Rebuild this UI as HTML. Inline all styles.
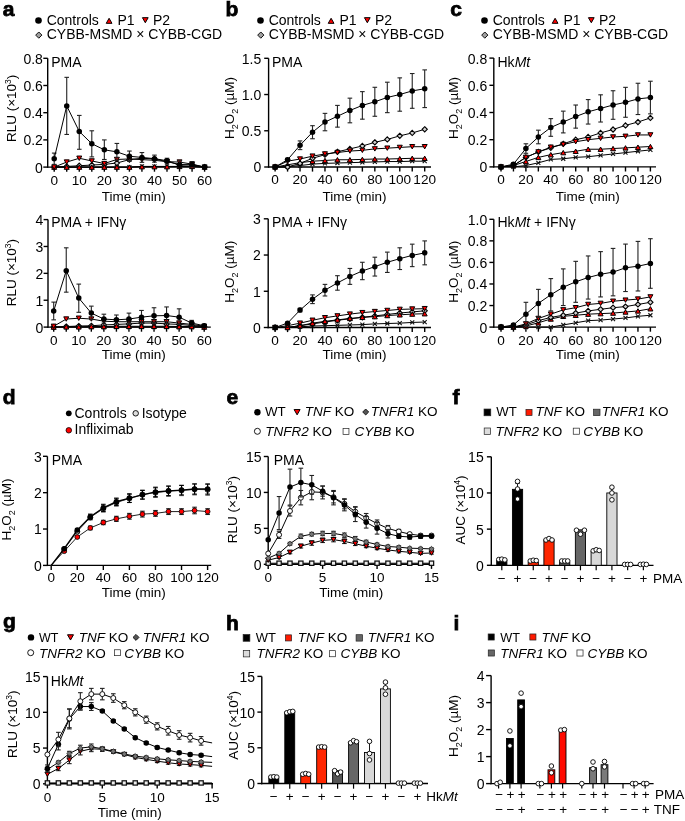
<!DOCTYPE html><html><head><meta charset="utf-8"><style>html,body{margin:0;padding:0;background:#fff;}svg{display:block;will-change:transform;}text{font-family:"Liberation Sans", sans-serif;}</style></head><body>
<svg width="685" height="821" viewBox="0 0 685 821">
<text x="2.8" y="15.6" font-size="21" text-anchor="start" font-weight="bold" font-style="normal" fill="#000" stroke="#000" stroke-width="0.75">a</text>
<circle cx="38.5" cy="20.5" r="3.3" fill="#000"/>
<text x="46.7" y="25.1" font-size="14" text-anchor="start" font-weight="normal" font-style="normal" fill="#000" >Controls</text>
<polygon points="106.22,23.33 111.97,23.33 109.1,18.27" fill="#ff0000" stroke="#000" stroke-width="1.0" stroke-linejoin="round"/>
<text x="117.5" y="25.1" font-size="14" text-anchor="start" font-weight="normal" font-style="normal" fill="#000" >P1</text>
<polygon points="142.43,17.67 148.18,17.67 145.3,22.73" fill="#ff0000" stroke="#000" stroke-width="1.0" stroke-linejoin="round"/>
<text x="153" y="25.1" font-size="14" text-anchor="start" font-weight="normal" font-style="normal" fill="#000" >P2</text>
<polygon points="38.8,31.98 41.92,35.1 38.8,38.22 35.68,35.1" fill="#a0a0a0" stroke="#111" stroke-width="1.0"/>
<text x="46.7" y="39.4" font-size="14" text-anchor="start" font-weight="normal" font-style="normal" fill="#000"  textLength="175.5" lengthAdjust="spacingAndGlyphs">CYBB-MSMD × CYBB-CGD</text>
<line x1="47.7" y1="58.3" x2="47.7" y2="167.75" stroke="#000" stroke-width="1.4" />
<line x1="43.3" y1="167.1" x2="47.7" y2="167.1" stroke="#000" stroke-width="1.4" />
<text x="42.9" y="172.5" font-size="14" text-anchor="end" font-weight="normal" font-style="normal" fill="#000" >0</text>
<line x1="43.3" y1="139.9" x2="47.7" y2="139.9" stroke="#000" stroke-width="1.4" />
<text x="42.9" y="145.3" font-size="14" text-anchor="end" font-weight="normal" font-style="normal" fill="#000" >0.2</text>
<line x1="43.3" y1="112.7" x2="47.7" y2="112.7" stroke="#000" stroke-width="1.4" />
<text x="42.9" y="118.1" font-size="14" text-anchor="end" font-weight="normal" font-style="normal" fill="#000" >0.4</text>
<line x1="43.3" y1="85.5" x2="47.7" y2="85.5" stroke="#000" stroke-width="1.4" />
<text x="42.9" y="90.9" font-size="14" text-anchor="end" font-weight="normal" font-style="normal" fill="#000" >0.6</text>
<line x1="43.3" y1="58.3" x2="47.7" y2="58.3" stroke="#000" stroke-width="1.4" />
<text x="42.9" y="63.7" font-size="14" text-anchor="end" font-weight="normal" font-style="normal" fill="#000" >0.8</text>
<line x1="47.05" y1="167.1" x2="210.8" y2="167.1" stroke="#000" stroke-width="1.4" />
<line x1="54.2" y1="167.1" x2="54.2" y2="171.7" stroke="#000" stroke-width="1.4" />
<text x="54.2" y="184.5" font-size="13.6" text-anchor="middle" font-weight="normal" font-style="normal" fill="#000" >0</text>
<line x1="66.73" y1="167.1" x2="66.73" y2="171.7" stroke="#000" stroke-width="1.4" />
<line x1="79.27" y1="167.1" x2="79.27" y2="171.7" stroke="#000" stroke-width="1.4" />
<text x="79.27" y="184.5" font-size="13.6" text-anchor="middle" font-weight="normal" font-style="normal" fill="#000" >10</text>
<line x1="91.8" y1="167.1" x2="91.8" y2="171.7" stroke="#000" stroke-width="1.4" />
<line x1="104.33" y1="167.1" x2="104.33" y2="171.7" stroke="#000" stroke-width="1.4" />
<text x="104.33" y="184.5" font-size="13.6" text-anchor="middle" font-weight="normal" font-style="normal" fill="#000" >20</text>
<line x1="116.87" y1="167.1" x2="116.87" y2="171.7" stroke="#000" stroke-width="1.4" />
<line x1="129.4" y1="167.1" x2="129.4" y2="171.7" stroke="#000" stroke-width="1.4" />
<text x="129.4" y="184.5" font-size="13.6" text-anchor="middle" font-weight="normal" font-style="normal" fill="#000" >30</text>
<line x1="141.93" y1="167.1" x2="141.93" y2="171.7" stroke="#000" stroke-width="1.4" />
<line x1="154.47" y1="167.1" x2="154.47" y2="171.7" stroke="#000" stroke-width="1.4" />
<text x="154.47" y="184.5" font-size="13.6" text-anchor="middle" font-weight="normal" font-style="normal" fill="#000" >40</text>
<line x1="167" y1="167.1" x2="167" y2="171.7" stroke="#000" stroke-width="1.4" />
<line x1="179.53" y1="167.1" x2="179.53" y2="171.7" stroke="#000" stroke-width="1.4" />
<text x="179.53" y="184.5" font-size="13.6" text-anchor="middle" font-weight="normal" font-style="normal" fill="#000" >50</text>
<line x1="192.07" y1="167.1" x2="192.07" y2="171.7" stroke="#000" stroke-width="1.4" />
<line x1="204.6" y1="167.1" x2="204.6" y2="171.7" stroke="#000" stroke-width="1.4" />
<text x="204.6" y="184.5" font-size="13.6" text-anchor="middle" font-weight="normal" font-style="normal" fill="#000" >60</text>
<text x="51.2" y="66.5" font-size="14" text-anchor="start" font-weight="normal" font-style="normal" fill="#000" >PMA</text>
<text x="0" y="0" font-size="13.5" text-anchor="middle" transform="translate(16.2,108.4) rotate(-90)">RLU (×10<tspan font-size="8.5" dy="-5">3</tspan><tspan dy="5">)</tspan></text>
<text x="133.8" y="200.6" font-size="13.5" text-anchor="middle" font-weight="normal" font-style="normal" fill="#000" >Time (min)</text>
<path d="M54.2,167.1 L66.73,167.1 L79.27,167.1 L91.8,167.1 L104.33,167.1 L116.87,167.1 L129.4,167.1 L141.93,166.42 L154.47,166.42 L167,166.42 L179.53,166.42 L192.07,166.42 L204.6,167.1" fill="none" stroke="#000" stroke-width="1.0"/>
<path d="M52.2,165.1L56.2,169.1M56.2,165.1L52.2,169.1" stroke="#111" stroke-width="1.1" fill="none"/>
<path d="M64.73,165.1L68.73,169.1M68.73,165.1L64.73,169.1" stroke="#111" stroke-width="1.1" fill="none"/>
<path d="M77.27,165.1L81.27,169.1M81.27,165.1L77.27,169.1" stroke="#111" stroke-width="1.1" fill="none"/>
<path d="M89.8,165.1L93.8,169.1M93.8,165.1L89.8,169.1" stroke="#111" stroke-width="1.1" fill="none"/>
<path d="M102.33,165.1L106.33,169.1M106.33,165.1L102.33,169.1" stroke="#111" stroke-width="1.1" fill="none"/>
<path d="M114.87,165.1L118.87,169.1M118.87,165.1L114.87,169.1" stroke="#111" stroke-width="1.1" fill="none"/>
<path d="M127.4,165.1L131.4,169.1M131.4,165.1L127.4,169.1" stroke="#111" stroke-width="1.1" fill="none"/>
<path d="M139.93,164.42L143.93,168.42M143.93,164.42L139.93,168.42" stroke="#111" stroke-width="1.1" fill="none"/>
<path d="M152.47,164.42L156.47,168.42M156.47,164.42L152.47,168.42" stroke="#111" stroke-width="1.1" fill="none"/>
<path d="M165,164.42L169,168.42M169,164.42L165,168.42" stroke="#111" stroke-width="1.1" fill="none"/>
<path d="M177.53,164.42L181.53,168.42M181.53,164.42L177.53,168.42" stroke="#111" stroke-width="1.1" fill="none"/>
<path d="M190.07,164.42L194.07,168.42M194.07,164.42L190.07,168.42" stroke="#111" stroke-width="1.1" fill="none"/>
<path d="M202.6,165.1L206.6,169.1M206.6,165.1L202.6,169.1" stroke="#111" stroke-width="1.1" fill="none"/>
<path d="M54.2,167.1 L66.73,166.42 L79.27,165.74 L91.8,165.06 L104.33,164.38 L116.87,163.02 L129.4,159.62 L141.93,158.26 L154.47,158.94 L167,161.66 L179.53,164.38 L192.07,165.06 L204.6,167.1" fill="none" stroke="#000" stroke-width="1.0"/>
<polygon points="54.2,164.5 56.8,167.1 54.2,169.7 51.6,167.1" fill="#d0d0d0" stroke="#000" stroke-width="1.1"/>
<polygon points="66.73,163.82 69.33,166.42 66.73,169.02 64.13,166.42" fill="#d0d0d0" stroke="#000" stroke-width="1.1"/>
<polygon points="79.27,163.14 81.87,165.74 79.27,168.34 76.67,165.74" fill="#d0d0d0" stroke="#000" stroke-width="1.1"/>
<polygon points="91.8,162.46 94.4,165.06 91.8,167.66 89.2,165.06" fill="#d0d0d0" stroke="#000" stroke-width="1.1"/>
<polygon points="104.33,161.78 106.93,164.38 104.33,166.98 101.73,164.38" fill="#d0d0d0" stroke="#000" stroke-width="1.1"/>
<polygon points="116.87,160.42 119.47,163.02 116.87,165.62 114.27,163.02" fill="#d0d0d0" stroke="#000" stroke-width="1.1"/>
<polygon points="129.4,157.02 132,159.62 129.4,162.22 126.8,159.62" fill="#d0d0d0" stroke="#000" stroke-width="1.1"/>
<polygon points="141.93,155.66 144.53,158.26 141.93,160.86 139.33,158.26" fill="#d0d0d0" stroke="#000" stroke-width="1.1"/>
<polygon points="154.47,156.34 157.07,158.94 154.47,161.54 151.87,158.94" fill="#d0d0d0" stroke="#000" stroke-width="1.1"/>
<polygon points="167,159.06 169.6,161.66 167,164.26 164.4,161.66" fill="#d0d0d0" stroke="#000" stroke-width="1.1"/>
<polygon points="179.53,161.78 182.13,164.38 179.53,166.98 176.93,164.38" fill="#d0d0d0" stroke="#000" stroke-width="1.1"/>
<polygon points="192.07,162.46 194.67,165.06 192.07,167.66 189.47,165.06" fill="#d0d0d0" stroke="#000" stroke-width="1.1"/>
<polygon points="204.6,164.5 207.2,167.1 204.6,169.7 202,167.1" fill="#d0d0d0" stroke="#000" stroke-width="1.1"/>
<path d="M54.2,167.1 L66.73,167.1 L79.27,167.1 L91.8,167.1 L104.33,167.1 L116.87,167.1 L129.4,167.1 L141.93,166.69 L154.47,166.69 L167,166.69 L179.53,166.42 L192.07,166.42 L204.6,167.1" fill="none" stroke="#000" stroke-width="1.0"/>
<polygon points="51.7,169.3 56.7,169.3 54.2,164.9" fill="#ff0000" stroke="#000" stroke-width="1.0" stroke-linejoin="round"/>
<polygon points="64.23,169.3 69.23,169.3 66.73,164.9" fill="#ff0000" stroke="#000" stroke-width="1.0" stroke-linejoin="round"/>
<polygon points="76.77,169.3 81.77,169.3 79.27,164.9" fill="#ff0000" stroke="#000" stroke-width="1.0" stroke-linejoin="round"/>
<polygon points="89.3,169.3 94.3,169.3 91.8,164.9" fill="#ff0000" stroke="#000" stroke-width="1.0" stroke-linejoin="round"/>
<polygon points="101.83,169.3 106.83,169.3 104.33,164.9" fill="#ff0000" stroke="#000" stroke-width="1.0" stroke-linejoin="round"/>
<polygon points="114.37,169.3 119.37,169.3 116.87,164.9" fill="#ff0000" stroke="#000" stroke-width="1.0" stroke-linejoin="round"/>
<polygon points="126.9,169.3 131.9,169.3 129.4,164.9" fill="#ff0000" stroke="#000" stroke-width="1.0" stroke-linejoin="round"/>
<polygon points="139.43,168.89 144.43,168.89 141.93,164.49" fill="#ff0000" stroke="#000" stroke-width="1.0" stroke-linejoin="round"/>
<polygon points="151.97,168.89 156.97,168.89 154.47,164.49" fill="#ff0000" stroke="#000" stroke-width="1.0" stroke-linejoin="round"/>
<polygon points="164.5,168.89 169.5,168.89 167,164.49" fill="#ff0000" stroke="#000" stroke-width="1.0" stroke-linejoin="round"/>
<polygon points="177.03,168.62 182.03,168.62 179.53,164.22" fill="#ff0000" stroke="#000" stroke-width="1.0" stroke-linejoin="round"/>
<polygon points="189.57,168.62 194.57,168.62 192.07,164.22" fill="#ff0000" stroke="#000" stroke-width="1.0" stroke-linejoin="round"/>
<polygon points="202.1,169.3 207.1,169.3 204.6,164.9" fill="#ff0000" stroke="#000" stroke-width="1.0" stroke-linejoin="round"/>
<path d="M54.2,167.1 L66.73,162.07 L79.27,158.26 L91.8,160.98 L104.33,163.56 L116.87,159.48 L129.4,158.94 L141.93,159.62 L154.47,160.3 L167,161.66 L179.53,162.07 L192.07,164.11 L204.6,167.1" fill="none" stroke="#000" stroke-width="1.0"/>
<polygon points="51.7,164.9 56.7,164.9 54.2,169.3" fill="#ff0000" stroke="#000" stroke-width="1.0" stroke-linejoin="round"/>
<polygon points="64.23,159.87 69.23,159.87 66.73,164.27" fill="#ff0000" stroke="#000" stroke-width="1.0" stroke-linejoin="round"/>
<polygon points="76.77,156.06 81.77,156.06 79.27,160.46" fill="#ff0000" stroke="#000" stroke-width="1.0" stroke-linejoin="round"/>
<polygon points="89.3,158.78 94.3,158.78 91.8,163.18" fill="#ff0000" stroke="#000" stroke-width="1.0" stroke-linejoin="round"/>
<polygon points="101.83,161.36 106.83,161.36 104.33,165.76" fill="#ff0000" stroke="#000" stroke-width="1.0" stroke-linejoin="round"/>
<polygon points="114.37,157.28 119.37,157.28 116.87,161.68" fill="#ff0000" stroke="#000" stroke-width="1.0" stroke-linejoin="round"/>
<polygon points="126.9,156.74 131.9,156.74 129.4,161.14" fill="#ff0000" stroke="#000" stroke-width="1.0" stroke-linejoin="round"/>
<polygon points="139.43,157.42 144.43,157.42 141.93,161.82" fill="#ff0000" stroke="#000" stroke-width="1.0" stroke-linejoin="round"/>
<polygon points="151.97,158.1 156.97,158.1 154.47,162.5" fill="#ff0000" stroke="#000" stroke-width="1.0" stroke-linejoin="round"/>
<polygon points="164.5,159.46 169.5,159.46 167,163.86" fill="#ff0000" stroke="#000" stroke-width="1.0" stroke-linejoin="round"/>
<polygon points="177.03,159.87 182.03,159.87 179.53,164.27" fill="#ff0000" stroke="#000" stroke-width="1.0" stroke-linejoin="round"/>
<polygon points="189.57,161.91 194.57,161.91 192.07,166.31" fill="#ff0000" stroke="#000" stroke-width="1.0" stroke-linejoin="round"/>
<polygon points="202.1,164.9 207.1,164.9 204.6,169.3" fill="#ff0000" stroke="#000" stroke-width="1.0" stroke-linejoin="round"/>
<line x1="54.2" y1="153.09" x2="54.2" y2="164.38" stroke="#222" stroke-width="1.1" />
<line x1="51.9" y1="153.09" x2="56.5" y2="153.09" stroke="#222" stroke-width="1.1" />
<line x1="51.9" y1="164.38" x2="56.5" y2="164.38" stroke="#222" stroke-width="1.1" />
<line x1="66.73" y1="77.34" x2="66.73" y2="134.46" stroke="#222" stroke-width="1.1" />
<line x1="64.43" y1="77.34" x2="69.03" y2="77.34" stroke="#222" stroke-width="1.1" />
<line x1="64.43" y1="134.46" x2="69.03" y2="134.46" stroke="#222" stroke-width="1.1" />
<line x1="79.27" y1="115.42" x2="79.27" y2="149.28" stroke="#222" stroke-width="1.1" />
<line x1="76.97" y1="115.42" x2="81.57" y2="115.42" stroke="#222" stroke-width="1.1" />
<line x1="76.97" y1="149.28" x2="81.57" y2="149.28" stroke="#222" stroke-width="1.1" />
<line x1="91.8" y1="130.79" x2="91.8" y2="156.9" stroke="#222" stroke-width="1.1" />
<line x1="89.5" y1="130.79" x2="94.1" y2="130.79" stroke="#222" stroke-width="1.1" />
<line x1="89.5" y1="156.9" x2="94.1" y2="156.9" stroke="#222" stroke-width="1.1" />
<line x1="104.33" y1="139.9" x2="104.33" y2="159.48" stroke="#222" stroke-width="1.1" />
<line x1="102.03" y1="139.9" x2="106.63" y2="139.9" stroke="#222" stroke-width="1.1" />
<line x1="102.03" y1="159.48" x2="106.63" y2="159.48" stroke="#222" stroke-width="1.1" />
<line x1="116.87" y1="143.44" x2="116.87" y2="160.3" stroke="#222" stroke-width="1.1" />
<line x1="114.57" y1="143.44" x2="119.17" y2="143.44" stroke="#222" stroke-width="1.1" />
<line x1="114.57" y1="160.3" x2="119.17" y2="160.3" stroke="#222" stroke-width="1.1" />
<line x1="129.4" y1="151.05" x2="129.4" y2="161.39" stroke="#222" stroke-width="1.1" />
<line x1="127.1" y1="151.05" x2="131.7" y2="151.05" stroke="#222" stroke-width="1.1" />
<line x1="127.1" y1="161.39" x2="131.7" y2="161.39" stroke="#222" stroke-width="1.1" />
<line x1="141.93" y1="152.55" x2="141.93" y2="162.34" stroke="#222" stroke-width="1.1" />
<line x1="139.63" y1="152.55" x2="144.23" y2="152.55" stroke="#222" stroke-width="1.1" />
<line x1="139.63" y1="162.34" x2="144.23" y2="162.34" stroke="#222" stroke-width="1.1" />
<line x1="154.47" y1="155.13" x2="154.47" y2="162.2" stroke="#222" stroke-width="1.1" />
<line x1="152.17" y1="155.13" x2="156.77" y2="155.13" stroke="#222" stroke-width="1.1" />
<line x1="152.17" y1="162.2" x2="156.77" y2="162.2" stroke="#222" stroke-width="1.1" />
<line x1="167" y1="158.26" x2="167" y2="163.02" stroke="#222" stroke-width="1.1" />
<line x1="164.7" y1="158.26" x2="169.3" y2="158.26" stroke="#222" stroke-width="1.1" />
<line x1="164.7" y1="163.02" x2="169.3" y2="163.02" stroke="#222" stroke-width="1.1" />
<line x1="179.53" y1="160.71" x2="179.53" y2="167.1" stroke="#222" stroke-width="1.1" />
<line x1="177.23" y1="160.71" x2="181.83" y2="160.71" stroke="#222" stroke-width="1.1" />
<line x1="177.23" y1="167.1" x2="181.83" y2="167.1" stroke="#222" stroke-width="1.1" />
<line x1="192.07" y1="161.52" x2="192.07" y2="167.1" stroke="#222" stroke-width="1.1" />
<line x1="189.77" y1="161.52" x2="194.37" y2="161.52" stroke="#222" stroke-width="1.1" />
<line x1="189.77" y1="167.1" x2="194.37" y2="167.1" stroke="#222" stroke-width="1.1" />
<path d="M54.2,158.67 L66.73,105.9 L79.27,131.47 L91.8,143.71 L104.33,149.83 L116.87,151.87 L129.4,156.22 L141.93,157.44 L154.47,158.67 L167,160.71 L179.53,165.33 L192.07,164.52 L204.6,167.1" fill="none" stroke="#000" stroke-width="1.0"/>
<circle cx="54.2" cy="158.67" r="2.75" fill="#000"/>
<circle cx="66.73" cy="105.9" r="2.75" fill="#000"/>
<circle cx="79.27" cy="131.47" r="2.75" fill="#000"/>
<circle cx="91.8" cy="143.71" r="2.75" fill="#000"/>
<circle cx="104.33" cy="149.83" r="2.75" fill="#000"/>
<circle cx="116.87" cy="151.87" r="2.75" fill="#000"/>
<circle cx="129.4" cy="156.22" r="2.75" fill="#000"/>
<circle cx="141.93" cy="157.44" r="2.75" fill="#000"/>
<circle cx="154.47" cy="158.67" r="2.75" fill="#000"/>
<circle cx="167" cy="160.71" r="2.75" fill="#000"/>
<circle cx="179.53" cy="165.33" r="2.75" fill="#000"/>
<circle cx="192.07" cy="164.52" r="2.75" fill="#000"/>
<circle cx="204.6" cy="167.1" r="2.75" fill="#000"/>
<line x1="48" y1="219.6" x2="48" y2="327.75" stroke="#000" stroke-width="1.4" />
<line x1="43.6" y1="327.1" x2="48" y2="327.1" stroke="#000" stroke-width="1.4" />
<text x="43.2" y="332.5" font-size="14" text-anchor="end" font-weight="normal" font-style="normal" fill="#000" >0</text>
<line x1="43.6" y1="300.23" x2="48" y2="300.23" stroke="#000" stroke-width="1.4" />
<text x="43.2" y="305.62" font-size="14" text-anchor="end" font-weight="normal" font-style="normal" fill="#000" >1</text>
<line x1="43.6" y1="273.35" x2="48" y2="273.35" stroke="#000" stroke-width="1.4" />
<text x="43.2" y="278.75" font-size="14" text-anchor="end" font-weight="normal" font-style="normal" fill="#000" >2</text>
<line x1="43.6" y1="246.47" x2="48" y2="246.47" stroke="#000" stroke-width="1.4" />
<text x="43.2" y="251.88" font-size="14" text-anchor="end" font-weight="normal" font-style="normal" fill="#000" >3</text>
<line x1="43.6" y1="219.6" x2="48" y2="219.6" stroke="#000" stroke-width="1.4" />
<text x="43.2" y="225" font-size="14" text-anchor="end" font-weight="normal" font-style="normal" fill="#000" >4</text>
<line x1="47.35" y1="327.1" x2="210.8" y2="327.1" stroke="#000" stroke-width="1.4" />
<line x1="53.7" y1="327.1" x2="53.7" y2="331.7" stroke="#000" stroke-width="1.4" />
<text x="53.7" y="344.5" font-size="13.6" text-anchor="middle" font-weight="normal" font-style="normal" fill="#000" >0</text>
<line x1="66.24" y1="327.1" x2="66.24" y2="331.7" stroke="#000" stroke-width="1.4" />
<line x1="78.78" y1="327.1" x2="78.78" y2="331.7" stroke="#000" stroke-width="1.4" />
<text x="78.78" y="344.5" font-size="13.6" text-anchor="middle" font-weight="normal" font-style="normal" fill="#000" >10</text>
<line x1="91.33" y1="327.1" x2="91.33" y2="331.7" stroke="#000" stroke-width="1.4" />
<line x1="103.87" y1="327.1" x2="103.87" y2="331.7" stroke="#000" stroke-width="1.4" />
<text x="103.87" y="344.5" font-size="13.6" text-anchor="middle" font-weight="normal" font-style="normal" fill="#000" >20</text>
<line x1="116.41" y1="327.1" x2="116.41" y2="331.7" stroke="#000" stroke-width="1.4" />
<line x1="128.95" y1="327.1" x2="128.95" y2="331.7" stroke="#000" stroke-width="1.4" />
<text x="128.95" y="344.5" font-size="13.6" text-anchor="middle" font-weight="normal" font-style="normal" fill="#000" >30</text>
<line x1="141.49" y1="327.1" x2="141.49" y2="331.7" stroke="#000" stroke-width="1.4" />
<line x1="154.03" y1="327.1" x2="154.03" y2="331.7" stroke="#000" stroke-width="1.4" />
<text x="154.03" y="344.5" font-size="13.6" text-anchor="middle" font-weight="normal" font-style="normal" fill="#000" >40</text>
<line x1="166.57" y1="327.1" x2="166.57" y2="331.7" stroke="#000" stroke-width="1.4" />
<line x1="179.12" y1="327.1" x2="179.12" y2="331.7" stroke="#000" stroke-width="1.4" />
<text x="179.12" y="344.5" font-size="13.6" text-anchor="middle" font-weight="normal" font-style="normal" fill="#000" >50</text>
<line x1="191.66" y1="327.1" x2="191.66" y2="331.7" stroke="#000" stroke-width="1.4" />
<line x1="204.2" y1="327.1" x2="204.2" y2="331.7" stroke="#000" stroke-width="1.4" />
<text x="204.2" y="344.5" font-size="13.6" text-anchor="middle" font-weight="normal" font-style="normal" fill="#000" >60</text>
<text x="51.2" y="226.5" font-size="14" text-anchor="start" font-weight="normal" font-style="normal" fill="#000" >PMA + IFNγ</text>
<text x="0" y="0" font-size="13.5" text-anchor="middle" transform="translate(16.2,272.6) rotate(-90)">RLU (×10<tspan font-size="8.5" dy="-5">3</tspan><tspan dy="5">)</tspan></text>
<text x="133.8" y="358.5" font-size="13.5" text-anchor="middle" font-weight="normal" font-style="normal" fill="#000" >Time (min)</text>
<path d="M53.7,327.1 L66.24,327.1 L78.78,327.1 L91.33,327.1 L103.87,327.1 L116.41,327.1 L128.95,327.1 L141.49,327.1 L154.03,327.1 L166.57,327.1 L179.12,327.1 L191.66,327.1 L204.2,327.1" fill="none" stroke="#000" stroke-width="1.0"/>
<path d="M51.7,325.1L55.7,329.1M55.7,325.1L51.7,329.1" stroke="#111" stroke-width="1.1" fill="none"/>
<path d="M64.24,325.1L68.24,329.1M68.24,325.1L64.24,329.1" stroke="#111" stroke-width="1.1" fill="none"/>
<path d="M76.78,325.1L80.78,329.1M80.78,325.1L76.78,329.1" stroke="#111" stroke-width="1.1" fill="none"/>
<path d="M89.33,325.1L93.33,329.1M93.33,325.1L89.33,329.1" stroke="#111" stroke-width="1.1" fill="none"/>
<path d="M101.87,325.1L105.87,329.1M105.87,325.1L101.87,329.1" stroke="#111" stroke-width="1.1" fill="none"/>
<path d="M114.41,325.1L118.41,329.1M118.41,325.1L114.41,329.1" stroke="#111" stroke-width="1.1" fill="none"/>
<path d="M126.95,325.1L130.95,329.1M130.95,325.1L126.95,329.1" stroke="#111" stroke-width="1.1" fill="none"/>
<path d="M139.49,325.1L143.49,329.1M143.49,325.1L139.49,329.1" stroke="#111" stroke-width="1.1" fill="none"/>
<path d="M152.03,325.1L156.03,329.1M156.03,325.1L152.03,329.1" stroke="#111" stroke-width="1.1" fill="none"/>
<path d="M164.57,325.1L168.57,329.1M168.57,325.1L164.57,329.1" stroke="#111" stroke-width="1.1" fill="none"/>
<path d="M177.12,325.1L181.12,329.1M181.12,325.1L177.12,329.1" stroke="#111" stroke-width="1.1" fill="none"/>
<path d="M189.66,325.1L193.66,329.1M193.66,325.1L189.66,329.1" stroke="#111" stroke-width="1.1" fill="none"/>
<path d="M202.2,325.1L206.2,329.1M206.2,325.1L202.2,329.1" stroke="#111" stroke-width="1.1" fill="none"/>
<path d="M53.7,327.1 L66.24,326.56 L78.78,326.03 L91.33,325.76 L103.87,324.95 L116.41,324.41 L128.95,323.88 L141.49,323.07 L154.03,323.07 L166.57,323.88 L179.12,324.41 L191.66,325.49 L204.2,326.56" fill="none" stroke="#000" stroke-width="1.0"/>
<polygon points="53.7,324.5 56.3,327.1 53.7,329.7 51.1,327.1" fill="#d0d0d0" stroke="#000" stroke-width="1.1"/>
<polygon points="66.24,323.96 68.84,326.56 66.24,329.16 63.64,326.56" fill="#d0d0d0" stroke="#000" stroke-width="1.1"/>
<polygon points="78.78,323.43 81.38,326.03 78.78,328.63 76.18,326.03" fill="#d0d0d0" stroke="#000" stroke-width="1.1"/>
<polygon points="91.33,323.16 93.92,325.76 91.33,328.36 88.73,325.76" fill="#d0d0d0" stroke="#000" stroke-width="1.1"/>
<polygon points="103.87,322.35 106.47,324.95 103.87,327.55 101.27,324.95" fill="#d0d0d0" stroke="#000" stroke-width="1.1"/>
<polygon points="116.41,321.81 119.01,324.41 116.41,327.01 113.81,324.41" fill="#d0d0d0" stroke="#000" stroke-width="1.1"/>
<polygon points="128.95,321.27 131.55,323.88 128.95,326.48 126.35,323.88" fill="#d0d0d0" stroke="#000" stroke-width="1.1"/>
<polygon points="141.49,320.47 144.09,323.07 141.49,325.67 138.89,323.07" fill="#d0d0d0" stroke="#000" stroke-width="1.1"/>
<polygon points="154.03,320.47 156.63,323.07 154.03,325.67 151.43,323.07" fill="#d0d0d0" stroke="#000" stroke-width="1.1"/>
<polygon points="166.57,321.27 169.17,323.88 166.57,326.48 163.97,323.88" fill="#d0d0d0" stroke="#000" stroke-width="1.1"/>
<polygon points="179.12,321.81 181.72,324.41 179.12,327.01 176.52,324.41" fill="#d0d0d0" stroke="#000" stroke-width="1.1"/>
<polygon points="191.66,322.89 194.26,325.49 191.66,328.09 189.06,325.49" fill="#d0d0d0" stroke="#000" stroke-width="1.1"/>
<polygon points="204.2,323.96 206.8,326.56 204.2,329.16 201.6,326.56" fill="#d0d0d0" stroke="#000" stroke-width="1.1"/>
<path d="M53.7,327.1 L66.24,326.83 L78.78,326.83 L91.33,326.56 L103.87,326.56 L116.41,326.29 L128.95,326.29 L141.49,326.29 L154.03,326.29 L166.57,326.29 L179.12,326.56 L191.66,326.56 L204.2,327.1" fill="none" stroke="#000" stroke-width="1.0"/>
<polygon points="51.2,329.3 56.2,329.3 53.7,324.9" fill="#ff0000" stroke="#000" stroke-width="1.0" stroke-linejoin="round"/>
<polygon points="63.74,329.03 68.74,329.03 66.24,324.63" fill="#ff0000" stroke="#000" stroke-width="1.0" stroke-linejoin="round"/>
<polygon points="76.28,329.03 81.28,329.03 78.78,324.63" fill="#ff0000" stroke="#000" stroke-width="1.0" stroke-linejoin="round"/>
<polygon points="88.83,328.76 93.83,328.76 91.33,324.36" fill="#ff0000" stroke="#000" stroke-width="1.0" stroke-linejoin="round"/>
<polygon points="101.37,328.76 106.37,328.76 103.87,324.36" fill="#ff0000" stroke="#000" stroke-width="1.0" stroke-linejoin="round"/>
<polygon points="113.91,328.49 118.91,328.49 116.41,324.09" fill="#ff0000" stroke="#000" stroke-width="1.0" stroke-linejoin="round"/>
<polygon points="126.45,328.49 131.45,328.49 128.95,324.09" fill="#ff0000" stroke="#000" stroke-width="1.0" stroke-linejoin="round"/>
<polygon points="138.99,328.49 143.99,328.49 141.49,324.09" fill="#ff0000" stroke="#000" stroke-width="1.0" stroke-linejoin="round"/>
<polygon points="151.53,328.49 156.53,328.49 154.03,324.09" fill="#ff0000" stroke="#000" stroke-width="1.0" stroke-linejoin="round"/>
<polygon points="164.07,328.49 169.07,328.49 166.57,324.09" fill="#ff0000" stroke="#000" stroke-width="1.0" stroke-linejoin="round"/>
<polygon points="176.62,328.76 181.62,328.76 179.12,324.36" fill="#ff0000" stroke="#000" stroke-width="1.0" stroke-linejoin="round"/>
<polygon points="189.16,328.76 194.16,328.76 191.66,324.36" fill="#ff0000" stroke="#000" stroke-width="1.0" stroke-linejoin="round"/>
<polygon points="201.7,329.3 206.7,329.3 204.2,324.9" fill="#ff0000" stroke="#000" stroke-width="1.0" stroke-linejoin="round"/>
<path d="M53.7,326.29 L66.24,319.04 L78.78,318.23 L91.33,319.04 L103.87,321.19 L116.41,321.73 L128.95,321.73 L141.49,321.73 L154.03,321.73 L166.57,321.73 L179.12,323.07 L191.66,324.41 L204.2,326.29" fill="none" stroke="#000" stroke-width="1.0"/>
<polygon points="51.2,324.09 56.2,324.09 53.7,328.49" fill="#ff0000" stroke="#000" stroke-width="1.0" stroke-linejoin="round"/>
<polygon points="63.74,316.84 68.74,316.84 66.24,321.24" fill="#ff0000" stroke="#000" stroke-width="1.0" stroke-linejoin="round"/>
<polygon points="76.28,316.03 81.28,316.03 78.78,320.43" fill="#ff0000" stroke="#000" stroke-width="1.0" stroke-linejoin="round"/>
<polygon points="88.83,316.84 93.83,316.84 91.33,321.24" fill="#ff0000" stroke="#000" stroke-width="1.0" stroke-linejoin="round"/>
<polygon points="101.37,318.99 106.37,318.99 103.87,323.39" fill="#ff0000" stroke="#000" stroke-width="1.0" stroke-linejoin="round"/>
<polygon points="113.91,319.53 118.91,319.53 116.41,323.93" fill="#ff0000" stroke="#000" stroke-width="1.0" stroke-linejoin="round"/>
<polygon points="126.45,319.53 131.45,319.53 128.95,323.93" fill="#ff0000" stroke="#000" stroke-width="1.0" stroke-linejoin="round"/>
<polygon points="138.99,319.53 143.99,319.53 141.49,323.93" fill="#ff0000" stroke="#000" stroke-width="1.0" stroke-linejoin="round"/>
<polygon points="151.53,319.53 156.53,319.53 154.03,323.93" fill="#ff0000" stroke="#000" stroke-width="1.0" stroke-linejoin="round"/>
<polygon points="164.07,319.53 169.07,319.53 166.57,323.93" fill="#ff0000" stroke="#000" stroke-width="1.0" stroke-linejoin="round"/>
<polygon points="176.62,320.87 181.62,320.87 179.12,325.27" fill="#ff0000" stroke="#000" stroke-width="1.0" stroke-linejoin="round"/>
<polygon points="189.16,322.21 194.16,322.21 191.66,326.61" fill="#ff0000" stroke="#000" stroke-width="1.0" stroke-linejoin="round"/>
<polygon points="201.7,324.09 206.7,324.09 204.2,328.49" fill="#ff0000" stroke="#000" stroke-width="1.0" stroke-linejoin="round"/>
<line x1="53.7" y1="302.11" x2="53.7" y2="319.84" stroke="#222" stroke-width="1.1" />
<line x1="51.4" y1="302.11" x2="56" y2="302.11" stroke="#222" stroke-width="1.1" />
<line x1="51.4" y1="319.84" x2="56" y2="319.84" stroke="#222" stroke-width="1.1" />
<line x1="66.24" y1="247.82" x2="66.24" y2="292.16" stroke="#222" stroke-width="1.1" />
<line x1="63.94" y1="247.82" x2="68.54" y2="247.82" stroke="#222" stroke-width="1.1" />
<line x1="63.94" y1="292.16" x2="68.54" y2="292.16" stroke="#222" stroke-width="1.1" />
<line x1="78.78" y1="284.1" x2="78.78" y2="312.32" stroke="#222" stroke-width="1.1" />
<line x1="76.48" y1="284.1" x2="81.08" y2="284.1" stroke="#222" stroke-width="1.1" />
<line x1="76.48" y1="312.32" x2="81.08" y2="312.32" stroke="#222" stroke-width="1.1" />
<line x1="91.33" y1="306.14" x2="91.33" y2="319.58" stroke="#222" stroke-width="1.1" />
<line x1="89.03" y1="306.14" x2="93.62" y2="306.14" stroke="#222" stroke-width="1.1" />
<line x1="89.03" y1="319.58" x2="93.62" y2="319.58" stroke="#222" stroke-width="1.1" />
<line x1="103.87" y1="314.2" x2="103.87" y2="323.07" stroke="#222" stroke-width="1.1" />
<line x1="101.57" y1="314.2" x2="106.17" y2="314.2" stroke="#222" stroke-width="1.1" />
<line x1="101.57" y1="323.07" x2="106.17" y2="323.07" stroke="#222" stroke-width="1.1" />
<line x1="116.41" y1="315.01" x2="116.41" y2="323.88" stroke="#222" stroke-width="1.1" />
<line x1="114.11" y1="315.01" x2="118.71" y2="315.01" stroke="#222" stroke-width="1.1" />
<line x1="114.11" y1="323.88" x2="118.71" y2="323.88" stroke="#222" stroke-width="1.1" />
<line x1="128.95" y1="313.12" x2="128.95" y2="323.88" stroke="#222" stroke-width="1.1" />
<line x1="126.65" y1="313.12" x2="131.25" y2="313.12" stroke="#222" stroke-width="1.1" />
<line x1="126.65" y1="323.88" x2="131.25" y2="323.88" stroke="#222" stroke-width="1.1" />
<line x1="141.49" y1="310.44" x2="141.49" y2="323.07" stroke="#222" stroke-width="1.1" />
<line x1="139.19" y1="310.44" x2="143.79" y2="310.44" stroke="#222" stroke-width="1.1" />
<line x1="139.19" y1="323.07" x2="143.79" y2="323.07" stroke="#222" stroke-width="1.1" />
<line x1="154.03" y1="307.75" x2="154.03" y2="323.34" stroke="#222" stroke-width="1.1" />
<line x1="151.73" y1="307.75" x2="156.33" y2="307.75" stroke="#222" stroke-width="1.1" />
<line x1="151.73" y1="323.34" x2="156.33" y2="323.34" stroke="#222" stroke-width="1.1" />
<line x1="166.57" y1="306.94" x2="166.57" y2="323.61" stroke="#222" stroke-width="1.1" />
<line x1="164.27" y1="306.94" x2="168.88" y2="306.94" stroke="#222" stroke-width="1.1" />
<line x1="164.27" y1="323.61" x2="168.88" y2="323.61" stroke="#222" stroke-width="1.1" />
<line x1="179.12" y1="308.83" x2="179.12" y2="324.41" stroke="#222" stroke-width="1.1" />
<line x1="176.82" y1="308.83" x2="181.42" y2="308.83" stroke="#222" stroke-width="1.1" />
<line x1="176.82" y1="324.41" x2="181.42" y2="324.41" stroke="#222" stroke-width="1.1" />
<line x1="191.66" y1="320.38" x2="191.66" y2="325.76" stroke="#222" stroke-width="1.1" />
<line x1="189.36" y1="320.38" x2="193.96" y2="320.38" stroke="#222" stroke-width="1.1" />
<line x1="189.36" y1="325.76" x2="193.96" y2="325.76" stroke="#222" stroke-width="1.1" />
<path d="M53.7,310.98 L66.24,270.66 L78.78,298.07 L91.33,313.12 L103.87,319.04 L116.41,319.84 L128.95,319.04 L141.49,317.16 L154.03,315.81 L166.57,315.54 L179.12,317.16 L191.66,323.07 L204.2,325.76" fill="none" stroke="#000" stroke-width="1.0"/>
<circle cx="53.7" cy="310.98" r="2.75" fill="#000"/>
<circle cx="66.24" cy="270.66" r="2.75" fill="#000"/>
<circle cx="78.78" cy="298.07" r="2.75" fill="#000"/>
<circle cx="91.33" cy="313.12" r="2.75" fill="#000"/>
<circle cx="103.87" cy="319.04" r="2.75" fill="#000"/>
<circle cx="116.41" cy="319.84" r="2.75" fill="#000"/>
<circle cx="128.95" cy="319.04" r="2.75" fill="#000"/>
<circle cx="141.49" cy="317.16" r="2.75" fill="#000"/>
<circle cx="154.03" cy="315.81" r="2.75" fill="#000"/>
<circle cx="166.57" cy="315.54" r="2.75" fill="#000"/>
<circle cx="179.12" cy="317.16" r="2.75" fill="#000"/>
<circle cx="191.66" cy="323.07" r="2.75" fill="#000"/>
<circle cx="204.2" cy="325.76" r="2.75" fill="#000"/>
<text x="225.5" y="15.6" font-size="21" text-anchor="start" font-weight="bold" font-style="normal" fill="#000" stroke="#000" stroke-width="0.75">b</text>
<circle cx="260.5" cy="20.5" r="3.3" fill="#000"/>
<text x="268.7" y="25.1" font-size="14" text-anchor="start" font-weight="normal" font-style="normal" fill="#000" >Controls</text>
<polygon points="328.23,23.33 333.98,23.33 331.1,18.27" fill="#ff0000" stroke="#000" stroke-width="1.0" stroke-linejoin="round"/>
<text x="339.5" y="25.1" font-size="14" text-anchor="start" font-weight="normal" font-style="normal" fill="#000" >P1</text>
<polygon points="364.43,17.67 370.18,17.67 367.3,22.73" fill="#ff0000" stroke="#000" stroke-width="1.0" stroke-linejoin="round"/>
<text x="375" y="25.1" font-size="14" text-anchor="start" font-weight="normal" font-style="normal" fill="#000" >P2</text>
<polygon points="260.8,31.98 263.92,35.1 260.8,38.22 257.68,35.1" fill="#a0a0a0" stroke="#111" stroke-width="1.0"/>
<text x="268.7" y="39.4" font-size="14" text-anchor="start" font-weight="normal" font-style="normal" fill="#000"  textLength="175.5" lengthAdjust="spacingAndGlyphs">CYBB-MSMD × CYBB-CGD</text>
<line x1="268.6" y1="58.3" x2="268.6" y2="167.65" stroke="#000" stroke-width="1.4" />
<line x1="264.2" y1="167" x2="268.6" y2="167" stroke="#000" stroke-width="1.4" />
<text x="261.3" y="172.4" font-size="14" text-anchor="end" font-weight="normal" font-style="normal" fill="#000" >0</text>
<line x1="264.2" y1="130.77" x2="268.6" y2="130.77" stroke="#000" stroke-width="1.4" />
<text x="261.3" y="136.17" font-size="14" text-anchor="end" font-weight="normal" font-style="normal" fill="#000" >0.5</text>
<line x1="264.2" y1="94.53" x2="268.6" y2="94.53" stroke="#000" stroke-width="1.4" />
<text x="261.3" y="99.93" font-size="14" text-anchor="end" font-weight="normal" font-style="normal" fill="#000" >1.0</text>
<line x1="264.2" y1="58.3" x2="268.6" y2="58.3" stroke="#000" stroke-width="1.4" />
<text x="261.3" y="63.7" font-size="14" text-anchor="end" font-weight="normal" font-style="normal" fill="#000" >1.5</text>
<line x1="267.95" y1="167" x2="431" y2="167" stroke="#000" stroke-width="1.4" />
<line x1="275.1" y1="167" x2="275.1" y2="171.6" stroke="#000" stroke-width="1.4" />
<text x="275.1" y="184.4" font-size="13.6" text-anchor="middle" font-weight="normal" font-style="normal" fill="#000" >0</text>
<line x1="287.57" y1="167" x2="287.57" y2="171.6" stroke="#000" stroke-width="1.4" />
<line x1="300.03" y1="167" x2="300.03" y2="171.6" stroke="#000" stroke-width="1.4" />
<text x="300.03" y="184.4" font-size="13.6" text-anchor="middle" font-weight="normal" font-style="normal" fill="#000" >20</text>
<line x1="312.5" y1="167" x2="312.5" y2="171.6" stroke="#000" stroke-width="1.4" />
<line x1="324.97" y1="167" x2="324.97" y2="171.6" stroke="#000" stroke-width="1.4" />
<text x="324.97" y="184.4" font-size="13.6" text-anchor="middle" font-weight="normal" font-style="normal" fill="#000" >40</text>
<line x1="337.43" y1="167" x2="337.43" y2="171.6" stroke="#000" stroke-width="1.4" />
<line x1="349.9" y1="167" x2="349.9" y2="171.6" stroke="#000" stroke-width="1.4" />
<text x="349.9" y="184.4" font-size="13.6" text-anchor="middle" font-weight="normal" font-style="normal" fill="#000" >60</text>
<line x1="362.37" y1="167" x2="362.37" y2="171.6" stroke="#000" stroke-width="1.4" />
<line x1="374.83" y1="167" x2="374.83" y2="171.6" stroke="#000" stroke-width="1.4" />
<text x="374.83" y="184.4" font-size="13.6" text-anchor="middle" font-weight="normal" font-style="normal" fill="#000" >80</text>
<line x1="387.3" y1="167" x2="387.3" y2="171.6" stroke="#000" stroke-width="1.4" />
<line x1="399.77" y1="167" x2="399.77" y2="171.6" stroke="#000" stroke-width="1.4" />
<text x="399.77" y="184.4" font-size="13.6" text-anchor="middle" font-weight="normal" font-style="normal" fill="#000" >100</text>
<line x1="412.23" y1="167" x2="412.23" y2="171.6" stroke="#000" stroke-width="1.4" />
<line x1="424.7" y1="167" x2="424.7" y2="171.6" stroke="#000" stroke-width="1.4" />
<text x="424.7" y="184.4" font-size="13.6" text-anchor="middle" font-weight="normal" font-style="normal" fill="#000" >120</text>
<text x="272" y="66.5" font-size="14" text-anchor="start" font-weight="normal" font-style="normal" fill="#000" >PMA</text>
<text x="0" y="0" font-size="13.5" text-anchor="middle" transform="translate(233.7,108) rotate(-90)">H<tspan font-size="9" dy="4">2</tspan><tspan dy="-4">O</tspan><tspan font-size="9" dy="4">2</tspan><tspan dy="-4"> (µM)</tspan></text>
<text x="354.5" y="200.6" font-size="13.5" text-anchor="middle" font-weight="normal" font-style="normal" fill="#000" >Time (min)</text>
<path d="M275.1,167 L287.57,166.64 L300.03,165.55 L312.5,164.1 L324.97,163.38 L337.43,163.01 L349.9,162.65 L362.37,162.29 L374.83,161.93 L387.3,161.56 L399.77,161.56 L412.23,161.2 L424.7,161.2" fill="none" stroke="#000" stroke-width="1.0"/>
<path d="M273.1,165L277.1,169M277.1,165L273.1,169" stroke="#111" stroke-width="1.1" fill="none"/>
<path d="M285.57,164.64L289.57,168.64M289.57,164.64L285.57,168.64" stroke="#111" stroke-width="1.1" fill="none"/>
<path d="M298.03,163.55L302.03,167.55M302.03,163.55L298.03,167.55" stroke="#111" stroke-width="1.1" fill="none"/>
<path d="M310.5,162.1L314.5,166.1M314.5,162.1L310.5,166.1" stroke="#111" stroke-width="1.1" fill="none"/>
<path d="M322.97,161.38L326.97,165.38M326.97,161.38L322.97,165.38" stroke="#111" stroke-width="1.1" fill="none"/>
<path d="M335.43,161.01L339.43,165.01M339.43,161.01L335.43,165.01" stroke="#111" stroke-width="1.1" fill="none"/>
<path d="M347.9,160.65L351.9,164.65M351.9,160.65L347.9,164.65" stroke="#111" stroke-width="1.1" fill="none"/>
<path d="M360.37,160.29L364.37,164.29M364.37,160.29L360.37,164.29" stroke="#111" stroke-width="1.1" fill="none"/>
<path d="M372.83,159.93L376.83,163.93M376.83,159.93L372.83,163.93" stroke="#111" stroke-width="1.1" fill="none"/>
<path d="M385.3,159.56L389.3,163.56M389.3,159.56L385.3,163.56" stroke="#111" stroke-width="1.1" fill="none"/>
<path d="M397.77,159.56L401.77,163.56M401.77,159.56L397.77,163.56" stroke="#111" stroke-width="1.1" fill="none"/>
<path d="M410.23,159.2L414.23,163.2M414.23,159.2L410.23,163.2" stroke="#111" stroke-width="1.1" fill="none"/>
<path d="M422.7,159.2L426.7,163.2M426.7,159.2L422.7,163.2" stroke="#111" stroke-width="1.1" fill="none"/>
<path d="M275.1,167 L287.57,164.83 L300.03,162.65 L312.5,161.2 L324.97,160.48 L337.43,159.75 L349.9,159.75 L362.37,159.39 L374.83,159.03 L387.3,159.03 L399.77,158.67 L412.23,158.3 L424.7,158.3" fill="none" stroke="#000" stroke-width="1.0"/>
<polygon points="272.6,169.2 277.6,169.2 275.1,164.8" fill="#ff0000" stroke="#000" stroke-width="1.0" stroke-linejoin="round"/>
<polygon points="285.07,167.03 290.07,167.03 287.57,162.63" fill="#ff0000" stroke="#000" stroke-width="1.0" stroke-linejoin="round"/>
<polygon points="297.53,164.85 302.53,164.85 300.03,160.45" fill="#ff0000" stroke="#000" stroke-width="1.0" stroke-linejoin="round"/>
<polygon points="310,163.4 315,163.4 312.5,159" fill="#ff0000" stroke="#000" stroke-width="1.0" stroke-linejoin="round"/>
<polygon points="322.47,162.68 327.47,162.68 324.97,158.28" fill="#ff0000" stroke="#000" stroke-width="1.0" stroke-linejoin="round"/>
<polygon points="334.93,161.95 339.93,161.95 337.43,157.55" fill="#ff0000" stroke="#000" stroke-width="1.0" stroke-linejoin="round"/>
<polygon points="347.4,161.95 352.4,161.95 349.9,157.55" fill="#ff0000" stroke="#000" stroke-width="1.0" stroke-linejoin="round"/>
<polygon points="359.87,161.59 364.87,161.59 362.37,157.19" fill="#ff0000" stroke="#000" stroke-width="1.0" stroke-linejoin="round"/>
<polygon points="372.33,161.23 377.33,161.23 374.83,156.83" fill="#ff0000" stroke="#000" stroke-width="1.0" stroke-linejoin="round"/>
<polygon points="384.8,161.23 389.8,161.23 387.3,156.83" fill="#ff0000" stroke="#000" stroke-width="1.0" stroke-linejoin="round"/>
<polygon points="397.27,160.87 402.27,160.87 399.77,156.47" fill="#ff0000" stroke="#000" stroke-width="1.0" stroke-linejoin="round"/>
<polygon points="409.73,160.5 414.73,160.5 412.23,156.1" fill="#ff0000" stroke="#000" stroke-width="1.0" stroke-linejoin="round"/>
<polygon points="422.2,160.5 427.2,160.5 424.7,156.1" fill="#ff0000" stroke="#000" stroke-width="1.0" stroke-linejoin="round"/>
<path d="M275.1,167 L287.57,167 L300.03,163.38 L312.5,158.3 L324.97,154.68 L337.43,151.78 L349.9,148.88 L362.37,145.98 L374.83,142.36 L387.3,139.46 L399.77,135.84 L412.23,132.94 L424.7,129.32" fill="none" stroke="#000" stroke-width="1.0"/>
<polygon points="275.1,164.4 277.7,167 275.1,169.6 272.5,167" fill="#d0d0d0" stroke="#000" stroke-width="1.1"/>
<polygon points="287.57,164.4 290.17,167 287.57,169.6 284.97,167" fill="#d0d0d0" stroke="#000" stroke-width="1.1"/>
<polygon points="300.03,160.78 302.63,163.38 300.03,165.98 297.43,163.38" fill="#d0d0d0" stroke="#000" stroke-width="1.1"/>
<polygon points="312.5,155.7 315.1,158.3 312.5,160.9 309.9,158.3" fill="#d0d0d0" stroke="#000" stroke-width="1.1"/>
<polygon points="324.97,152.08 327.57,154.68 324.97,157.28 322.37,154.68" fill="#d0d0d0" stroke="#000" stroke-width="1.1"/>
<polygon points="337.43,149.18 340.03,151.78 337.43,154.38 334.83,151.78" fill="#d0d0d0" stroke="#000" stroke-width="1.1"/>
<polygon points="349.9,146.28 352.5,148.88 349.9,151.48 347.3,148.88" fill="#d0d0d0" stroke="#000" stroke-width="1.1"/>
<polygon points="362.37,143.38 364.97,145.98 362.37,148.58 359.77,145.98" fill="#d0d0d0" stroke="#000" stroke-width="1.1"/>
<polygon points="374.83,139.76 377.43,142.36 374.83,144.96 372.23,142.36" fill="#d0d0d0" stroke="#000" stroke-width="1.1"/>
<polygon points="387.3,136.86 389.9,139.46 387.3,142.06 384.7,139.46" fill="#d0d0d0" stroke="#000" stroke-width="1.1"/>
<polygon points="399.77,133.24 402.37,135.84 399.77,138.44 397.17,135.84" fill="#d0d0d0" stroke="#000" stroke-width="1.1"/>
<polygon points="412.23,130.34 414.83,132.94 412.23,135.54 409.63,132.94" fill="#d0d0d0" stroke="#000" stroke-width="1.1"/>
<polygon points="424.7,126.72 427.3,129.32 424.7,131.92 422.1,129.32" fill="#d0d0d0" stroke="#000" stroke-width="1.1"/>
<path d="M275.1,167 L287.57,161.2 L300.03,159.03 L312.5,156.13 L324.97,153.96 L337.43,152.51 L349.9,151.06 L362.37,150.33 L374.83,148.88 L387.3,148.16 L399.77,147.43 L412.23,146.71 L424.7,146.71" fill="none" stroke="#000" stroke-width="1.0"/>
<polygon points="272.6,164.8 277.6,164.8 275.1,169.2" fill="#ff0000" stroke="#000" stroke-width="1.0" stroke-linejoin="round"/>
<polygon points="285.07,159 290.07,159 287.57,163.4" fill="#ff0000" stroke="#000" stroke-width="1.0" stroke-linejoin="round"/>
<polygon points="297.53,156.83 302.53,156.83 300.03,161.23" fill="#ff0000" stroke="#000" stroke-width="1.0" stroke-linejoin="round"/>
<polygon points="310,153.93 315,153.93 312.5,158.33" fill="#ff0000" stroke="#000" stroke-width="1.0" stroke-linejoin="round"/>
<polygon points="322.47,151.76 327.47,151.76 324.97,156.16" fill="#ff0000" stroke="#000" stroke-width="1.0" stroke-linejoin="round"/>
<polygon points="334.93,150.31 339.93,150.31 337.43,154.71" fill="#ff0000" stroke="#000" stroke-width="1.0" stroke-linejoin="round"/>
<polygon points="347.4,148.86 352.4,148.86 349.9,153.26" fill="#ff0000" stroke="#000" stroke-width="1.0" stroke-linejoin="round"/>
<polygon points="359.87,148.13 364.87,148.13 362.37,152.53" fill="#ff0000" stroke="#000" stroke-width="1.0" stroke-linejoin="round"/>
<polygon points="372.33,146.68 377.33,146.68 374.83,151.08" fill="#ff0000" stroke="#000" stroke-width="1.0" stroke-linejoin="round"/>
<polygon points="384.8,145.96 389.8,145.96 387.3,150.36" fill="#ff0000" stroke="#000" stroke-width="1.0" stroke-linejoin="round"/>
<polygon points="397.27,145.23 402.27,145.23 399.77,149.63" fill="#ff0000" stroke="#000" stroke-width="1.0" stroke-linejoin="round"/>
<polygon points="409.73,144.51 414.73,144.51 412.23,148.91" fill="#ff0000" stroke="#000" stroke-width="1.0" stroke-linejoin="round"/>
<polygon points="422.2,144.51 427.2,144.51 424.7,148.91" fill="#ff0000" stroke="#000" stroke-width="1.0" stroke-linejoin="round"/>
<line x1="287.57" y1="158.3" x2="287.57" y2="161.2" stroke="#222" stroke-width="1.1" />
<line x1="285.27" y1="158.3" x2="289.87" y2="158.3" stroke="#222" stroke-width="1.1" />
<line x1="285.27" y1="161.2" x2="289.87" y2="161.2" stroke="#222" stroke-width="1.1" />
<line x1="300.03" y1="140.91" x2="300.03" y2="149.61" stroke="#222" stroke-width="1.1" />
<line x1="297.73" y1="140.91" x2="302.33" y2="140.91" stroke="#222" stroke-width="1.1" />
<line x1="297.73" y1="149.61" x2="302.33" y2="149.61" stroke="#222" stroke-width="1.1" />
<line x1="312.5" y1="125.69" x2="312.5" y2="138.74" stroke="#222" stroke-width="1.1" />
<line x1="310.2" y1="125.69" x2="314.8" y2="125.69" stroke="#222" stroke-width="1.1" />
<line x1="310.2" y1="138.74" x2="314.8" y2="138.74" stroke="#222" stroke-width="1.1" />
<line x1="324.97" y1="113.37" x2="324.97" y2="130.77" stroke="#222" stroke-width="1.1" />
<line x1="322.67" y1="113.37" x2="327.27" y2="113.37" stroke="#222" stroke-width="1.1" />
<line x1="322.67" y1="130.77" x2="327.27" y2="130.77" stroke="#222" stroke-width="1.1" />
<line x1="337.43" y1="105.4" x2="337.43" y2="127.14" stroke="#222" stroke-width="1.1" />
<line x1="335.13" y1="105.4" x2="339.73" y2="105.4" stroke="#222" stroke-width="1.1" />
<line x1="335.13" y1="127.14" x2="339.73" y2="127.14" stroke="#222" stroke-width="1.1" />
<line x1="349.9" y1="98.16" x2="349.9" y2="122.8" stroke="#222" stroke-width="1.1" />
<line x1="347.6" y1="98.16" x2="352.2" y2="98.16" stroke="#222" stroke-width="1.1" />
<line x1="347.6" y1="122.8" x2="352.2" y2="122.8" stroke="#222" stroke-width="1.1" />
<line x1="362.37" y1="91.63" x2="362.37" y2="119.17" stroke="#222" stroke-width="1.1" />
<line x1="360.07" y1="91.63" x2="364.67" y2="91.63" stroke="#222" stroke-width="1.1" />
<line x1="360.07" y1="119.17" x2="364.67" y2="119.17" stroke="#222" stroke-width="1.1" />
<line x1="374.83" y1="87.29" x2="374.83" y2="116.27" stroke="#222" stroke-width="1.1" />
<line x1="372.53" y1="87.29" x2="377.13" y2="87.29" stroke="#222" stroke-width="1.1" />
<line x1="372.53" y1="116.27" x2="377.13" y2="116.27" stroke="#222" stroke-width="1.1" />
<line x1="387.3" y1="82.21" x2="387.3" y2="112.65" stroke="#222" stroke-width="1.1" />
<line x1="385" y1="82.21" x2="389.6" y2="82.21" stroke="#222" stroke-width="1.1" />
<line x1="385" y1="112.65" x2="389.6" y2="112.65" stroke="#222" stroke-width="1.1" />
<line x1="399.77" y1="77.87" x2="399.77" y2="111.2" stroke="#222" stroke-width="1.1" />
<line x1="397.47" y1="77.87" x2="402.07" y2="77.87" stroke="#222" stroke-width="1.1" />
<line x1="397.47" y1="111.2" x2="402.07" y2="111.2" stroke="#222" stroke-width="1.1" />
<line x1="412.23" y1="73.52" x2="412.23" y2="108.3" stroke="#222" stroke-width="1.1" />
<line x1="409.93" y1="73.52" x2="414.53" y2="73.52" stroke="#222" stroke-width="1.1" />
<line x1="409.93" y1="108.3" x2="414.53" y2="108.3" stroke="#222" stroke-width="1.1" />
<line x1="424.7" y1="69.89" x2="424.7" y2="107.58" stroke="#222" stroke-width="1.1" />
<line x1="422.4" y1="69.89" x2="427" y2="69.89" stroke="#222" stroke-width="1.1" />
<line x1="422.4" y1="107.58" x2="427" y2="107.58" stroke="#222" stroke-width="1.1" />
<path d="M275.1,167 L287.57,159.75 L300.03,145.26 L312.5,132.22 L324.97,122.07 L337.43,116.27 L349.9,110.48 L362.37,105.4 L374.83,101.78 L387.3,97.43 L399.77,94.53 L412.23,90.91 L424.7,88.74" fill="none" stroke="#000" stroke-width="1.0"/>
<circle cx="275.1" cy="167" r="2.75" fill="#000"/>
<circle cx="287.57" cy="159.75" r="2.75" fill="#000"/>
<circle cx="300.03" cy="145.26" r="2.75" fill="#000"/>
<circle cx="312.5" cy="132.22" r="2.75" fill="#000"/>
<circle cx="324.97" cy="122.07" r="2.75" fill="#000"/>
<circle cx="337.43" cy="116.27" r="2.75" fill="#000"/>
<circle cx="349.9" cy="110.48" r="2.75" fill="#000"/>
<circle cx="362.37" cy="105.4" r="2.75" fill="#000"/>
<circle cx="374.83" cy="101.78" r="2.75" fill="#000"/>
<circle cx="387.3" cy="97.43" r="2.75" fill="#000"/>
<circle cx="399.77" cy="94.53" r="2.75" fill="#000"/>
<circle cx="412.23" cy="90.91" r="2.75" fill="#000"/>
<circle cx="424.7" cy="88.74" r="2.75" fill="#000"/>
<line x1="268.2" y1="218.8" x2="268.2" y2="328.15" stroke="#000" stroke-width="1.4" />
<line x1="263.8" y1="327.5" x2="268.2" y2="327.5" stroke="#000" stroke-width="1.4" />
<text x="260.9" y="332.9" font-size="14" text-anchor="end" font-weight="normal" font-style="normal" fill="#000" >0</text>
<line x1="263.8" y1="291.27" x2="268.2" y2="291.27" stroke="#000" stroke-width="1.4" />
<text x="260.9" y="296.67" font-size="14" text-anchor="end" font-weight="normal" font-style="normal" fill="#000" >1</text>
<line x1="263.8" y1="255.03" x2="268.2" y2="255.03" stroke="#000" stroke-width="1.4" />
<text x="260.9" y="260.43" font-size="14" text-anchor="end" font-weight="normal" font-style="normal" fill="#000" >2</text>
<line x1="263.8" y1="218.8" x2="268.2" y2="218.8" stroke="#000" stroke-width="1.4" />
<text x="260.9" y="224.2" font-size="14" text-anchor="end" font-weight="normal" font-style="normal" fill="#000" >3</text>
<line x1="267.55" y1="327.5" x2="431" y2="327.5" stroke="#000" stroke-width="1.4" />
<line x1="275.1" y1="327.5" x2="275.1" y2="332.1" stroke="#000" stroke-width="1.4" />
<text x="275.1" y="344.9" font-size="13.6" text-anchor="middle" font-weight="normal" font-style="normal" fill="#000" >0</text>
<line x1="287.57" y1="327.5" x2="287.57" y2="332.1" stroke="#000" stroke-width="1.4" />
<line x1="300.03" y1="327.5" x2="300.03" y2="332.1" stroke="#000" stroke-width="1.4" />
<text x="300.03" y="344.9" font-size="13.6" text-anchor="middle" font-weight="normal" font-style="normal" fill="#000" >20</text>
<line x1="312.5" y1="327.5" x2="312.5" y2="332.1" stroke="#000" stroke-width="1.4" />
<line x1="324.97" y1="327.5" x2="324.97" y2="332.1" stroke="#000" stroke-width="1.4" />
<text x="324.97" y="344.9" font-size="13.6" text-anchor="middle" font-weight="normal" font-style="normal" fill="#000" >40</text>
<line x1="337.43" y1="327.5" x2="337.43" y2="332.1" stroke="#000" stroke-width="1.4" />
<line x1="349.9" y1="327.5" x2="349.9" y2="332.1" stroke="#000" stroke-width="1.4" />
<text x="349.9" y="344.9" font-size="13.6" text-anchor="middle" font-weight="normal" font-style="normal" fill="#000" >60</text>
<line x1="362.37" y1="327.5" x2="362.37" y2="332.1" stroke="#000" stroke-width="1.4" />
<line x1="374.83" y1="327.5" x2="374.83" y2="332.1" stroke="#000" stroke-width="1.4" />
<text x="374.83" y="344.9" font-size="13.6" text-anchor="middle" font-weight="normal" font-style="normal" fill="#000" >80</text>
<line x1="387.3" y1="327.5" x2="387.3" y2="332.1" stroke="#000" stroke-width="1.4" />
<line x1="399.77" y1="327.5" x2="399.77" y2="332.1" stroke="#000" stroke-width="1.4" />
<text x="399.77" y="344.9" font-size="13.6" text-anchor="middle" font-weight="normal" font-style="normal" fill="#000" >100</text>
<line x1="412.23" y1="327.5" x2="412.23" y2="332.1" stroke="#000" stroke-width="1.4" />
<line x1="424.7" y1="327.5" x2="424.7" y2="332.1" stroke="#000" stroke-width="1.4" />
<text x="424.7" y="344.9" font-size="13.6" text-anchor="middle" font-weight="normal" font-style="normal" fill="#000" >120</text>
<text x="272" y="226.5" font-size="14" text-anchor="start" font-weight="normal" font-style="normal" fill="#000" >PMA + IFNγ</text>
<text x="0" y="0" font-size="13.5" text-anchor="middle" transform="translate(233.7,271.7) rotate(-90)">H<tspan font-size="9" dy="4">2</tspan><tspan dy="-4">O</tspan><tspan font-size="9" dy="4">2</tspan><tspan dy="-4"> (µM)</tspan></text>
<text x="354.5" y="358.5" font-size="13.5" text-anchor="middle" font-weight="normal" font-style="normal" fill="#000" >Time (min)</text>
<path d="M275.1,327.5 L287.57,327.14 L300.03,326.78 L312.5,326.05 L324.97,325.69 L337.43,325.33 L349.9,324.96 L362.37,324.6 L374.83,323.88 L387.3,323.51 L399.77,323.15 L412.23,322.43 L424.7,322.06" fill="none" stroke="#000" stroke-width="1.0"/>
<path d="M273.1,325.5L277.1,329.5M277.1,325.5L273.1,329.5" stroke="#111" stroke-width="1.1" fill="none"/>
<path d="M285.57,325.14L289.57,329.14M289.57,325.14L285.57,329.14" stroke="#111" stroke-width="1.1" fill="none"/>
<path d="M298.03,324.78L302.03,328.78M302.03,324.78L298.03,328.78" stroke="#111" stroke-width="1.1" fill="none"/>
<path d="M310.5,324.05L314.5,328.05M314.5,324.05L310.5,328.05" stroke="#111" stroke-width="1.1" fill="none"/>
<path d="M322.97,323.69L326.97,327.69M326.97,323.69L322.97,327.69" stroke="#111" stroke-width="1.1" fill="none"/>
<path d="M335.43,323.33L339.43,327.33M339.43,323.33L335.43,327.33" stroke="#111" stroke-width="1.1" fill="none"/>
<path d="M347.9,322.96L351.9,326.96M351.9,322.96L347.9,326.96" stroke="#111" stroke-width="1.1" fill="none"/>
<path d="M360.37,322.6L364.37,326.6M364.37,322.6L360.37,326.6" stroke="#111" stroke-width="1.1" fill="none"/>
<path d="M372.83,321.88L376.83,325.88M376.83,321.88L372.83,325.88" stroke="#111" stroke-width="1.1" fill="none"/>
<path d="M385.3,321.51L389.3,325.51M389.3,321.51L385.3,325.51" stroke="#111" stroke-width="1.1" fill="none"/>
<path d="M397.77,321.15L401.77,325.15M401.77,321.15L397.77,325.15" stroke="#111" stroke-width="1.1" fill="none"/>
<path d="M410.23,320.43L414.23,324.43M414.23,320.43L410.23,324.43" stroke="#111" stroke-width="1.1" fill="none"/>
<path d="M422.7,320.06L426.7,324.06M426.7,320.06L422.7,324.06" stroke="#111" stroke-width="1.1" fill="none"/>
<path d="M275.1,327.5 L287.57,327.5 L300.03,325.69 L312.5,323.88 L324.97,322.06 L337.43,320.25 L349.9,318.8 L362.37,317.35 L374.83,315.91 L387.3,314.46 L399.77,313.01 L412.23,311.92 L424.7,310.83" fill="none" stroke="#000" stroke-width="1.0"/>
<polygon points="275.1,324.9 277.7,327.5 275.1,330.1 272.5,327.5" fill="#d0d0d0" stroke="#000" stroke-width="1.1"/>
<polygon points="287.57,324.9 290.17,327.5 287.57,330.1 284.97,327.5" fill="#d0d0d0" stroke="#000" stroke-width="1.1"/>
<polygon points="300.03,323.09 302.63,325.69 300.03,328.29 297.43,325.69" fill="#d0d0d0" stroke="#000" stroke-width="1.1"/>
<polygon points="312.5,321.28 315.1,323.88 312.5,326.48 309.9,323.88" fill="#d0d0d0" stroke="#000" stroke-width="1.1"/>
<polygon points="324.97,319.46 327.57,322.06 324.97,324.67 322.37,322.06" fill="#d0d0d0" stroke="#000" stroke-width="1.1"/>
<polygon points="337.43,317.65 340.03,320.25 337.43,322.85 334.83,320.25" fill="#d0d0d0" stroke="#000" stroke-width="1.1"/>
<polygon points="349.9,316.2 352.5,318.8 349.9,321.4 347.3,318.8" fill="#d0d0d0" stroke="#000" stroke-width="1.1"/>
<polygon points="362.37,314.75 364.97,317.35 362.37,319.95 359.77,317.35" fill="#d0d0d0" stroke="#000" stroke-width="1.1"/>
<polygon points="374.83,313.31 377.43,315.91 374.83,318.51 372.23,315.91" fill="#d0d0d0" stroke="#000" stroke-width="1.1"/>
<polygon points="387.3,311.86 389.9,314.46 387.3,317.06 384.7,314.46" fill="#d0d0d0" stroke="#000" stroke-width="1.1"/>
<polygon points="399.77,310.41 402.37,313.01 399.77,315.61 397.17,313.01" fill="#d0d0d0" stroke="#000" stroke-width="1.1"/>
<polygon points="412.23,309.32 414.83,311.92 412.23,314.52 409.63,311.92" fill="#d0d0d0" stroke="#000" stroke-width="1.1"/>
<polygon points="424.7,308.23 427.3,310.83 424.7,313.43 422.1,310.83" fill="#d0d0d0" stroke="#000" stroke-width="1.1"/>
<path d="M275.1,327.5 L287.57,327.5 L300.03,325.69 L312.5,323.15 L324.97,321.34 L337.43,319.89 L349.9,318.44 L362.37,317.35 L374.83,316.63 L387.3,315.54 L399.77,314.82 L412.23,314.09 L424.7,313.73" fill="none" stroke="#000" stroke-width="1.0"/>
<polygon points="272.6,329.7 277.6,329.7 275.1,325.3" fill="#ff0000" stroke="#000" stroke-width="1.0" stroke-linejoin="round"/>
<polygon points="285.07,329.7 290.07,329.7 287.57,325.3" fill="#ff0000" stroke="#000" stroke-width="1.0" stroke-linejoin="round"/>
<polygon points="297.53,327.89 302.53,327.89 300.03,323.49" fill="#ff0000" stroke="#000" stroke-width="1.0" stroke-linejoin="round"/>
<polygon points="310,325.35 315,325.35 312.5,320.95" fill="#ff0000" stroke="#000" stroke-width="1.0" stroke-linejoin="round"/>
<polygon points="322.47,323.54 327.47,323.54 324.97,319.14" fill="#ff0000" stroke="#000" stroke-width="1.0" stroke-linejoin="round"/>
<polygon points="334.93,322.09 339.93,322.09 337.43,317.69" fill="#ff0000" stroke="#000" stroke-width="1.0" stroke-linejoin="round"/>
<polygon points="347.4,320.64 352.4,320.64 349.9,316.24" fill="#ff0000" stroke="#000" stroke-width="1.0" stroke-linejoin="round"/>
<polygon points="359.87,319.55 364.87,319.55 362.37,315.15" fill="#ff0000" stroke="#000" stroke-width="1.0" stroke-linejoin="round"/>
<polygon points="372.33,318.83 377.33,318.83 374.83,314.43" fill="#ff0000" stroke="#000" stroke-width="1.0" stroke-linejoin="round"/>
<polygon points="384.8,317.74 389.8,317.74 387.3,313.34" fill="#ff0000" stroke="#000" stroke-width="1.0" stroke-linejoin="round"/>
<polygon points="397.27,317.02 402.27,317.02 399.77,312.62" fill="#ff0000" stroke="#000" stroke-width="1.0" stroke-linejoin="round"/>
<polygon points="409.73,316.29 414.73,316.29 412.23,311.89" fill="#ff0000" stroke="#000" stroke-width="1.0" stroke-linejoin="round"/>
<polygon points="422.2,315.93 427.2,315.93 424.7,311.53" fill="#ff0000" stroke="#000" stroke-width="1.0" stroke-linejoin="round"/>
<path d="M275.1,327.5 L287.57,325.69 L300.03,323.15 L312.5,320.25 L324.97,317.72 L337.43,315.91 L349.9,314.09 L362.37,312.64 L374.83,311.56 L387.3,310.47 L399.77,309.38 L412.23,309.02 L424.7,308.66" fill="none" stroke="#000" stroke-width="1.0"/>
<polygon points="272.6,325.3 277.6,325.3 275.1,329.7" fill="#ff0000" stroke="#000" stroke-width="1.0" stroke-linejoin="round"/>
<polygon points="285.07,323.49 290.07,323.49 287.57,327.89" fill="#ff0000" stroke="#000" stroke-width="1.0" stroke-linejoin="round"/>
<polygon points="297.53,320.95 302.53,320.95 300.03,325.35" fill="#ff0000" stroke="#000" stroke-width="1.0" stroke-linejoin="round"/>
<polygon points="310,318.05 315,318.05 312.5,322.45" fill="#ff0000" stroke="#000" stroke-width="1.0" stroke-linejoin="round"/>
<polygon points="322.47,315.52 327.47,315.52 324.97,319.92" fill="#ff0000" stroke="#000" stroke-width="1.0" stroke-linejoin="round"/>
<polygon points="334.93,313.71 339.93,313.71 337.43,318.11" fill="#ff0000" stroke="#000" stroke-width="1.0" stroke-linejoin="round"/>
<polygon points="347.4,311.89 352.4,311.89 349.9,316.29" fill="#ff0000" stroke="#000" stroke-width="1.0" stroke-linejoin="round"/>
<polygon points="359.87,310.44 364.87,310.44 362.37,314.84" fill="#ff0000" stroke="#000" stroke-width="1.0" stroke-linejoin="round"/>
<polygon points="372.33,309.36 377.33,309.36 374.83,313.76" fill="#ff0000" stroke="#000" stroke-width="1.0" stroke-linejoin="round"/>
<polygon points="384.8,308.27 389.8,308.27 387.3,312.67" fill="#ff0000" stroke="#000" stroke-width="1.0" stroke-linejoin="round"/>
<polygon points="397.27,307.18 402.27,307.18 399.77,311.58" fill="#ff0000" stroke="#000" stroke-width="1.0" stroke-linejoin="round"/>
<polygon points="409.73,306.82 414.73,306.82 412.23,311.22" fill="#ff0000" stroke="#000" stroke-width="1.0" stroke-linejoin="round"/>
<polygon points="422.2,306.46 427.2,306.46 424.7,310.86" fill="#ff0000" stroke="#000" stroke-width="1.0" stroke-linejoin="round"/>
<line x1="287.57" y1="322.06" x2="287.57" y2="324.24" stroke="#222" stroke-width="1.1" />
<line x1="285.27" y1="322.06" x2="289.87" y2="322.06" stroke="#222" stroke-width="1.1" />
<line x1="285.27" y1="324.24" x2="289.87" y2="324.24" stroke="#222" stroke-width="1.1" />
<line x1="300.03" y1="308.3" x2="300.03" y2="311.92" stroke="#222" stroke-width="1.1" />
<line x1="297.73" y1="308.3" x2="302.33" y2="308.3" stroke="#222" stroke-width="1.1" />
<line x1="297.73" y1="311.92" x2="302.33" y2="311.92" stroke="#222" stroke-width="1.1" />
<line x1="312.5" y1="294.89" x2="312.5" y2="303.59" stroke="#222" stroke-width="1.1" />
<line x1="310.2" y1="294.89" x2="314.8" y2="294.89" stroke="#222" stroke-width="1.1" />
<line x1="310.2" y1="303.59" x2="314.8" y2="303.59" stroke="#222" stroke-width="1.1" />
<line x1="324.97" y1="284.38" x2="324.97" y2="295.98" stroke="#222" stroke-width="1.1" />
<line x1="322.67" y1="284.38" x2="327.27" y2="284.38" stroke="#222" stroke-width="1.1" />
<line x1="322.67" y1="295.98" x2="327.27" y2="295.98" stroke="#222" stroke-width="1.1" />
<line x1="337.43" y1="275.69" x2="337.43" y2="290.18" stroke="#222" stroke-width="1.1" />
<line x1="335.13" y1="275.69" x2="339.73" y2="275.69" stroke="#222" stroke-width="1.1" />
<line x1="335.13" y1="290.18" x2="339.73" y2="290.18" stroke="#222" stroke-width="1.1" />
<line x1="349.9" y1="268.44" x2="349.9" y2="284.38" stroke="#222" stroke-width="1.1" />
<line x1="347.6" y1="268.44" x2="352.2" y2="268.44" stroke="#222" stroke-width="1.1" />
<line x1="347.6" y1="284.38" x2="352.2" y2="284.38" stroke="#222" stroke-width="1.1" />
<line x1="362.37" y1="262.28" x2="362.37" y2="279.67" stroke="#222" stroke-width="1.1" />
<line x1="360.07" y1="262.28" x2="364.67" y2="262.28" stroke="#222" stroke-width="1.1" />
<line x1="360.07" y1="279.67" x2="364.67" y2="279.67" stroke="#222" stroke-width="1.1" />
<line x1="374.83" y1="257.21" x2="374.83" y2="276.05" stroke="#222" stroke-width="1.1" />
<line x1="372.53" y1="257.21" x2="377.13" y2="257.21" stroke="#222" stroke-width="1.1" />
<line x1="372.53" y1="276.05" x2="377.13" y2="276.05" stroke="#222" stroke-width="1.1" />
<line x1="387.3" y1="252.13" x2="387.3" y2="272.43" stroke="#222" stroke-width="1.1" />
<line x1="385" y1="252.13" x2="389.6" y2="252.13" stroke="#222" stroke-width="1.1" />
<line x1="385" y1="272.43" x2="389.6" y2="272.43" stroke="#222" stroke-width="1.1" />
<line x1="399.77" y1="247.79" x2="399.77" y2="269.53" stroke="#222" stroke-width="1.1" />
<line x1="397.47" y1="247.79" x2="402.07" y2="247.79" stroke="#222" stroke-width="1.1" />
<line x1="397.47" y1="269.53" x2="402.07" y2="269.53" stroke="#222" stroke-width="1.1" />
<line x1="412.23" y1="244.16" x2="412.23" y2="266.63" stroke="#222" stroke-width="1.1" />
<line x1="409.93" y1="244.16" x2="414.53" y2="244.16" stroke="#222" stroke-width="1.1" />
<line x1="409.93" y1="266.63" x2="414.53" y2="266.63" stroke="#222" stroke-width="1.1" />
<line x1="424.7" y1="240.9" x2="424.7" y2="264.82" stroke="#222" stroke-width="1.1" />
<line x1="422.4" y1="240.9" x2="427" y2="240.9" stroke="#222" stroke-width="1.1" />
<line x1="422.4" y1="264.82" x2="427" y2="264.82" stroke="#222" stroke-width="1.1" />
<path d="M275.1,327.5 L287.57,323.15 L300.03,310.11 L312.5,299.24 L324.97,290.18 L337.43,282.93 L349.9,276.41 L362.37,270.98 L374.83,266.63 L387.3,262.28 L399.77,258.66 L412.23,255.4 L424.7,252.86" fill="none" stroke="#000" stroke-width="1.0"/>
<circle cx="275.1" cy="327.5" r="2.75" fill="#000"/>
<circle cx="287.57" cy="323.15" r="2.75" fill="#000"/>
<circle cx="300.03" cy="310.11" r="2.75" fill="#000"/>
<circle cx="312.5" cy="299.24" r="2.75" fill="#000"/>
<circle cx="324.97" cy="290.18" r="2.75" fill="#000"/>
<circle cx="337.43" cy="282.93" r="2.75" fill="#000"/>
<circle cx="349.9" cy="276.41" r="2.75" fill="#000"/>
<circle cx="362.37" cy="270.98" r="2.75" fill="#000"/>
<circle cx="374.83" cy="266.63" r="2.75" fill="#000"/>
<circle cx="387.3" cy="262.28" r="2.75" fill="#000"/>
<circle cx="399.77" cy="258.66" r="2.75" fill="#000"/>
<circle cx="412.23" cy="255.4" r="2.75" fill="#000"/>
<circle cx="424.7" cy="252.86" r="2.75" fill="#000"/>
<text x="450.2" y="15.6" font-size="21" text-anchor="start" font-weight="bold" font-style="normal" fill="#000" stroke="#000" stroke-width="0.75">c</text>
<circle cx="484.5" cy="20.5" r="3.3" fill="#000"/>
<text x="492.7" y="25.1" font-size="14" text-anchor="start" font-weight="normal" font-style="normal" fill="#000" >Controls</text>
<polygon points="552.23,23.33 557.98,23.33 555.1,18.27" fill="#ff0000" stroke="#000" stroke-width="1.0" stroke-linejoin="round"/>
<text x="563.5" y="25.1" font-size="14" text-anchor="start" font-weight="normal" font-style="normal" fill="#000" >P1</text>
<polygon points="588.42,17.67 594.17,17.67 591.3,22.73" fill="#ff0000" stroke="#000" stroke-width="1.0" stroke-linejoin="round"/>
<text x="599" y="25.1" font-size="14" text-anchor="start" font-weight="normal" font-style="normal" fill="#000" >P2</text>
<polygon points="484.8,31.98 487.92,35.1 484.8,38.22 481.68,35.1" fill="#a0a0a0" stroke="#111" stroke-width="1.0"/>
<text x="492.7" y="39.4" font-size="14" text-anchor="start" font-weight="normal" font-style="normal" fill="#000"  textLength="175.5" lengthAdjust="spacingAndGlyphs">CYBB-MSMD × CYBB-CGD</text>
<line x1="493.8" y1="58.1" x2="493.8" y2="167.55" stroke="#000" stroke-width="1.4" />
<line x1="489.4" y1="166.9" x2="493.8" y2="166.9" stroke="#000" stroke-width="1.4" />
<text x="487.2" y="172.3" font-size="14" text-anchor="end" font-weight="normal" font-style="normal" fill="#000" >0</text>
<line x1="489.4" y1="139.7" x2="493.8" y2="139.7" stroke="#000" stroke-width="1.4" />
<text x="487.2" y="145.1" font-size="14" text-anchor="end" font-weight="normal" font-style="normal" fill="#000" >0.2</text>
<line x1="489.4" y1="112.5" x2="493.8" y2="112.5" stroke="#000" stroke-width="1.4" />
<text x="487.2" y="117.9" font-size="14" text-anchor="end" font-weight="normal" font-style="normal" fill="#000" >0.4</text>
<line x1="489.4" y1="85.3" x2="493.8" y2="85.3" stroke="#000" stroke-width="1.4" />
<text x="487.2" y="90.7" font-size="14" text-anchor="end" font-weight="normal" font-style="normal" fill="#000" >0.6</text>
<line x1="489.4" y1="58.1" x2="493.8" y2="58.1" stroke="#000" stroke-width="1.4" />
<text x="487.2" y="63.5" font-size="14" text-anchor="end" font-weight="normal" font-style="normal" fill="#000" >0.8</text>
<line x1="493.15" y1="166.9" x2="656" y2="166.9" stroke="#000" stroke-width="1.4" />
<line x1="501" y1="166.9" x2="501" y2="171.5" stroke="#000" stroke-width="1.4" />
<text x="501" y="184.3" font-size="13.6" text-anchor="middle" font-weight="normal" font-style="normal" fill="#000" >0</text>
<line x1="513.45" y1="166.9" x2="513.45" y2="171.5" stroke="#000" stroke-width="1.4" />
<line x1="525.9" y1="166.9" x2="525.9" y2="171.5" stroke="#000" stroke-width="1.4" />
<text x="525.9" y="184.3" font-size="13.6" text-anchor="middle" font-weight="normal" font-style="normal" fill="#000" >20</text>
<line x1="538.35" y1="166.9" x2="538.35" y2="171.5" stroke="#000" stroke-width="1.4" />
<line x1="550.8" y1="166.9" x2="550.8" y2="171.5" stroke="#000" stroke-width="1.4" />
<text x="550.8" y="184.3" font-size="13.6" text-anchor="middle" font-weight="normal" font-style="normal" fill="#000" >40</text>
<line x1="563.25" y1="166.9" x2="563.25" y2="171.5" stroke="#000" stroke-width="1.4" />
<line x1="575.7" y1="166.9" x2="575.7" y2="171.5" stroke="#000" stroke-width="1.4" />
<text x="575.7" y="184.3" font-size="13.6" text-anchor="middle" font-weight="normal" font-style="normal" fill="#000" >60</text>
<line x1="588.15" y1="166.9" x2="588.15" y2="171.5" stroke="#000" stroke-width="1.4" />
<line x1="600.6" y1="166.9" x2="600.6" y2="171.5" stroke="#000" stroke-width="1.4" />
<text x="600.6" y="184.3" font-size="13.6" text-anchor="middle" font-weight="normal" font-style="normal" fill="#000" >80</text>
<line x1="613.05" y1="166.9" x2="613.05" y2="171.5" stroke="#000" stroke-width="1.4" />
<line x1="625.5" y1="166.9" x2="625.5" y2="171.5" stroke="#000" stroke-width="1.4" />
<text x="625.5" y="184.3" font-size="13.6" text-anchor="middle" font-weight="normal" font-style="normal" fill="#000" >100</text>
<line x1="637.95" y1="166.9" x2="637.95" y2="171.5" stroke="#000" stroke-width="1.4" />
<line x1="650.4" y1="166.9" x2="650.4" y2="171.5" stroke="#000" stroke-width="1.4" />
<text x="650.4" y="184.3" font-size="13.6" text-anchor="middle" font-weight="normal" font-style="normal" fill="#000" >120</text>
<text x="497.5" y="66.5" font-size="14" text-anchor="start" font-weight="normal" font-style="normal" fill="#000" >Hk<tspan font-style="italic">Mt</tspan></text>
<text x="0" y="0" font-size="13.5" text-anchor="middle" transform="translate(457.6,108) rotate(-90)">H<tspan font-size="9" dy="4">2</tspan><tspan dy="-4">O</tspan><tspan font-size="9" dy="4">2</tspan><tspan dy="-4"> (µM)</tspan></text>
<text x="587.8" y="200.6" font-size="13.5" text-anchor="middle" font-weight="normal" font-style="normal" fill="#000" >Time (min)</text>
<path d="M501,166.9 L513.45,166.9 L525.9,165.54 L538.35,162.82 L550.8,159.42 L563.25,158.74 L575.7,157.38 L588.15,156.7 L600.6,155.34 L613.05,153.98 L625.5,152.62 L637.95,151.26 L650.4,149.9" fill="none" stroke="#000" stroke-width="1.0"/>
<path d="M499,164.9L503,168.9M503,164.9L499,168.9" stroke="#111" stroke-width="1.1" fill="none"/>
<path d="M511.45,164.9L515.45,168.9M515.45,164.9L511.45,168.9" stroke="#111" stroke-width="1.1" fill="none"/>
<path d="M523.9,163.54L527.9,167.54M527.9,163.54L523.9,167.54" stroke="#111" stroke-width="1.1" fill="none"/>
<path d="M536.35,160.82L540.35,164.82M540.35,160.82L536.35,164.82" stroke="#111" stroke-width="1.1" fill="none"/>
<path d="M548.8,157.42L552.8,161.42M552.8,157.42L548.8,161.42" stroke="#111" stroke-width="1.1" fill="none"/>
<path d="M561.25,156.74L565.25,160.74M565.25,156.74L561.25,160.74" stroke="#111" stroke-width="1.1" fill="none"/>
<path d="M573.7,155.38L577.7,159.38M577.7,155.38L573.7,159.38" stroke="#111" stroke-width="1.1" fill="none"/>
<path d="M586.15,154.7L590.15,158.7M590.15,154.7L586.15,158.7" stroke="#111" stroke-width="1.1" fill="none"/>
<path d="M598.6,153.34L602.6,157.34M602.6,153.34L598.6,157.34" stroke="#111" stroke-width="1.1" fill="none"/>
<path d="M611.05,151.98L615.05,155.98M615.05,151.98L611.05,155.98" stroke="#111" stroke-width="1.1" fill="none"/>
<path d="M623.5,150.62L627.5,154.62M627.5,150.62L623.5,154.62" stroke="#111" stroke-width="1.1" fill="none"/>
<path d="M635.95,149.26L639.95,153.26M639.95,149.26L635.95,153.26" stroke="#111" stroke-width="1.1" fill="none"/>
<path d="M648.4,147.9L652.4,151.9M652.4,147.9L648.4,151.9" stroke="#111" stroke-width="1.1" fill="none"/>
<path d="M501,166.9 L513.45,165.54 L525.9,161.46 L538.35,157.38 L550.8,154.66 L563.25,152.62 L575.7,151.26 L588.15,149.22 L600.6,149.22 L613.05,148.54 L625.5,147.86 L637.95,147.18 L650.4,146.5" fill="none" stroke="#000" stroke-width="1.0"/>
<polygon points="498.5,169.1 503.5,169.1 501,164.7" fill="#ff0000" stroke="#000" stroke-width="1.0" stroke-linejoin="round"/>
<polygon points="510.95,167.74 515.95,167.74 513.45,163.34" fill="#ff0000" stroke="#000" stroke-width="1.0" stroke-linejoin="round"/>
<polygon points="523.4,163.66 528.4,163.66 525.9,159.26" fill="#ff0000" stroke="#000" stroke-width="1.0" stroke-linejoin="round"/>
<polygon points="535.85,159.58 540.85,159.58 538.35,155.18" fill="#ff0000" stroke="#000" stroke-width="1.0" stroke-linejoin="round"/>
<polygon points="548.3,156.86 553.3,156.86 550.8,152.46" fill="#ff0000" stroke="#000" stroke-width="1.0" stroke-linejoin="round"/>
<polygon points="560.75,154.82 565.75,154.82 563.25,150.42" fill="#ff0000" stroke="#000" stroke-width="1.0" stroke-linejoin="round"/>
<polygon points="573.2,153.46 578.2,153.46 575.7,149.06" fill="#ff0000" stroke="#000" stroke-width="1.0" stroke-linejoin="round"/>
<polygon points="585.65,151.42 590.65,151.42 588.15,147.02" fill="#ff0000" stroke="#000" stroke-width="1.0" stroke-linejoin="round"/>
<polygon points="598.1,151.42 603.1,151.42 600.6,147.02" fill="#ff0000" stroke="#000" stroke-width="1.0" stroke-linejoin="round"/>
<polygon points="610.55,150.74 615.55,150.74 613.05,146.34" fill="#ff0000" stroke="#000" stroke-width="1.0" stroke-linejoin="round"/>
<polygon points="623,150.06 628,150.06 625.5,145.66" fill="#ff0000" stroke="#000" stroke-width="1.0" stroke-linejoin="round"/>
<polygon points="635.45,149.38 640.45,149.38 637.95,144.98" fill="#ff0000" stroke="#000" stroke-width="1.0" stroke-linejoin="round"/>
<polygon points="647.9,148.7 652.9,148.7 650.4,144.3" fill="#ff0000" stroke="#000" stroke-width="1.0" stroke-linejoin="round"/>
<path d="M501,166.9 L513.45,165.54 L525.9,157.38 L538.35,151.94 L550.8,147.86 L563.25,143.78 L575.7,139.7 L588.15,136.98 L600.6,132.9 L613.05,129.5 L625.5,125.42 L637.95,122.02 L650.4,117.94" fill="none" stroke="#000" stroke-width="1.0"/>
<polygon points="501,164.3 503.6,166.9 501,169.5 498.4,166.9" fill="#d0d0d0" stroke="#000" stroke-width="1.1"/>
<polygon points="513.45,162.94 516.05,165.54 513.45,168.14 510.85,165.54" fill="#d0d0d0" stroke="#000" stroke-width="1.1"/>
<polygon points="525.9,154.78 528.5,157.38 525.9,159.98 523.3,157.38" fill="#d0d0d0" stroke="#000" stroke-width="1.1"/>
<polygon points="538.35,149.34 540.95,151.94 538.35,154.54 535.75,151.94" fill="#d0d0d0" stroke="#000" stroke-width="1.1"/>
<polygon points="550.8,145.26 553.4,147.86 550.8,150.46 548.2,147.86" fill="#d0d0d0" stroke="#000" stroke-width="1.1"/>
<polygon points="563.25,141.18 565.85,143.78 563.25,146.38 560.65,143.78" fill="#d0d0d0" stroke="#000" stroke-width="1.1"/>
<polygon points="575.7,137.1 578.3,139.7 575.7,142.3 573.1,139.7" fill="#d0d0d0" stroke="#000" stroke-width="1.1"/>
<polygon points="588.15,134.38 590.75,136.98 588.15,139.58 585.55,136.98" fill="#d0d0d0" stroke="#000" stroke-width="1.1"/>
<polygon points="600.6,130.3 603.2,132.9 600.6,135.5 598,132.9" fill="#d0d0d0" stroke="#000" stroke-width="1.1"/>
<polygon points="613.05,126.9 615.65,129.5 613.05,132.1 610.45,129.5" fill="#d0d0d0" stroke="#000" stroke-width="1.1"/>
<polygon points="625.5,122.82 628.1,125.42 625.5,128.02 622.9,125.42" fill="#d0d0d0" stroke="#000" stroke-width="1.1"/>
<polygon points="637.95,119.42 640.55,122.02 637.95,124.62 635.35,122.02" fill="#d0d0d0" stroke="#000" stroke-width="1.1"/>
<polygon points="650.4,115.34 653,117.94 650.4,120.54 647.8,117.94" fill="#d0d0d0" stroke="#000" stroke-width="1.1"/>
<path d="M501,166.9 L513.45,165.54 L525.9,157.38 L538.35,151.94 L550.8,147.18 L563.25,144.46 L575.7,141.74 L588.15,139.7 L600.6,138.34 L613.05,136.98 L625.5,136.3 L637.95,134.94 L650.4,134.94" fill="none" stroke="#000" stroke-width="1.0"/>
<polygon points="498.5,164.7 503.5,164.7 501,169.1" fill="#ff0000" stroke="#000" stroke-width="1.0" stroke-linejoin="round"/>
<polygon points="510.95,163.34 515.95,163.34 513.45,167.74" fill="#ff0000" stroke="#000" stroke-width="1.0" stroke-linejoin="round"/>
<polygon points="523.4,155.18 528.4,155.18 525.9,159.58" fill="#ff0000" stroke="#000" stroke-width="1.0" stroke-linejoin="round"/>
<polygon points="535.85,149.74 540.85,149.74 538.35,154.14" fill="#ff0000" stroke="#000" stroke-width="1.0" stroke-linejoin="round"/>
<polygon points="548.3,144.98 553.3,144.98 550.8,149.38" fill="#ff0000" stroke="#000" stroke-width="1.0" stroke-linejoin="round"/>
<polygon points="560.75,142.26 565.75,142.26 563.25,146.66" fill="#ff0000" stroke="#000" stroke-width="1.0" stroke-linejoin="round"/>
<polygon points="573.2,139.54 578.2,139.54 575.7,143.94" fill="#ff0000" stroke="#000" stroke-width="1.0" stroke-linejoin="round"/>
<polygon points="585.65,137.5 590.65,137.5 588.15,141.9" fill="#ff0000" stroke="#000" stroke-width="1.0" stroke-linejoin="round"/>
<polygon points="598.1,136.14 603.1,136.14 600.6,140.54" fill="#ff0000" stroke="#000" stroke-width="1.0" stroke-linejoin="round"/>
<polygon points="610.55,134.78 615.55,134.78 613.05,139.18" fill="#ff0000" stroke="#000" stroke-width="1.0" stroke-linejoin="round"/>
<polygon points="623,134.1 628,134.1 625.5,138.5" fill="#ff0000" stroke="#000" stroke-width="1.0" stroke-linejoin="round"/>
<polygon points="635.45,132.74 640.45,132.74 637.95,137.14" fill="#ff0000" stroke="#000" stroke-width="1.0" stroke-linejoin="round"/>
<polygon points="647.9,132.74 652.9,132.74 650.4,137.14" fill="#ff0000" stroke="#000" stroke-width="1.0" stroke-linejoin="round"/>
<line x1="513.45" y1="162.82" x2="513.45" y2="165.54" stroke="#222" stroke-width="1.1" />
<line x1="511.15" y1="162.82" x2="515.75" y2="162.82" stroke="#222" stroke-width="1.1" />
<line x1="511.15" y1="165.54" x2="515.75" y2="165.54" stroke="#222" stroke-width="1.1" />
<line x1="525.9" y1="143.78" x2="525.9" y2="153.3" stroke="#222" stroke-width="1.1" />
<line x1="523.6" y1="143.78" x2="528.2" y2="143.78" stroke="#222" stroke-width="1.1" />
<line x1="523.6" y1="153.3" x2="528.2" y2="153.3" stroke="#222" stroke-width="1.1" />
<line x1="538.35" y1="130.18" x2="538.35" y2="143.78" stroke="#222" stroke-width="1.1" />
<line x1="536.05" y1="130.18" x2="540.65" y2="130.18" stroke="#222" stroke-width="1.1" />
<line x1="536.05" y1="143.78" x2="540.65" y2="143.78" stroke="#222" stroke-width="1.1" />
<line x1="550.8" y1="118.62" x2="550.8" y2="136.3" stroke="#222" stroke-width="1.1" />
<line x1="548.5" y1="118.62" x2="553.1" y2="118.62" stroke="#222" stroke-width="1.1" />
<line x1="548.5" y1="136.3" x2="553.1" y2="136.3" stroke="#222" stroke-width="1.1" />
<line x1="563.25" y1="111.14" x2="563.25" y2="132.9" stroke="#222" stroke-width="1.1" />
<line x1="560.95" y1="111.14" x2="565.55" y2="111.14" stroke="#222" stroke-width="1.1" />
<line x1="560.95" y1="132.9" x2="565.55" y2="132.9" stroke="#222" stroke-width="1.1" />
<line x1="575.7" y1="105.02" x2="575.7" y2="128.14" stroke="#222" stroke-width="1.1" />
<line x1="573.4" y1="105.02" x2="578" y2="105.02" stroke="#222" stroke-width="1.1" />
<line x1="573.4" y1="128.14" x2="578" y2="128.14" stroke="#222" stroke-width="1.1" />
<line x1="588.15" y1="99.58" x2="588.15" y2="124.06" stroke="#222" stroke-width="1.1" />
<line x1="585.85" y1="99.58" x2="590.45" y2="99.58" stroke="#222" stroke-width="1.1" />
<line x1="585.85" y1="124.06" x2="590.45" y2="124.06" stroke="#222" stroke-width="1.1" />
<line x1="600.6" y1="94.82" x2="600.6" y2="122.02" stroke="#222" stroke-width="1.1" />
<line x1="598.3" y1="94.82" x2="602.9" y2="94.82" stroke="#222" stroke-width="1.1" />
<line x1="598.3" y1="122.02" x2="602.9" y2="122.02" stroke="#222" stroke-width="1.1" />
<line x1="613.05" y1="90.74" x2="613.05" y2="119.3" stroke="#222" stroke-width="1.1" />
<line x1="610.75" y1="90.74" x2="615.35" y2="90.74" stroke="#222" stroke-width="1.1" />
<line x1="610.75" y1="119.3" x2="615.35" y2="119.3" stroke="#222" stroke-width="1.1" />
<line x1="625.5" y1="87.34" x2="625.5" y2="117.26" stroke="#222" stroke-width="1.1" />
<line x1="623.2" y1="87.34" x2="627.8" y2="87.34" stroke="#222" stroke-width="1.1" />
<line x1="623.2" y1="117.26" x2="627.8" y2="117.26" stroke="#222" stroke-width="1.1" />
<line x1="637.95" y1="83.26" x2="637.95" y2="114.54" stroke="#222" stroke-width="1.1" />
<line x1="635.65" y1="83.26" x2="640.25" y2="83.26" stroke="#222" stroke-width="1.1" />
<line x1="635.65" y1="114.54" x2="640.25" y2="114.54" stroke="#222" stroke-width="1.1" />
<line x1="650.4" y1="81.22" x2="650.4" y2="113.86" stroke="#222" stroke-width="1.1" />
<line x1="648.1" y1="81.22" x2="652.7" y2="81.22" stroke="#222" stroke-width="1.1" />
<line x1="648.1" y1="113.86" x2="652.7" y2="113.86" stroke="#222" stroke-width="1.1" />
<path d="M501,166.9 L513.45,164.18 L525.9,148.54 L538.35,136.98 L550.8,127.46 L563.25,122.02 L575.7,116.58 L588.15,111.82 L600.6,108.42 L613.05,105.02 L625.5,102.3 L637.95,98.9 L650.4,97.54" fill="none" stroke="#000" stroke-width="1.0"/>
<circle cx="501" cy="166.9" r="2.75" fill="#000"/>
<circle cx="513.45" cy="164.18" r="2.75" fill="#000"/>
<circle cx="525.9" cy="148.54" r="2.75" fill="#000"/>
<circle cx="538.35" cy="136.98" r="2.75" fill="#000"/>
<circle cx="550.8" cy="127.46" r="2.75" fill="#000"/>
<circle cx="563.25" cy="122.02" r="2.75" fill="#000"/>
<circle cx="575.7" cy="116.58" r="2.75" fill="#000"/>
<circle cx="588.15" cy="111.82" r="2.75" fill="#000"/>
<circle cx="600.6" cy="108.42" r="2.75" fill="#000"/>
<circle cx="613.05" cy="105.02" r="2.75" fill="#000"/>
<circle cx="625.5" cy="102.3" r="2.75" fill="#000"/>
<circle cx="637.95" cy="98.9" r="2.75" fill="#000"/>
<circle cx="650.4" cy="97.54" r="2.75" fill="#000"/>
<line x1="493.8" y1="219.3" x2="493.8" y2="327.75" stroke="#000" stroke-width="1.4" />
<line x1="489.4" y1="327.1" x2="493.8" y2="327.1" stroke="#000" stroke-width="1.4" />
<text x="487.2" y="332.5" font-size="14" text-anchor="end" font-weight="normal" font-style="normal" fill="#000" >0</text>
<line x1="489.4" y1="305.54" x2="493.8" y2="305.54" stroke="#000" stroke-width="1.4" />
<text x="487.2" y="310.94" font-size="14" text-anchor="end" font-weight="normal" font-style="normal" fill="#000" >0.2</text>
<line x1="489.4" y1="283.98" x2="493.8" y2="283.98" stroke="#000" stroke-width="1.4" />
<text x="487.2" y="289.38" font-size="14" text-anchor="end" font-weight="normal" font-style="normal" fill="#000" >0.4</text>
<line x1="489.4" y1="262.42" x2="493.8" y2="262.42" stroke="#000" stroke-width="1.4" />
<text x="487.2" y="267.82" font-size="14" text-anchor="end" font-weight="normal" font-style="normal" fill="#000" >0.6</text>
<line x1="489.4" y1="240.86" x2="493.8" y2="240.86" stroke="#000" stroke-width="1.4" />
<text x="487.2" y="246.26" font-size="14" text-anchor="end" font-weight="normal" font-style="normal" fill="#000" >0.8</text>
<line x1="489.4" y1="219.3" x2="493.8" y2="219.3" stroke="#000" stroke-width="1.4" />
<text x="487.2" y="224.7" font-size="14" text-anchor="end" font-weight="normal" font-style="normal" fill="#000" >1.0</text>
<line x1="493.15" y1="327.1" x2="656" y2="327.1" stroke="#000" stroke-width="1.4" />
<line x1="501" y1="327.1" x2="501" y2="331.7" stroke="#000" stroke-width="1.4" />
<text x="501" y="344.5" font-size="13.6" text-anchor="middle" font-weight="normal" font-style="normal" fill="#000" >0</text>
<line x1="513.45" y1="327.1" x2="513.45" y2="331.7" stroke="#000" stroke-width="1.4" />
<line x1="525.9" y1="327.1" x2="525.9" y2="331.7" stroke="#000" stroke-width="1.4" />
<text x="525.9" y="344.5" font-size="13.6" text-anchor="middle" font-weight="normal" font-style="normal" fill="#000" >20</text>
<line x1="538.35" y1="327.1" x2="538.35" y2="331.7" stroke="#000" stroke-width="1.4" />
<line x1="550.8" y1="327.1" x2="550.8" y2="331.7" stroke="#000" stroke-width="1.4" />
<text x="550.8" y="344.5" font-size="13.6" text-anchor="middle" font-weight="normal" font-style="normal" fill="#000" >40</text>
<line x1="563.25" y1="327.1" x2="563.25" y2="331.7" stroke="#000" stroke-width="1.4" />
<line x1="575.7" y1="327.1" x2="575.7" y2="331.7" stroke="#000" stroke-width="1.4" />
<text x="575.7" y="344.5" font-size="13.6" text-anchor="middle" font-weight="normal" font-style="normal" fill="#000" >60</text>
<line x1="588.15" y1="327.1" x2="588.15" y2="331.7" stroke="#000" stroke-width="1.4" />
<line x1="600.6" y1="327.1" x2="600.6" y2="331.7" stroke="#000" stroke-width="1.4" />
<text x="600.6" y="344.5" font-size="13.6" text-anchor="middle" font-weight="normal" font-style="normal" fill="#000" >80</text>
<line x1="613.05" y1="327.1" x2="613.05" y2="331.7" stroke="#000" stroke-width="1.4" />
<line x1="625.5" y1="327.1" x2="625.5" y2="331.7" stroke="#000" stroke-width="1.4" />
<text x="625.5" y="344.5" font-size="13.6" text-anchor="middle" font-weight="normal" font-style="normal" fill="#000" >100</text>
<line x1="637.95" y1="327.1" x2="637.95" y2="331.7" stroke="#000" stroke-width="1.4" />
<line x1="650.4" y1="327.1" x2="650.4" y2="331.7" stroke="#000" stroke-width="1.4" />
<text x="650.4" y="344.5" font-size="13.6" text-anchor="middle" font-weight="normal" font-style="normal" fill="#000" >120</text>
<text x="497.5" y="226.5" font-size="14" text-anchor="start" font-weight="normal" font-style="normal" fill="#000" >Hk<tspan font-style="italic">Mt</tspan> + IFNγ</text>
<text x="0" y="0" font-size="13.5" text-anchor="middle" transform="translate(457.6,271.7) rotate(-90)">H<tspan font-size="9" dy="4">2</tspan><tspan dy="-4">O</tspan><tspan font-size="9" dy="4">2</tspan><tspan dy="-4"> (µM)</tspan></text>
<text x="587.8" y="358.5" font-size="13.5" text-anchor="middle" font-weight="normal" font-style="normal" fill="#000" >Time (min)</text>
<path d="M501,327.1 L513.45,327.1 L525.9,327.1 L538.35,327.1 L550.8,327.1 L563.25,324.94 L575.7,322.79 L588.15,320.63 L600.6,320.09 L613.05,319.02 L625.5,317.94 L637.95,316.32 L650.4,315.24" fill="none" stroke="#000" stroke-width="1.0"/>
<path d="M499,325.1L503,329.1M503,325.1L499,329.1" stroke="#111" stroke-width="1.1" fill="none"/>
<path d="M511.45,325.1L515.45,329.1M515.45,325.1L511.45,329.1" stroke="#111" stroke-width="1.1" fill="none"/>
<path d="M523.9,325.1L527.9,329.1M527.9,325.1L523.9,329.1" stroke="#111" stroke-width="1.1" fill="none"/>
<path d="M536.35,325.1L540.35,329.1M540.35,325.1L536.35,329.1" stroke="#111" stroke-width="1.1" fill="none"/>
<path d="M548.8,325.1L552.8,329.1M552.8,325.1L548.8,329.1" stroke="#111" stroke-width="1.1" fill="none"/>
<path d="M561.25,322.94L565.25,326.94M565.25,322.94L561.25,326.94" stroke="#111" stroke-width="1.1" fill="none"/>
<path d="M573.7,320.79L577.7,324.79M577.7,320.79L573.7,324.79" stroke="#111" stroke-width="1.1" fill="none"/>
<path d="M586.15,318.63L590.15,322.63M590.15,318.63L586.15,322.63" stroke="#111" stroke-width="1.1" fill="none"/>
<path d="M598.6,318.09L602.6,322.09M602.6,318.09L598.6,322.09" stroke="#111" stroke-width="1.1" fill="none"/>
<path d="M611.05,317.02L615.05,321.02M615.05,317.02L611.05,321.02" stroke="#111" stroke-width="1.1" fill="none"/>
<path d="M623.5,315.94L627.5,319.94M627.5,315.94L623.5,319.94" stroke="#111" stroke-width="1.1" fill="none"/>
<path d="M635.95,314.32L639.95,318.32M639.95,314.32L635.95,318.32" stroke="#111" stroke-width="1.1" fill="none"/>
<path d="M648.4,313.24L652.4,317.24M652.4,313.24L648.4,317.24" stroke="#111" stroke-width="1.1" fill="none"/>
<path d="M501,327.1 L513.45,327.1 L525.9,326.02 L538.35,322.79 L550.8,319.02 L563.25,316.32 L575.7,315.24 L588.15,314.16 L600.6,313.62 L613.05,313.09 L625.5,312.01 L637.95,310.93 L650.4,308.77" fill="none" stroke="#000" stroke-width="1.0"/>
<polygon points="498.5,329.3 503.5,329.3 501,324.9" fill="#ff0000" stroke="#000" stroke-width="1.0" stroke-linejoin="round"/>
<polygon points="510.95,329.3 515.95,329.3 513.45,324.9" fill="#ff0000" stroke="#000" stroke-width="1.0" stroke-linejoin="round"/>
<polygon points="523.4,328.22 528.4,328.22 525.9,323.82" fill="#ff0000" stroke="#000" stroke-width="1.0" stroke-linejoin="round"/>
<polygon points="535.85,324.99 540.85,324.99 538.35,320.59" fill="#ff0000" stroke="#000" stroke-width="1.0" stroke-linejoin="round"/>
<polygon points="548.3,321.22 553.3,321.22 550.8,316.82" fill="#ff0000" stroke="#000" stroke-width="1.0" stroke-linejoin="round"/>
<polygon points="560.75,318.52 565.75,318.52 563.25,314.12" fill="#ff0000" stroke="#000" stroke-width="1.0" stroke-linejoin="round"/>
<polygon points="573.2,317.44 578.2,317.44 575.7,313.04" fill="#ff0000" stroke="#000" stroke-width="1.0" stroke-linejoin="round"/>
<polygon points="585.65,316.36 590.65,316.36 588.15,311.96" fill="#ff0000" stroke="#000" stroke-width="1.0" stroke-linejoin="round"/>
<polygon points="598.1,315.82 603.1,315.82 600.6,311.43" fill="#ff0000" stroke="#000" stroke-width="1.0" stroke-linejoin="round"/>
<polygon points="610.55,315.29 615.55,315.29 613.05,310.89" fill="#ff0000" stroke="#000" stroke-width="1.0" stroke-linejoin="round"/>
<polygon points="623,314.21 628,314.21 625.5,309.81" fill="#ff0000" stroke="#000" stroke-width="1.0" stroke-linejoin="round"/>
<polygon points="635.45,313.13 640.45,313.13 637.95,308.73" fill="#ff0000" stroke="#000" stroke-width="1.0" stroke-linejoin="round"/>
<polygon points="647.9,310.97 652.9,310.97 650.4,306.57" fill="#ff0000" stroke="#000" stroke-width="1.0" stroke-linejoin="round"/>
<path d="M501,327.1 L513.45,327.1 L525.9,324.94 L538.35,320.63 L550.8,317.4 L563.25,315.24 L575.7,313.09 L588.15,310.93 L600.6,309.31 L613.05,307.7 L625.5,306.62 L637.95,304.46 L650.4,302.31" fill="none" stroke="#000" stroke-width="1.0"/>
<polygon points="501,324.5 503.6,327.1 501,329.7 498.4,327.1" fill="#d0d0d0" stroke="#000" stroke-width="1.1"/>
<polygon points="513.45,324.5 516.05,327.1 513.45,329.7 510.85,327.1" fill="#d0d0d0" stroke="#000" stroke-width="1.1"/>
<polygon points="525.9,322.34 528.5,324.94 525.9,327.54 523.3,324.94" fill="#d0d0d0" stroke="#000" stroke-width="1.1"/>
<polygon points="538.35,318.03 540.95,320.63 538.35,323.23 535.75,320.63" fill="#d0d0d0" stroke="#000" stroke-width="1.1"/>
<polygon points="550.8,314.8 553.4,317.4 550.8,320 548.2,317.4" fill="#d0d0d0" stroke="#000" stroke-width="1.1"/>
<polygon points="563.25,312.64 565.85,315.24 563.25,317.84 560.65,315.24" fill="#d0d0d0" stroke="#000" stroke-width="1.1"/>
<polygon points="575.7,310.49 578.3,313.09 575.7,315.69 573.1,313.09" fill="#d0d0d0" stroke="#000" stroke-width="1.1"/>
<polygon points="588.15,308.33 590.75,310.93 588.15,313.53 585.55,310.93" fill="#d0d0d0" stroke="#000" stroke-width="1.1"/>
<polygon points="600.6,306.71 603.2,309.31 600.6,311.91 598,309.31" fill="#d0d0d0" stroke="#000" stroke-width="1.1"/>
<polygon points="613.05,305.1 615.65,307.7 613.05,310.3 610.45,307.7" fill="#d0d0d0" stroke="#000" stroke-width="1.1"/>
<polygon points="625.5,304.02 628.1,306.62 625.5,309.22 622.9,306.62" fill="#d0d0d0" stroke="#000" stroke-width="1.1"/>
<polygon points="637.95,301.86 640.55,304.46 637.95,307.06 635.35,304.46" fill="#d0d0d0" stroke="#000" stroke-width="1.1"/>
<polygon points="650.4,299.71 653,302.31 650.4,304.91 647.8,302.31" fill="#d0d0d0" stroke="#000" stroke-width="1.1"/>
<path d="M501,327.1 L513.45,327.1 L525.9,323.87 L538.35,318.48 L550.8,314.16 L563.25,309.85 L575.7,307.7 L588.15,304.46 L600.6,303.38 L613.05,301.23 L625.5,300.15 L637.95,299.07 L650.4,296.92" fill="none" stroke="#000" stroke-width="1.0"/>
<polygon points="498.5,324.9 503.5,324.9 501,329.3" fill="#ff0000" stroke="#000" stroke-width="1.0" stroke-linejoin="round"/>
<polygon points="510.95,324.9 515.95,324.9 513.45,329.3" fill="#ff0000" stroke="#000" stroke-width="1.0" stroke-linejoin="round"/>
<polygon points="523.4,321.67 528.4,321.67 525.9,326.07" fill="#ff0000" stroke="#000" stroke-width="1.0" stroke-linejoin="round"/>
<polygon points="535.85,316.28 540.85,316.28 538.35,320.68" fill="#ff0000" stroke="#000" stroke-width="1.0" stroke-linejoin="round"/>
<polygon points="548.3,311.96 553.3,311.96 550.8,316.36" fill="#ff0000" stroke="#000" stroke-width="1.0" stroke-linejoin="round"/>
<polygon points="560.75,307.65 565.75,307.65 563.25,312.05" fill="#ff0000" stroke="#000" stroke-width="1.0" stroke-linejoin="round"/>
<polygon points="573.2,305.5 578.2,305.5 575.7,309.9" fill="#ff0000" stroke="#000" stroke-width="1.0" stroke-linejoin="round"/>
<polygon points="585.65,302.26 590.65,302.26 588.15,306.66" fill="#ff0000" stroke="#000" stroke-width="1.0" stroke-linejoin="round"/>
<polygon points="598.1,301.18 603.1,301.18 600.6,305.58" fill="#ff0000" stroke="#000" stroke-width="1.0" stroke-linejoin="round"/>
<polygon points="610.55,299.03 615.55,299.03 613.05,303.43" fill="#ff0000" stroke="#000" stroke-width="1.0" stroke-linejoin="round"/>
<polygon points="623,297.95 628,297.95 625.5,302.35" fill="#ff0000" stroke="#000" stroke-width="1.0" stroke-linejoin="round"/>
<polygon points="635.45,296.87 640.45,296.87 637.95,301.27" fill="#ff0000" stroke="#000" stroke-width="1.0" stroke-linejoin="round"/>
<polygon points="647.9,294.72 652.9,294.72 650.4,299.12" fill="#ff0000" stroke="#000" stroke-width="1.0" stroke-linejoin="round"/>
<line x1="513.45" y1="323.87" x2="513.45" y2="326.02" stroke="#222" stroke-width="1.1" />
<line x1="511.15" y1="323.87" x2="515.75" y2="323.87" stroke="#222" stroke-width="1.1" />
<line x1="511.15" y1="326.02" x2="515.75" y2="326.02" stroke="#222" stroke-width="1.1" />
<line x1="525.9" y1="302.31" x2="525.9" y2="326.02" stroke="#222" stroke-width="1.1" />
<line x1="523.6" y1="302.31" x2="528.2" y2="302.31" stroke="#222" stroke-width="1.1" />
<line x1="523.6" y1="326.02" x2="528.2" y2="326.02" stroke="#222" stroke-width="1.1" />
<line x1="538.35" y1="289.37" x2="538.35" y2="317.4" stroke="#222" stroke-width="1.1" />
<line x1="536.05" y1="289.37" x2="540.65" y2="289.37" stroke="#222" stroke-width="1.1" />
<line x1="536.05" y1="317.4" x2="540.65" y2="317.4" stroke="#222" stroke-width="1.1" />
<line x1="550.8" y1="278.59" x2="550.8" y2="310.93" stroke="#222" stroke-width="1.1" />
<line x1="548.5" y1="278.59" x2="553.1" y2="278.59" stroke="#222" stroke-width="1.1" />
<line x1="548.5" y1="310.93" x2="553.1" y2="310.93" stroke="#222" stroke-width="1.1" />
<line x1="563.25" y1="268.89" x2="563.25" y2="305.54" stroke="#222" stroke-width="1.1" />
<line x1="560.95" y1="268.89" x2="565.55" y2="268.89" stroke="#222" stroke-width="1.1" />
<line x1="560.95" y1="305.54" x2="565.55" y2="305.54" stroke="#222" stroke-width="1.1" />
<line x1="575.7" y1="261.34" x2="575.7" y2="302.31" stroke="#222" stroke-width="1.1" />
<line x1="573.4" y1="261.34" x2="578" y2="261.34" stroke="#222" stroke-width="1.1" />
<line x1="573.4" y1="302.31" x2="578" y2="302.31" stroke="#222" stroke-width="1.1" />
<line x1="588.15" y1="255.95" x2="588.15" y2="299.07" stroke="#222" stroke-width="1.1" />
<line x1="585.85" y1="255.95" x2="590.45" y2="255.95" stroke="#222" stroke-width="1.1" />
<line x1="585.85" y1="299.07" x2="590.45" y2="299.07" stroke="#222" stroke-width="1.1" />
<line x1="600.6" y1="251.64" x2="600.6" y2="296.92" stroke="#222" stroke-width="1.1" />
<line x1="598.3" y1="251.64" x2="602.9" y2="251.64" stroke="#222" stroke-width="1.1" />
<line x1="598.3" y1="296.92" x2="602.9" y2="296.92" stroke="#222" stroke-width="1.1" />
<line x1="613.05" y1="248.41" x2="613.05" y2="295.84" stroke="#222" stroke-width="1.1" />
<line x1="610.75" y1="248.41" x2="615.35" y2="248.41" stroke="#222" stroke-width="1.1" />
<line x1="610.75" y1="295.84" x2="615.35" y2="295.84" stroke="#222" stroke-width="1.1" />
<line x1="625.5" y1="244.09" x2="625.5" y2="291.53" stroke="#222" stroke-width="1.1" />
<line x1="623.2" y1="244.09" x2="627.8" y2="244.09" stroke="#222" stroke-width="1.1" />
<line x1="623.2" y1="291.53" x2="627.8" y2="291.53" stroke="#222" stroke-width="1.1" />
<line x1="637.95" y1="241.4" x2="637.95" y2="290.99" stroke="#222" stroke-width="1.1" />
<line x1="635.65" y1="241.4" x2="640.25" y2="241.4" stroke="#222" stroke-width="1.1" />
<line x1="635.65" y1="290.99" x2="640.25" y2="290.99" stroke="#222" stroke-width="1.1" />
<line x1="650.4" y1="238.7" x2="650.4" y2="288.29" stroke="#222" stroke-width="1.1" />
<line x1="648.1" y1="238.7" x2="652.7" y2="238.7" stroke="#222" stroke-width="1.1" />
<line x1="648.1" y1="288.29" x2="652.7" y2="288.29" stroke="#222" stroke-width="1.1" />
<path d="M501,327.1 L513.45,324.94 L525.9,314.16 L538.35,303.38 L550.8,294.76 L563.25,287.21 L575.7,281.82 L588.15,277.51 L600.6,274.28 L613.05,272.12 L625.5,267.81 L637.95,266.19 L650.4,263.5" fill="none" stroke="#000" stroke-width="1.0"/>
<circle cx="501" cy="327.1" r="2.75" fill="#000"/>
<circle cx="513.45" cy="324.94" r="2.75" fill="#000"/>
<circle cx="525.9" cy="314.16" r="2.75" fill="#000"/>
<circle cx="538.35" cy="303.38" r="2.75" fill="#000"/>
<circle cx="550.8" cy="294.76" r="2.75" fill="#000"/>
<circle cx="563.25" cy="287.21" r="2.75" fill="#000"/>
<circle cx="575.7" cy="281.82" r="2.75" fill="#000"/>
<circle cx="588.15" cy="277.51" r="2.75" fill="#000"/>
<circle cx="600.6" cy="274.28" r="2.75" fill="#000"/>
<circle cx="613.05" cy="272.12" r="2.75" fill="#000"/>
<circle cx="625.5" cy="267.81" r="2.75" fill="#000"/>
<circle cx="637.95" cy="266.19" r="2.75" fill="#000"/>
<circle cx="650.4" cy="263.5" r="2.75" fill="#000"/>
<text x="2.8" y="404.2" font-size="21" text-anchor="start" font-weight="bold" font-style="normal" fill="#000" stroke="#000" stroke-width="0.75">d</text>
<circle cx="68.8" cy="413.3" r="2.89" fill="#000"/>
<text x="74.5" y="417.7" font-size="14" text-anchor="start" font-weight="normal" font-style="normal" fill="#000" >Controls</text>
<circle cx="135.7" cy="413.3" r="2.75" fill="#ddd" stroke="#000" stroke-width="0.9"/>
<text x="141.7" y="417.7" font-size="14" text-anchor="start" font-weight="normal" font-style="normal" fill="#000" >Isotype</text>
<circle cx="68.8" cy="430.3" r="2.76" fill="#ff0000" stroke="#000" stroke-width="0.8"/>
<text x="74.5" y="434.3" font-size="14" text-anchor="start" font-weight="normal" font-style="normal" fill="#000" >Infliximab</text>
<line x1="47.4" y1="456.3" x2="47.4" y2="566.05" stroke="#000" stroke-width="1.4" />
<line x1="43" y1="565.4" x2="47.4" y2="565.4" stroke="#000" stroke-width="1.4" />
<text x="41.9" y="570.8" font-size="14" text-anchor="end" font-weight="normal" font-style="normal" fill="#000" >0</text>
<line x1="43" y1="529.03" x2="47.4" y2="529.03" stroke="#000" stroke-width="1.4" />
<text x="41.9" y="534.43" font-size="14" text-anchor="end" font-weight="normal" font-style="normal" fill="#000" >1</text>
<line x1="43" y1="492.67" x2="47.4" y2="492.67" stroke="#000" stroke-width="1.4" />
<text x="41.9" y="498.07" font-size="14" text-anchor="end" font-weight="normal" font-style="normal" fill="#000" >2</text>
<line x1="43" y1="456.3" x2="47.4" y2="456.3" stroke="#000" stroke-width="1.4" />
<text x="41.9" y="461.7" font-size="14" text-anchor="end" font-weight="normal" font-style="normal" fill="#000" >3</text>
<line x1="46.75" y1="565.4" x2="211.2" y2="565.4" stroke="#000" stroke-width="1.4" />
<line x1="51.2" y1="565.4" x2="51.2" y2="570" stroke="#000" stroke-width="1.4" />
<text x="51.2" y="582.3" font-size="13.5" text-anchor="middle" font-weight="normal" font-style="normal" fill="#000" >0</text>
<line x1="77.27" y1="565.4" x2="77.27" y2="570" stroke="#000" stroke-width="1.4" />
<text x="77.27" y="582.3" font-size="13.5" text-anchor="middle" font-weight="normal" font-style="normal" fill="#000" >20</text>
<line x1="103.33" y1="565.4" x2="103.33" y2="570" stroke="#000" stroke-width="1.4" />
<text x="103.33" y="582.3" font-size="13.5" text-anchor="middle" font-weight="normal" font-style="normal" fill="#000" >40</text>
<line x1="129.4" y1="565.4" x2="129.4" y2="570" stroke="#000" stroke-width="1.4" />
<text x="129.4" y="582.3" font-size="13.5" text-anchor="middle" font-weight="normal" font-style="normal" fill="#000" >60</text>
<line x1="155.47" y1="565.4" x2="155.47" y2="570" stroke="#000" stroke-width="1.4" />
<text x="155.47" y="582.3" font-size="13.5" text-anchor="middle" font-weight="normal" font-style="normal" fill="#000" >80</text>
<line x1="181.53" y1="565.4" x2="181.53" y2="570" stroke="#000" stroke-width="1.4" />
<text x="181.53" y="582.3" font-size="13.5" text-anchor="middle" font-weight="normal" font-style="normal" fill="#000" >100</text>
<line x1="207.6" y1="565.4" x2="207.6" y2="570" stroke="#000" stroke-width="1.4" />
<text x="207.6" y="582.3" font-size="13.5" text-anchor="middle" font-weight="normal" font-style="normal" fill="#000" >120</text>
<text x="51.7" y="465.3" font-size="14" text-anchor="start" font-weight="normal" font-style="normal" fill="#000" >PMA</text>
<text x="0" y="0" font-size="13.5" text-anchor="middle" transform="translate(10.6,509.5) rotate(-90)">H<tspan font-size="9" dy="4">2</tspan><tspan dy="-4">O</tspan><tspan font-size="9" dy="4">2</tspan><tspan dy="-4"> (µM)</tspan></text>
<text x="133.8" y="597" font-size="13.5" text-anchor="middle" font-weight="normal" font-style="normal" fill="#000" >Time (min)</text>
<line x1="64.23" y1="547.94" x2="64.23" y2="550.13" stroke="#555" stroke-width="1.1" />
<line x1="61.93" y1="547.94" x2="66.53" y2="547.94" stroke="#555" stroke-width="1.1" />
<line x1="61.93" y1="550.13" x2="66.53" y2="550.13" stroke="#555" stroke-width="1.1" />
<line x1="77.27" y1="530.12" x2="77.27" y2="533.03" stroke="#555" stroke-width="1.1" />
<line x1="74.97" y1="530.12" x2="79.57" y2="530.12" stroke="#555" stroke-width="1.1" />
<line x1="74.97" y1="533.03" x2="79.57" y2="533.03" stroke="#555" stroke-width="1.1" />
<line x1="90.3" y1="514.85" x2="90.3" y2="519.94" stroke="#555" stroke-width="1.1" />
<line x1="88" y1="514.85" x2="92.6" y2="514.85" stroke="#555" stroke-width="1.1" />
<line x1="88" y1="519.94" x2="92.6" y2="519.94" stroke="#555" stroke-width="1.1" />
<line x1="103.33" y1="505.39" x2="103.33" y2="511.94" stroke="#555" stroke-width="1.1" />
<line x1="101.03" y1="505.39" x2="105.63" y2="505.39" stroke="#555" stroke-width="1.1" />
<line x1="101.03" y1="511.94" x2="105.63" y2="511.94" stroke="#555" stroke-width="1.1" />
<line x1="116.37" y1="498.85" x2="116.37" y2="506.12" stroke="#555" stroke-width="1.1" />
<line x1="114.07" y1="498.85" x2="118.67" y2="498.85" stroke="#555" stroke-width="1.1" />
<line x1="114.07" y1="506.12" x2="118.67" y2="506.12" stroke="#555" stroke-width="1.1" />
<line x1="129.4" y1="494.49" x2="129.4" y2="502.49" stroke="#555" stroke-width="1.1" />
<line x1="127.1" y1="494.49" x2="131.7" y2="494.49" stroke="#555" stroke-width="1.1" />
<line x1="127.1" y1="502.49" x2="131.7" y2="502.49" stroke="#555" stroke-width="1.1" />
<line x1="142.43" y1="490.12" x2="142.43" y2="498.85" stroke="#555" stroke-width="1.1" />
<line x1="140.13" y1="490.12" x2="144.73" y2="490.12" stroke="#555" stroke-width="1.1" />
<line x1="140.13" y1="498.85" x2="144.73" y2="498.85" stroke="#555" stroke-width="1.1" />
<line x1="155.47" y1="487.94" x2="155.47" y2="497.39" stroke="#555" stroke-width="1.1" />
<line x1="153.17" y1="487.94" x2="157.77" y2="487.94" stroke="#555" stroke-width="1.1" />
<line x1="153.17" y1="497.39" x2="157.77" y2="497.39" stroke="#555" stroke-width="1.1" />
<line x1="168.5" y1="486.12" x2="168.5" y2="496.3" stroke="#555" stroke-width="1.1" />
<line x1="166.2" y1="486.12" x2="170.8" y2="486.12" stroke="#555" stroke-width="1.1" />
<line x1="166.2" y1="496.3" x2="170.8" y2="496.3" stroke="#555" stroke-width="1.1" />
<line x1="181.53" y1="485.39" x2="181.53" y2="495.58" stroke="#555" stroke-width="1.1" />
<line x1="179.23" y1="485.39" x2="183.83" y2="485.39" stroke="#555" stroke-width="1.1" />
<line x1="179.23" y1="495.58" x2="183.83" y2="495.58" stroke="#555" stroke-width="1.1" />
<line x1="194.57" y1="483.94" x2="194.57" y2="494.85" stroke="#555" stroke-width="1.1" />
<line x1="192.27" y1="483.94" x2="196.87" y2="483.94" stroke="#555" stroke-width="1.1" />
<line x1="192.27" y1="494.85" x2="196.87" y2="494.85" stroke="#555" stroke-width="1.1" />
<line x1="207.6" y1="484.3" x2="207.6" y2="495.21" stroke="#555" stroke-width="1.1" />
<line x1="205.3" y1="484.3" x2="209.9" y2="484.3" stroke="#555" stroke-width="1.1" />
<line x1="205.3" y1="495.21" x2="209.9" y2="495.21" stroke="#555" stroke-width="1.1" />
<path d="M51.2,565.4 L64.23,549.03 L77.27,531.58 L90.3,517.4 L103.33,508.67 L116.37,502.49 L129.4,498.49 L142.43,494.49 L155.47,492.67 L168.5,491.21 L181.53,490.48 L194.57,489.39 L207.6,489.76" fill="none" stroke="#555" stroke-width="1.0"/>
<circle cx="64.23" cy="549.03" r="2.5" fill="#ddd" stroke="#000" stroke-width="0.9"/>
<circle cx="77.27" cy="531.58" r="2.5" fill="#ddd" stroke="#000" stroke-width="0.9"/>
<circle cx="90.3" cy="517.4" r="2.5" fill="#ddd" stroke="#000" stroke-width="0.9"/>
<circle cx="103.33" cy="508.67" r="2.5" fill="#ddd" stroke="#000" stroke-width="0.9"/>
<circle cx="116.37" cy="502.49" r="2.5" fill="#ddd" stroke="#000" stroke-width="0.9"/>
<circle cx="129.4" cy="498.49" r="2.5" fill="#ddd" stroke="#000" stroke-width="0.9"/>
<circle cx="142.43" cy="494.49" r="2.5" fill="#ddd" stroke="#000" stroke-width="0.9"/>
<circle cx="155.47" cy="492.67" r="2.5" fill="#ddd" stroke="#000" stroke-width="0.9"/>
<circle cx="168.5" cy="491.21" r="2.5" fill="#ddd" stroke="#000" stroke-width="0.9"/>
<circle cx="181.53" cy="490.48" r="2.5" fill="#ddd" stroke="#000" stroke-width="0.9"/>
<circle cx="194.57" cy="489.39" r="2.5" fill="#ddd" stroke="#000" stroke-width="0.9"/>
<circle cx="207.6" cy="489.76" r="2.5" fill="#ddd" stroke="#000" stroke-width="0.9"/>
<line x1="64.23" y1="550.49" x2="64.23" y2="551.94" stroke="#222" stroke-width="1.1" />
<line x1="61.93" y1="550.49" x2="66.53" y2="550.49" stroke="#222" stroke-width="1.1" />
<line x1="61.93" y1="551.94" x2="66.53" y2="551.94" stroke="#222" stroke-width="1.1" />
<line x1="77.27" y1="535.94" x2="77.27" y2="538.12" stroke="#222" stroke-width="1.1" />
<line x1="74.97" y1="535.94" x2="79.57" y2="535.94" stroke="#222" stroke-width="1.1" />
<line x1="74.97" y1="538.12" x2="79.57" y2="538.12" stroke="#222" stroke-width="1.1" />
<line x1="90.3" y1="526.12" x2="90.3" y2="529.76" stroke="#222" stroke-width="1.1" />
<line x1="88" y1="526.12" x2="92.6" y2="526.12" stroke="#222" stroke-width="1.1" />
<line x1="88" y1="529.76" x2="92.6" y2="529.76" stroke="#222" stroke-width="1.1" />
<line x1="103.33" y1="520.31" x2="103.33" y2="524.67" stroke="#222" stroke-width="1.1" />
<line x1="101.03" y1="520.31" x2="105.63" y2="520.31" stroke="#222" stroke-width="1.1" />
<line x1="101.03" y1="524.67" x2="105.63" y2="524.67" stroke="#222" stroke-width="1.1" />
<line x1="116.37" y1="516.3" x2="116.37" y2="521.4" stroke="#222" stroke-width="1.1" />
<line x1="114.07" y1="516.3" x2="118.67" y2="516.3" stroke="#222" stroke-width="1.1" />
<line x1="114.07" y1="521.4" x2="118.67" y2="521.4" stroke="#222" stroke-width="1.1" />
<line x1="129.4" y1="513.4" x2="129.4" y2="519.21" stroke="#222" stroke-width="1.1" />
<line x1="127.1" y1="513.4" x2="131.7" y2="513.4" stroke="#222" stroke-width="1.1" />
<line x1="127.1" y1="519.21" x2="131.7" y2="519.21" stroke="#222" stroke-width="1.1" />
<line x1="142.43" y1="511.21" x2="142.43" y2="517.03" stroke="#222" stroke-width="1.1" />
<line x1="140.13" y1="511.21" x2="144.73" y2="511.21" stroke="#222" stroke-width="1.1" />
<line x1="140.13" y1="517.03" x2="144.73" y2="517.03" stroke="#222" stroke-width="1.1" />
<line x1="155.47" y1="510.49" x2="155.47" y2="516.3" stroke="#222" stroke-width="1.1" />
<line x1="153.17" y1="510.49" x2="157.77" y2="510.49" stroke="#222" stroke-width="1.1" />
<line x1="153.17" y1="516.3" x2="157.77" y2="516.3" stroke="#222" stroke-width="1.1" />
<line x1="168.5" y1="508.67" x2="168.5" y2="514.49" stroke="#222" stroke-width="1.1" />
<line x1="166.2" y1="508.67" x2="170.8" y2="508.67" stroke="#222" stroke-width="1.1" />
<line x1="166.2" y1="514.49" x2="170.8" y2="514.49" stroke="#222" stroke-width="1.1" />
<line x1="181.53" y1="508.67" x2="181.53" y2="514.49" stroke="#222" stroke-width="1.1" />
<line x1="179.23" y1="508.67" x2="183.83" y2="508.67" stroke="#222" stroke-width="1.1" />
<line x1="179.23" y1="514.49" x2="183.83" y2="514.49" stroke="#222" stroke-width="1.1" />
<line x1="194.57" y1="507.21" x2="194.57" y2="513.76" stroke="#222" stroke-width="1.1" />
<line x1="192.27" y1="507.21" x2="196.87" y2="507.21" stroke="#222" stroke-width="1.1" />
<line x1="192.27" y1="513.76" x2="196.87" y2="513.76" stroke="#222" stroke-width="1.1" />
<line x1="207.6" y1="508.67" x2="207.6" y2="514.49" stroke="#222" stroke-width="1.1" />
<line x1="205.3" y1="508.67" x2="209.9" y2="508.67" stroke="#222" stroke-width="1.1" />
<line x1="205.3" y1="514.49" x2="209.9" y2="514.49" stroke="#222" stroke-width="1.1" />
<path d="M64.23,551.22 L77.27,537.03 L90.3,527.94 L103.33,522.49 L116.37,518.85 L129.4,516.3 L142.43,514.12 L155.47,513.4 L168.5,511.58 L181.53,511.58 L194.57,510.49 L207.6,511.58" fill="none" stroke="#222" stroke-width="1.0"/>
<circle cx="64.23" cy="551.22" r="2.4" fill="#ff0000" stroke="#000" stroke-width="0.8"/>
<circle cx="77.27" cy="537.03" r="2.4" fill="#ff0000" stroke="#000" stroke-width="0.8"/>
<circle cx="90.3" cy="527.94" r="2.4" fill="#ff0000" stroke="#000" stroke-width="0.8"/>
<circle cx="103.33" cy="522.49" r="2.4" fill="#ff0000" stroke="#000" stroke-width="0.8"/>
<circle cx="116.37" cy="518.85" r="2.4" fill="#ff0000" stroke="#000" stroke-width="0.8"/>
<circle cx="129.4" cy="516.3" r="2.4" fill="#ff0000" stroke="#000" stroke-width="0.8"/>
<circle cx="142.43" cy="514.12" r="2.4" fill="#ff0000" stroke="#000" stroke-width="0.8"/>
<circle cx="155.47" cy="513.4" r="2.4" fill="#ff0000" stroke="#000" stroke-width="0.8"/>
<circle cx="168.5" cy="511.58" r="2.4" fill="#ff0000" stroke="#000" stroke-width="0.8"/>
<circle cx="181.53" cy="511.58" r="2.4" fill="#ff0000" stroke="#000" stroke-width="0.8"/>
<circle cx="194.57" cy="510.49" r="2.4" fill="#ff0000" stroke="#000" stroke-width="0.8"/>
<circle cx="207.6" cy="511.58" r="2.4" fill="#ff0000" stroke="#000" stroke-width="0.8"/>
<path d="M51.2,565.4 L64.23,551.22" stroke="#333" stroke-width="0.9" fill="none"/>
<line x1="64.23" y1="547.58" x2="64.23" y2="549.76" stroke="#000" stroke-width="1.1" />
<line x1="61.93" y1="547.58" x2="66.53" y2="547.58" stroke="#000" stroke-width="1.1" />
<line x1="61.93" y1="549.76" x2="66.53" y2="549.76" stroke="#000" stroke-width="1.1" />
<line x1="77.27" y1="528.67" x2="77.27" y2="531.58" stroke="#000" stroke-width="1.1" />
<line x1="74.97" y1="528.67" x2="79.57" y2="528.67" stroke="#000" stroke-width="1.1" />
<line x1="74.97" y1="531.58" x2="79.57" y2="531.58" stroke="#000" stroke-width="1.1" />
<line x1="90.3" y1="514.12" x2="90.3" y2="519.21" stroke="#000" stroke-width="1.1" />
<line x1="88" y1="514.12" x2="92.6" y2="514.12" stroke="#000" stroke-width="1.1" />
<line x1="88" y1="519.21" x2="92.6" y2="519.21" stroke="#000" stroke-width="1.1" />
<line x1="103.33" y1="504.3" x2="103.33" y2="511.58" stroke="#000" stroke-width="1.1" />
<line x1="101.03" y1="504.3" x2="105.63" y2="504.3" stroke="#000" stroke-width="1.1" />
<line x1="101.03" y1="511.58" x2="105.63" y2="511.58" stroke="#000" stroke-width="1.1" />
<line x1="116.37" y1="498.12" x2="116.37" y2="505.39" stroke="#000" stroke-width="1.1" />
<line x1="114.07" y1="498.12" x2="118.67" y2="498.12" stroke="#000" stroke-width="1.1" />
<line x1="114.07" y1="505.39" x2="118.67" y2="505.39" stroke="#000" stroke-width="1.1" />
<line x1="129.4" y1="493.76" x2="129.4" y2="502.49" stroke="#000" stroke-width="1.1" />
<line x1="127.1" y1="493.76" x2="131.7" y2="493.76" stroke="#000" stroke-width="1.1" />
<line x1="127.1" y1="502.49" x2="131.7" y2="502.49" stroke="#000" stroke-width="1.1" />
<line x1="142.43" y1="490.48" x2="142.43" y2="499.21" stroke="#000" stroke-width="1.1" />
<line x1="140.13" y1="490.48" x2="144.73" y2="490.48" stroke="#000" stroke-width="1.1" />
<line x1="140.13" y1="499.21" x2="144.73" y2="499.21" stroke="#000" stroke-width="1.1" />
<line x1="155.47" y1="487.21" x2="155.47" y2="496.67" stroke="#000" stroke-width="1.1" />
<line x1="153.17" y1="487.21" x2="157.77" y2="487.21" stroke="#000" stroke-width="1.1" />
<line x1="153.17" y1="496.67" x2="157.77" y2="496.67" stroke="#000" stroke-width="1.1" />
<line x1="168.5" y1="486.12" x2="168.5" y2="495.58" stroke="#000" stroke-width="1.1" />
<line x1="166.2" y1="486.12" x2="170.8" y2="486.12" stroke="#000" stroke-width="1.1" />
<line x1="166.2" y1="495.58" x2="170.8" y2="495.58" stroke="#000" stroke-width="1.1" />
<line x1="181.53" y1="485.39" x2="181.53" y2="494.85" stroke="#000" stroke-width="1.1" />
<line x1="179.23" y1="485.39" x2="183.83" y2="485.39" stroke="#000" stroke-width="1.1" />
<line x1="179.23" y1="494.85" x2="183.83" y2="494.85" stroke="#000" stroke-width="1.1" />
<line x1="194.57" y1="483.94" x2="194.57" y2="494.12" stroke="#000" stroke-width="1.1" />
<line x1="192.27" y1="483.94" x2="196.87" y2="483.94" stroke="#000" stroke-width="1.1" />
<line x1="192.27" y1="494.12" x2="196.87" y2="494.12" stroke="#000" stroke-width="1.1" />
<line x1="207.6" y1="483.94" x2="207.6" y2="494.12" stroke="#000" stroke-width="1.1" />
<line x1="205.3" y1="483.94" x2="209.9" y2="483.94" stroke="#000" stroke-width="1.1" />
<line x1="205.3" y1="494.12" x2="209.9" y2="494.12" stroke="#000" stroke-width="1.1" />
<path d="M51.2,565.4 L64.23,548.67 L77.27,530.12 L90.3,516.67 L103.33,507.94 L116.37,501.76 L129.4,498.12 L142.43,494.85 L155.47,491.94 L168.5,490.85 L181.53,490.12 L194.57,489.03 L207.6,489.03" fill="none" stroke="#000" stroke-width="1.4"/>
<circle cx="64.23" cy="548.67" r="2.75" fill="#000"/>
<circle cx="77.27" cy="530.12" r="2.75" fill="#000"/>
<circle cx="90.3" cy="516.67" r="2.75" fill="#000"/>
<circle cx="103.33" cy="507.94" r="2.75" fill="#000"/>
<circle cx="116.37" cy="501.76" r="2.75" fill="#000"/>
<circle cx="129.4" cy="498.12" r="2.75" fill="#000"/>
<circle cx="142.43" cy="494.85" r="2.75" fill="#000"/>
<circle cx="155.47" cy="491.94" r="2.75" fill="#000"/>
<circle cx="168.5" cy="490.85" r="2.75" fill="#000"/>
<circle cx="181.53" cy="490.12" r="2.75" fill="#000"/>
<circle cx="194.57" cy="489.03" r="2.75" fill="#000"/>
<circle cx="207.6" cy="489.03" r="2.75" fill="#000"/>
<text x="226.6" y="404.2" font-size="21" text-anchor="start" font-weight="bold" font-style="normal" fill="#000" stroke="#000" stroke-width="0.75">e</text>
<circle cx="257.4" cy="412.2" r="3.22" fill="#000"/>
<text x="265" y="416.3" font-size="13.5" text-anchor="start" font-weight="normal" font-style="normal" fill="#000"  textLength="20.8" lengthAdjust="spacingAndGlyphs">WT</text>
<polygon points="294.1,409.56 300.1,409.56 297.1,414.84" fill="#ff0000" stroke="#000" stroke-width="1.0" stroke-linejoin="round"/>
<text x="304.7" y="416.3" font-size="13.5" text-anchor="start" font-weight="normal" font-style="normal" fill="#000" ><tspan font-style="italic">TNF</tspan> KO</text>
<polygon points="365.7,409.01 368.69,412 365.7,414.99 362.71,412" fill="#555" stroke="#111" stroke-width="0.9"/>
<text x="370.8" y="416.3" font-size="13.5" text-anchor="start" font-weight="normal" font-style="normal" fill="#000" ><tspan font-style="italic">TNFR1</tspan> KO</text>
<circle cx="257.4" cy="431.3" r="3" fill="#fff" stroke="#000" stroke-width="0.9"/>
<text x="265.3" y="435.6" font-size="13.5" text-anchor="start" font-weight="normal" font-style="normal" fill="#000" ><tspan font-style="italic">TNFR2</tspan> KO</text>
<rect x="343.06" y="428.46" width="5.89" height="5.89" fill="#fff" stroke="#222" stroke-width="0.7"/>
<text x="354.6" y="435.6" font-size="13.5" text-anchor="start" font-weight="normal" font-style="normal" fill="#000" ><tspan font-style="italic">CYBB</tspan> KO</text>
<line x1="268.2" y1="456.5" x2="268.2" y2="564.95" stroke="#000" stroke-width="1.4" />
<line x1="263.8" y1="564.3" x2="268.2" y2="564.3" stroke="#000" stroke-width="1.4" />
<text x="261.5" y="569.7" font-size="14" text-anchor="end" font-weight="normal" font-style="normal" fill="#000" >0</text>
<line x1="263.8" y1="528.37" x2="268.2" y2="528.37" stroke="#000" stroke-width="1.4" />
<text x="261.5" y="533.77" font-size="14" text-anchor="end" font-weight="normal" font-style="normal" fill="#000" >5</text>
<line x1="263.8" y1="492.43" x2="268.2" y2="492.43" stroke="#000" stroke-width="1.4" />
<text x="261.5" y="497.83" font-size="14" text-anchor="end" font-weight="normal" font-style="normal" fill="#000" >10</text>
<line x1="263.8" y1="456.5" x2="268.2" y2="456.5" stroke="#000" stroke-width="1.4" />
<text x="261.5" y="461.9" font-size="14" text-anchor="end" font-weight="normal" font-style="normal" fill="#000" >15</text>
<line x1="267.55" y1="564.3" x2="433" y2="564.3" stroke="#000" stroke-width="1.4" />
<line x1="268.2" y1="564.3" x2="268.2" y2="568.9" stroke="#000" stroke-width="1.4" />
<text x="268.2" y="582.3" font-size="13.5" text-anchor="middle" font-weight="normal" font-style="normal" fill="#000" >0</text>
<line x1="322.63" y1="564.3" x2="322.63" y2="568.9" stroke="#000" stroke-width="1.4" />
<text x="322.63" y="582.3" font-size="13.5" text-anchor="middle" font-weight="normal" font-style="normal" fill="#000" >5</text>
<line x1="377.07" y1="564.3" x2="377.07" y2="568.9" stroke="#000" stroke-width="1.4" />
<text x="377.07" y="582.3" font-size="13.5" text-anchor="middle" font-weight="normal" font-style="normal" fill="#000" >10</text>
<line x1="431.5" y1="564.3" x2="431.5" y2="568.9" stroke="#000" stroke-width="1.4" />
<text x="431.5" y="582.3" font-size="13.5" text-anchor="middle" font-weight="normal" font-style="normal" fill="#000" >15</text>
<text x="273.7" y="465.3" font-size="14" text-anchor="start" font-weight="normal" font-style="normal" fill="#000" >PMA</text>
<text x="0" y="0" font-size="13.5" text-anchor="middle" transform="translate(236.8,509.6) rotate(-90)">RLU (×10<tspan font-size="8.5" dy="-5">3</tspan><tspan dy="5">)</tspan></text>
<text x="351.2" y="597" font-size="13.5" text-anchor="middle" font-weight="normal" font-style="normal" fill="#000" >Time (min)</text>
<path d="M268.2,563.22 L279.09,563.22 L289.97,563.22 L300.86,563.22 L311.75,563.22 L322.63,563.22 L333.52,563.22 L344.41,563.22 L355.29,563.22 L366.18,563.22 L377.07,563.22 L387.95,563.22 L398.84,563.22 L409.73,563.22 L420.61,563.22 L431.5,563.22" fill="none" stroke="#000" stroke-width="1.0"/>
<rect x="266.05" y="561.07" width="4.3" height="4.3" fill="#eee" stroke="#111" stroke-width="1.25"/>
<rect x="276.94" y="561.07" width="4.3" height="4.3" fill="#eee" stroke="#111" stroke-width="1.25"/>
<rect x="287.82" y="561.07" width="4.3" height="4.3" fill="#eee" stroke="#111" stroke-width="1.25"/>
<rect x="298.71" y="561.07" width="4.3" height="4.3" fill="#eee" stroke="#111" stroke-width="1.25"/>
<rect x="309.6" y="561.07" width="4.3" height="4.3" fill="#eee" stroke="#111" stroke-width="1.25"/>
<rect x="320.48" y="561.07" width="4.3" height="4.3" fill="#eee" stroke="#111" stroke-width="1.25"/>
<rect x="331.37" y="561.07" width="4.3" height="4.3" fill="#eee" stroke="#111" stroke-width="1.25"/>
<rect x="342.26" y="561.07" width="4.3" height="4.3" fill="#eee" stroke="#111" stroke-width="1.25"/>
<rect x="353.14" y="561.07" width="4.3" height="4.3" fill="#eee" stroke="#111" stroke-width="1.25"/>
<rect x="364.03" y="561.07" width="4.3" height="4.3" fill="#eee" stroke="#111" stroke-width="1.25"/>
<rect x="374.92" y="561.07" width="4.3" height="4.3" fill="#eee" stroke="#111" stroke-width="1.25"/>
<rect x="385.8" y="561.07" width="4.3" height="4.3" fill="#eee" stroke="#111" stroke-width="1.25"/>
<rect x="396.69" y="561.07" width="4.3" height="4.3" fill="#eee" stroke="#111" stroke-width="1.25"/>
<rect x="407.58" y="561.07" width="4.3" height="4.3" fill="#eee" stroke="#111" stroke-width="1.25"/>
<rect x="418.46" y="561.07" width="4.3" height="4.3" fill="#eee" stroke="#111" stroke-width="1.25"/>
<rect x="429.35" y="561.07" width="4.3" height="4.3" fill="#eee" stroke="#111" stroke-width="1.25"/>
<line x1="279.09" y1="556.39" x2="279.09" y2="558.55" stroke="#222" stroke-width="1.1" />
<line x1="276.79" y1="556.39" x2="281.39" y2="556.39" stroke="#222" stroke-width="1.1" />
<line x1="276.79" y1="558.55" x2="281.39" y2="558.55" stroke="#222" stroke-width="1.1" />
<line x1="289.97" y1="550.86" x2="289.97" y2="553.74" stroke="#222" stroke-width="1.1" />
<line x1="287.67" y1="550.86" x2="292.27" y2="550.86" stroke="#222" stroke-width="1.1" />
<line x1="287.67" y1="553.74" x2="292.27" y2="553.74" stroke="#222" stroke-width="1.1" />
<line x1="300.86" y1="544.39" x2="300.86" y2="547.99" stroke="#222" stroke-width="1.1" />
<line x1="298.56" y1="544.39" x2="303.16" y2="544.39" stroke="#222" stroke-width="1.1" />
<line x1="298.56" y1="547.99" x2="303.16" y2="547.99" stroke="#222" stroke-width="1.1" />
<line x1="311.75" y1="540.94" x2="311.75" y2="545.26" stroke="#222" stroke-width="1.1" />
<line x1="309.45" y1="540.94" x2="314.05" y2="540.94" stroke="#222" stroke-width="1.1" />
<line x1="309.45" y1="545.26" x2="314.05" y2="545.26" stroke="#222" stroke-width="1.1" />
<line x1="322.63" y1="538.21" x2="322.63" y2="542.52" stroke="#222" stroke-width="1.1" />
<line x1="320.33" y1="538.21" x2="324.93" y2="538.21" stroke="#222" stroke-width="1.1" />
<line x1="320.33" y1="542.52" x2="324.93" y2="542.52" stroke="#222" stroke-width="1.1" />
<line x1="333.52" y1="537.49" x2="333.52" y2="541.81" stroke="#222" stroke-width="1.1" />
<line x1="331.22" y1="537.49" x2="335.82" y2="537.49" stroke="#222" stroke-width="1.1" />
<line x1="331.22" y1="541.81" x2="335.82" y2="541.81" stroke="#222" stroke-width="1.1" />
<line x1="344.41" y1="539.22" x2="344.41" y2="543.53" stroke="#222" stroke-width="1.1" />
<line x1="342.11" y1="539.22" x2="346.71" y2="539.22" stroke="#222" stroke-width="1.1" />
<line x1="342.11" y1="543.53" x2="346.71" y2="543.53" stroke="#222" stroke-width="1.1" />
<line x1="355.29" y1="541.95" x2="355.29" y2="545.54" stroke="#222" stroke-width="1.1" />
<line x1="352.99" y1="541.95" x2="357.59" y2="541.95" stroke="#222" stroke-width="1.1" />
<line x1="352.99" y1="545.54" x2="357.59" y2="545.54" stroke="#222" stroke-width="1.1" />
<line x1="366.18" y1="544.75" x2="366.18" y2="547.63" stroke="#222" stroke-width="1.1" />
<line x1="363.88" y1="544.75" x2="368.48" y2="544.75" stroke="#222" stroke-width="1.1" />
<line x1="363.88" y1="547.63" x2="368.48" y2="547.63" stroke="#222" stroke-width="1.1" />
<line x1="377.07" y1="546.76" x2="377.07" y2="549.64" stroke="#222" stroke-width="1.1" />
<line x1="374.77" y1="546.76" x2="379.37" y2="546.76" stroke="#222" stroke-width="1.1" />
<line x1="374.77" y1="549.64" x2="379.37" y2="549.64" stroke="#222" stroke-width="1.1" />
<line x1="387.95" y1="548.49" x2="387.95" y2="551.36" stroke="#222" stroke-width="1.1" />
<line x1="385.65" y1="548.49" x2="390.25" y2="548.49" stroke="#222" stroke-width="1.1" />
<line x1="385.65" y1="551.36" x2="390.25" y2="551.36" stroke="#222" stroke-width="1.1" />
<line x1="398.84" y1="549.85" x2="398.84" y2="552.73" stroke="#222" stroke-width="1.1" />
<line x1="396.54" y1="549.85" x2="401.14" y2="549.85" stroke="#222" stroke-width="1.1" />
<line x1="396.54" y1="552.73" x2="401.14" y2="552.73" stroke="#222" stroke-width="1.1" />
<line x1="409.73" y1="551.22" x2="409.73" y2="553.38" stroke="#222" stroke-width="1.1" />
<line x1="407.43" y1="551.22" x2="412.03" y2="551.22" stroke="#222" stroke-width="1.1" />
<line x1="407.43" y1="553.38" x2="412.03" y2="553.38" stroke="#222" stroke-width="1.1" />
<line x1="420.61" y1="552.3" x2="420.61" y2="554.45" stroke="#222" stroke-width="1.1" />
<line x1="418.31" y1="552.3" x2="422.91" y2="552.3" stroke="#222" stroke-width="1.1" />
<line x1="418.31" y1="554.45" x2="422.91" y2="554.45" stroke="#222" stroke-width="1.1" />
<line x1="431.5" y1="551.94" x2="431.5" y2="554.09" stroke="#222" stroke-width="1.1" />
<line x1="429.2" y1="551.94" x2="433.8" y2="551.94" stroke="#222" stroke-width="1.1" />
<line x1="429.2" y1="554.09" x2="433.8" y2="554.09" stroke="#222" stroke-width="1.1" />
<path d="M268.2,560.2 L279.09,557.47 L289.97,552.3 L300.86,546.19 L311.75,543.1 L322.63,540.37 L333.52,539.65 L344.41,541.37 L355.29,543.75 L366.18,546.19 L377.07,548.2 L387.95,549.93 L398.84,551.29 L409.73,552.3 L420.61,553.38 L431.5,553.02" fill="none" stroke="#000" stroke-width="1.0"/>
<polygon points="265.7,558 270.7,558 268.2,562.4" fill="#ff0000" stroke="#000" stroke-width="1.0" stroke-linejoin="round"/>
<polygon points="276.59,555.27 281.59,555.27 279.09,559.67" fill="#ff0000" stroke="#000" stroke-width="1.0" stroke-linejoin="round"/>
<polygon points="287.47,550.1 292.47,550.1 289.97,554.5" fill="#ff0000" stroke="#000" stroke-width="1.0" stroke-linejoin="round"/>
<polygon points="298.36,543.99 303.36,543.99 300.86,548.39" fill="#ff0000" stroke="#000" stroke-width="1.0" stroke-linejoin="round"/>
<polygon points="309.25,540.9 314.25,540.9 311.75,545.3" fill="#ff0000" stroke="#000" stroke-width="1.0" stroke-linejoin="round"/>
<polygon points="320.13,538.17 325.13,538.17 322.63,542.57" fill="#ff0000" stroke="#000" stroke-width="1.0" stroke-linejoin="round"/>
<polygon points="331.02,537.45 336.02,537.45 333.52,541.85" fill="#ff0000" stroke="#000" stroke-width="1.0" stroke-linejoin="round"/>
<polygon points="341.91,539.17 346.91,539.17 344.41,543.57" fill="#ff0000" stroke="#000" stroke-width="1.0" stroke-linejoin="round"/>
<polygon points="352.79,541.55 357.79,541.55 355.29,545.95" fill="#ff0000" stroke="#000" stroke-width="1.0" stroke-linejoin="round"/>
<polygon points="363.68,543.99 368.68,543.99 366.18,548.39" fill="#ff0000" stroke="#000" stroke-width="1.0" stroke-linejoin="round"/>
<polygon points="374.57,546 379.57,546 377.07,550.4" fill="#ff0000" stroke="#000" stroke-width="1.0" stroke-linejoin="round"/>
<polygon points="385.45,547.73 390.45,547.73 387.95,552.13" fill="#ff0000" stroke="#000" stroke-width="1.0" stroke-linejoin="round"/>
<polygon points="396.34,549.09 401.34,549.09 398.84,553.49" fill="#ff0000" stroke="#000" stroke-width="1.0" stroke-linejoin="round"/>
<polygon points="407.23,550.1 412.23,550.1 409.73,554.5" fill="#ff0000" stroke="#000" stroke-width="1.0" stroke-linejoin="round"/>
<polygon points="418.11,551.18 423.11,551.18 420.61,555.58" fill="#ff0000" stroke="#000" stroke-width="1.0" stroke-linejoin="round"/>
<polygon points="429,550.82 434,550.82 431.5,555.22" fill="#ff0000" stroke="#000" stroke-width="1.0" stroke-linejoin="round"/>
<line x1="279.09" y1="551.94" x2="279.09" y2="554.81" stroke="#222" stroke-width="1.1" />
<line x1="276.79" y1="551.94" x2="281.39" y2="551.94" stroke="#222" stroke-width="1.1" />
<line x1="276.79" y1="554.81" x2="281.39" y2="554.81" stroke="#222" stroke-width="1.1" />
<line x1="289.97" y1="542.31" x2="289.97" y2="545.18" stroke="#222" stroke-width="1.1" />
<line x1="287.67" y1="542.31" x2="292.27" y2="542.31" stroke="#222" stroke-width="1.1" />
<line x1="287.67" y1="545.18" x2="292.27" y2="545.18" stroke="#222" stroke-width="1.1" />
<line x1="300.86" y1="534.12" x2="300.86" y2="538.43" stroke="#222" stroke-width="1.1" />
<line x1="298.56" y1="534.12" x2="303.16" y2="534.12" stroke="#222" stroke-width="1.1" />
<line x1="298.56" y1="538.43" x2="303.16" y2="538.43" stroke="#222" stroke-width="1.1" />
<line x1="311.75" y1="532.39" x2="311.75" y2="535.98" stroke="#222" stroke-width="1.1" />
<line x1="309.45" y1="532.39" x2="314.05" y2="532.39" stroke="#222" stroke-width="1.1" />
<line x1="309.45" y1="535.98" x2="314.05" y2="535.98" stroke="#222" stroke-width="1.1" />
<line x1="322.63" y1="531.31" x2="322.63" y2="535.63" stroke="#222" stroke-width="1.1" />
<line x1="320.33" y1="531.31" x2="324.93" y2="531.31" stroke="#222" stroke-width="1.1" />
<line x1="320.33" y1="535.63" x2="324.93" y2="535.63" stroke="#222" stroke-width="1.1" />
<line x1="333.52" y1="531.31" x2="333.52" y2="535.63" stroke="#222" stroke-width="1.1" />
<line x1="331.22" y1="531.31" x2="335.82" y2="531.31" stroke="#222" stroke-width="1.1" />
<line x1="331.22" y1="535.63" x2="335.82" y2="535.63" stroke="#222" stroke-width="1.1" />
<line x1="344.41" y1="533.04" x2="344.41" y2="537.35" stroke="#222" stroke-width="1.1" />
<line x1="342.11" y1="533.04" x2="346.71" y2="533.04" stroke="#222" stroke-width="1.1" />
<line x1="342.11" y1="537.35" x2="346.71" y2="537.35" stroke="#222" stroke-width="1.1" />
<line x1="355.29" y1="536.49" x2="355.29" y2="540.8" stroke="#222" stroke-width="1.1" />
<line x1="352.99" y1="536.49" x2="357.59" y2="536.49" stroke="#222" stroke-width="1.1" />
<line x1="352.99" y1="540.8" x2="357.59" y2="540.8" stroke="#222" stroke-width="1.1" />
<line x1="366.18" y1="540.22" x2="366.18" y2="543.82" stroke="#222" stroke-width="1.1" />
<line x1="363.88" y1="540.22" x2="368.48" y2="540.22" stroke="#222" stroke-width="1.1" />
<line x1="363.88" y1="543.82" x2="368.48" y2="543.82" stroke="#222" stroke-width="1.1" />
<line x1="377.07" y1="543.03" x2="377.07" y2="545.9" stroke="#222" stroke-width="1.1" />
<line x1="374.77" y1="543.03" x2="379.37" y2="543.03" stroke="#222" stroke-width="1.1" />
<line x1="374.77" y1="545.9" x2="379.37" y2="545.9" stroke="#222" stroke-width="1.1" />
<line x1="387.95" y1="545.04" x2="387.95" y2="547.91" stroke="#222" stroke-width="1.1" />
<line x1="385.65" y1="545.04" x2="390.25" y2="545.04" stroke="#222" stroke-width="1.1" />
<line x1="385.65" y1="547.91" x2="390.25" y2="547.91" stroke="#222" stroke-width="1.1" />
<line x1="398.84" y1="545.76" x2="398.84" y2="548.63" stroke="#222" stroke-width="1.1" />
<line x1="396.54" y1="545.76" x2="401.14" y2="545.76" stroke="#222" stroke-width="1.1" />
<line x1="396.54" y1="548.63" x2="401.14" y2="548.63" stroke="#222" stroke-width="1.1" />
<line x1="409.73" y1="547.12" x2="409.73" y2="549.28" stroke="#222" stroke-width="1.1" />
<line x1="407.43" y1="547.12" x2="412.03" y2="547.12" stroke="#222" stroke-width="1.1" />
<line x1="407.43" y1="549.28" x2="412.03" y2="549.28" stroke="#222" stroke-width="1.1" />
<line x1="420.61" y1="547.41" x2="420.61" y2="549.57" stroke="#222" stroke-width="1.1" />
<line x1="418.31" y1="547.41" x2="422.91" y2="547.41" stroke="#222" stroke-width="1.1" />
<line x1="418.31" y1="549.57" x2="422.91" y2="549.57" stroke="#222" stroke-width="1.1" />
<line x1="431.5" y1="547.84" x2="431.5" y2="550" stroke="#222" stroke-width="1.1" />
<line x1="429.2" y1="547.84" x2="433.8" y2="547.84" stroke="#222" stroke-width="1.1" />
<line x1="429.2" y1="550" x2="433.8" y2="550" stroke="#222" stroke-width="1.1" />
<path d="M268.2,558.12 L279.09,553.38 L289.97,543.75 L300.86,536.27 L311.75,534.19 L322.63,533.47 L333.52,533.47 L344.41,535.19 L355.29,538.64 L366.18,542.02 L377.07,544.46 L387.95,546.48 L398.84,547.2 L409.73,548.2 L420.61,548.49 L431.5,548.92" fill="none" stroke="#000" stroke-width="1.0"/>
<polygon points="268.2,555.52 270.8,558.12 268.2,560.72 265.6,558.12" fill="#777" stroke="#222" stroke-width="0.8"/>
<polygon points="279.09,550.78 281.69,553.38 279.09,555.98 276.49,553.38" fill="#777" stroke="#222" stroke-width="0.8"/>
<polygon points="289.97,541.15 292.57,543.75 289.97,546.35 287.37,543.75" fill="#777" stroke="#222" stroke-width="0.8"/>
<polygon points="300.86,533.67 303.46,536.27 300.86,538.87 298.26,536.27" fill="#777" stroke="#222" stroke-width="0.8"/>
<polygon points="311.75,531.59 314.35,534.19 311.75,536.79 309.15,534.19" fill="#777" stroke="#222" stroke-width="0.8"/>
<polygon points="322.63,530.87 325.23,533.47 322.63,536.07 320.03,533.47" fill="#777" stroke="#222" stroke-width="0.8"/>
<polygon points="333.52,530.87 336.12,533.47 333.52,536.07 330.92,533.47" fill="#777" stroke="#222" stroke-width="0.8"/>
<polygon points="344.41,532.59 347.01,535.19 344.41,537.79 341.81,535.19" fill="#777" stroke="#222" stroke-width="0.8"/>
<polygon points="355.29,536.04 357.89,538.64 355.29,541.24 352.69,538.64" fill="#777" stroke="#222" stroke-width="0.8"/>
<polygon points="366.18,539.42 368.78,542.02 366.18,544.62 363.58,542.02" fill="#777" stroke="#222" stroke-width="0.8"/>
<polygon points="377.07,541.86 379.67,544.46 377.07,547.06 374.47,544.46" fill="#777" stroke="#222" stroke-width="0.8"/>
<polygon points="387.95,543.88 390.55,546.48 387.95,549.08 385.35,546.48" fill="#777" stroke="#222" stroke-width="0.8"/>
<polygon points="398.84,544.6 401.44,547.2 398.84,549.8 396.24,547.2" fill="#777" stroke="#222" stroke-width="0.8"/>
<polygon points="409.73,545.6 412.33,548.2 409.73,550.8 407.13,548.2" fill="#777" stroke="#222" stroke-width="0.8"/>
<polygon points="420.61,545.89 423.21,548.49 420.61,551.09 418.01,548.49" fill="#777" stroke="#222" stroke-width="0.8"/>
<polygon points="431.5,546.32 434.1,548.92 431.5,551.52 428.9,548.92" fill="#777" stroke="#222" stroke-width="0.8"/>
<line x1="279.09" y1="531.24" x2="279.09" y2="538.43" stroke="#222" stroke-width="1.1" />
<line x1="276.79" y1="531.24" x2="281.39" y2="531.24" stroke="#222" stroke-width="1.1" />
<line x1="276.79" y1="538.43" x2="281.39" y2="538.43" stroke="#222" stroke-width="1.1" />
<line x1="289.97" y1="505.94" x2="289.97" y2="516.01" stroke="#222" stroke-width="1.1" />
<line x1="287.67" y1="505.94" x2="292.27" y2="505.94" stroke="#222" stroke-width="1.1" />
<line x1="287.67" y1="516.01" x2="292.27" y2="516.01" stroke="#222" stroke-width="1.1" />
<line x1="300.86" y1="490.49" x2="300.86" y2="504.87" stroke="#222" stroke-width="1.1" />
<line x1="298.56" y1="490.49" x2="303.16" y2="490.49" stroke="#222" stroke-width="1.1" />
<line x1="298.56" y1="504.87" x2="303.16" y2="504.87" stroke="#222" stroke-width="1.1" />
<line x1="311.75" y1="483.95" x2="311.75" y2="499.76" stroke="#222" stroke-width="1.1" />
<line x1="309.45" y1="483.95" x2="314.05" y2="483.95" stroke="#222" stroke-width="1.1" />
<line x1="309.45" y1="499.76" x2="314.05" y2="499.76" stroke="#222" stroke-width="1.1" />
<line x1="322.63" y1="485.97" x2="322.63" y2="498.9" stroke="#222" stroke-width="1.1" />
<line x1="320.33" y1="485.97" x2="324.93" y2="485.97" stroke="#222" stroke-width="1.1" />
<line x1="320.33" y1="498.9" x2="324.93" y2="498.9" stroke="#222" stroke-width="1.1" />
<line x1="333.52" y1="491.43" x2="333.52" y2="502.93" stroke="#222" stroke-width="1.1" />
<line x1="331.22" y1="491.43" x2="335.82" y2="491.43" stroke="#222" stroke-width="1.1" />
<line x1="331.22" y1="502.93" x2="335.82" y2="502.93" stroke="#222" stroke-width="1.1" />
<line x1="344.41" y1="498.76" x2="344.41" y2="508.82" stroke="#222" stroke-width="1.1" />
<line x1="342.11" y1="498.76" x2="346.71" y2="498.76" stroke="#222" stroke-width="1.1" />
<line x1="342.11" y1="508.82" x2="346.71" y2="508.82" stroke="#222" stroke-width="1.1" />
<line x1="355.29" y1="506.66" x2="355.29" y2="516.72" stroke="#222" stroke-width="1.1" />
<line x1="352.99" y1="506.66" x2="357.59" y2="506.66" stroke="#222" stroke-width="1.1" />
<line x1="352.99" y1="516.72" x2="357.59" y2="516.72" stroke="#222" stroke-width="1.1" />
<line x1="366.18" y1="513.49" x2="366.18" y2="522.11" stroke="#222" stroke-width="1.1" />
<line x1="363.88" y1="513.49" x2="368.48" y2="513.49" stroke="#222" stroke-width="1.1" />
<line x1="363.88" y1="522.11" x2="368.48" y2="522.11" stroke="#222" stroke-width="1.1" />
<line x1="377.07" y1="519.96" x2="377.07" y2="527.14" stroke="#222" stroke-width="1.1" />
<line x1="374.77" y1="519.96" x2="379.37" y2="519.96" stroke="#222" stroke-width="1.1" />
<line x1="374.77" y1="527.14" x2="379.37" y2="527.14" stroke="#222" stroke-width="1.1" />
<line x1="387.95" y1="525.49" x2="387.95" y2="531.24" stroke="#222" stroke-width="1.1" />
<line x1="385.65" y1="525.49" x2="390.25" y2="525.49" stroke="#222" stroke-width="1.1" />
<line x1="385.65" y1="531.24" x2="390.25" y2="531.24" stroke="#222" stroke-width="1.1" />
<line x1="398.84" y1="529.37" x2="398.84" y2="533.68" stroke="#222" stroke-width="1.1" />
<line x1="396.54" y1="529.37" x2="401.14" y2="529.37" stroke="#222" stroke-width="1.1" />
<line x1="396.54" y1="533.68" x2="401.14" y2="533.68" stroke="#222" stroke-width="1.1" />
<line x1="409.73" y1="532.68" x2="409.73" y2="535.55" stroke="#222" stroke-width="1.1" />
<line x1="407.43" y1="532.68" x2="412.03" y2="532.68" stroke="#222" stroke-width="1.1" />
<line x1="407.43" y1="535.55" x2="412.03" y2="535.55" stroke="#222" stroke-width="1.1" />
<line x1="420.61" y1="534.12" x2="420.61" y2="536.99" stroke="#222" stroke-width="1.1" />
<line x1="418.31" y1="534.12" x2="422.91" y2="534.12" stroke="#222" stroke-width="1.1" />
<line x1="418.31" y1="536.99" x2="422.91" y2="536.99" stroke="#222" stroke-width="1.1" />
<line x1="431.5" y1="534.12" x2="431.5" y2="536.99" stroke="#222" stroke-width="1.1" />
<line x1="429.2" y1="534.12" x2="433.8" y2="534.12" stroke="#222" stroke-width="1.1" />
<line x1="429.2" y1="536.99" x2="433.8" y2="536.99" stroke="#222" stroke-width="1.1" />
<path d="M268.2,553.52 L279.09,534.83 L289.97,510.97 L300.86,497.68 L311.75,491.86 L322.63,492.43 L333.52,497.18 L344.41,503.79 L355.29,511.69 L366.18,517.8 L377.07,523.55 L387.95,528.37 L398.84,531.53 L409.73,534.12 L420.61,535.55 L431.5,535.55" fill="none" stroke="#000" stroke-width="1.0"/>
<circle cx="268.2" cy="553.52" r="2.5" fill="#fff" stroke="#000" stroke-width="0.9"/>
<circle cx="279.09" cy="534.83" r="2.5" fill="#fff" stroke="#000" stroke-width="0.9"/>
<circle cx="289.97" cy="510.97" r="2.5" fill="#fff" stroke="#000" stroke-width="0.9"/>
<circle cx="300.86" cy="497.68" r="2.5" fill="#fff" stroke="#000" stroke-width="0.9"/>
<circle cx="311.75" cy="491.86" r="2.5" fill="#fff" stroke="#000" stroke-width="0.9"/>
<circle cx="322.63" cy="492.43" r="2.5" fill="#fff" stroke="#000" stroke-width="0.9"/>
<circle cx="333.52" cy="497.18" r="2.5" fill="#fff" stroke="#000" stroke-width="0.9"/>
<circle cx="344.41" cy="503.79" r="2.5" fill="#fff" stroke="#000" stroke-width="0.9"/>
<circle cx="355.29" cy="511.69" r="2.5" fill="#fff" stroke="#000" stroke-width="0.9"/>
<circle cx="366.18" cy="517.8" r="2.5" fill="#fff" stroke="#000" stroke-width="0.9"/>
<circle cx="377.07" cy="523.55" r="2.5" fill="#fff" stroke="#000" stroke-width="0.9"/>
<circle cx="387.95" cy="528.37" r="2.5" fill="#fff" stroke="#000" stroke-width="0.9"/>
<circle cx="398.84" cy="531.53" r="2.5" fill="#fff" stroke="#000" stroke-width="0.9"/>
<circle cx="409.73" cy="534.12" r="2.5" fill="#fff" stroke="#000" stroke-width="0.9"/>
<circle cx="420.61" cy="535.55" r="2.5" fill="#fff" stroke="#000" stroke-width="0.9"/>
<circle cx="431.5" cy="535.55" r="2.5" fill="#fff" stroke="#000" stroke-width="0.9"/>
<line x1="279.09" y1="496.53" x2="279.09" y2="529.59" stroke="#222" stroke-width="1.1" />
<line x1="276.79" y1="496.53" x2="281.39" y2="496.53" stroke="#222" stroke-width="1.1" />
<line x1="276.79" y1="529.59" x2="281.39" y2="529.59" stroke="#222" stroke-width="1.1" />
<line x1="289.97" y1="469.15" x2="289.97" y2="505.08" stroke="#222" stroke-width="1.1" />
<line x1="287.67" y1="469.15" x2="292.27" y2="469.15" stroke="#222" stroke-width="1.1" />
<line x1="287.67" y1="505.08" x2="292.27" y2="505.08" stroke="#222" stroke-width="1.1" />
<line x1="300.86" y1="468.21" x2="300.86" y2="496.96" stroke="#222" stroke-width="1.1" />
<line x1="298.56" y1="468.21" x2="303.16" y2="468.21" stroke="#222" stroke-width="1.1" />
<line x1="298.56" y1="496.96" x2="303.16" y2="496.96" stroke="#222" stroke-width="1.1" />
<line x1="311.75" y1="475.47" x2="311.75" y2="494.16" stroke="#222" stroke-width="1.1" />
<line x1="309.45" y1="475.47" x2="314.05" y2="475.47" stroke="#222" stroke-width="1.1" />
<line x1="309.45" y1="494.16" x2="314.05" y2="494.16" stroke="#222" stroke-width="1.1" />
<line x1="322.63" y1="486.11" x2="322.63" y2="496.17" stroke="#222" stroke-width="1.1" />
<line x1="320.33" y1="486.11" x2="324.93" y2="486.11" stroke="#222" stroke-width="1.1" />
<line x1="320.33" y1="496.17" x2="324.93" y2="496.17" stroke="#222" stroke-width="1.1" />
<line x1="333.52" y1="490.49" x2="333.52" y2="504.87" stroke="#222" stroke-width="1.1" />
<line x1="331.22" y1="490.49" x2="335.82" y2="490.49" stroke="#222" stroke-width="1.1" />
<line x1="331.22" y1="504.87" x2="335.82" y2="504.87" stroke="#222" stroke-width="1.1" />
<line x1="344.41" y1="499.33" x2="344.41" y2="510.83" stroke="#222" stroke-width="1.1" />
<line x1="342.11" y1="499.33" x2="346.71" y2="499.33" stroke="#222" stroke-width="1.1" />
<line x1="342.11" y1="510.83" x2="346.71" y2="510.83" stroke="#222" stroke-width="1.1" />
<line x1="355.29" y1="507.17" x2="355.29" y2="521.54" stroke="#222" stroke-width="1.1" />
<line x1="352.99" y1="507.17" x2="357.59" y2="507.17" stroke="#222" stroke-width="1.1" />
<line x1="352.99" y1="521.54" x2="357.59" y2="521.54" stroke="#222" stroke-width="1.1" />
<line x1="366.18" y1="516.58" x2="366.18" y2="528.08" stroke="#222" stroke-width="1.1" />
<line x1="363.88" y1="516.58" x2="368.48" y2="516.58" stroke="#222" stroke-width="1.1" />
<line x1="363.88" y1="528.08" x2="368.48" y2="528.08" stroke="#222" stroke-width="1.1" />
<line x1="377.07" y1="522.62" x2="377.07" y2="534.12" stroke="#222" stroke-width="1.1" />
<line x1="374.77" y1="522.62" x2="379.37" y2="522.62" stroke="#222" stroke-width="1.1" />
<line x1="374.77" y1="534.12" x2="379.37" y2="534.12" stroke="#222" stroke-width="1.1" />
<line x1="387.95" y1="529.37" x2="387.95" y2="538" stroke="#222" stroke-width="1.1" />
<line x1="385.65" y1="529.37" x2="390.25" y2="529.37" stroke="#222" stroke-width="1.1" />
<line x1="385.65" y1="538" x2="390.25" y2="538" stroke="#222" stroke-width="1.1" />
<line x1="398.84" y1="534.12" x2="398.84" y2="538.43" stroke="#222" stroke-width="1.1" />
<line x1="396.54" y1="534.12" x2="401.14" y2="534.12" stroke="#222" stroke-width="1.1" />
<line x1="396.54" y1="538.43" x2="401.14" y2="538.43" stroke="#222" stroke-width="1.1" />
<line x1="409.73" y1="534.83" x2="409.73" y2="539.15" stroke="#222" stroke-width="1.1" />
<line x1="407.43" y1="534.83" x2="412.03" y2="534.83" stroke="#222" stroke-width="1.1" />
<line x1="407.43" y1="539.15" x2="412.03" y2="539.15" stroke="#222" stroke-width="1.1" />
<line x1="420.61" y1="534.12" x2="420.61" y2="538.43" stroke="#222" stroke-width="1.1" />
<line x1="418.31" y1="534.12" x2="422.91" y2="534.12" stroke="#222" stroke-width="1.1" />
<line x1="418.31" y1="538.43" x2="422.91" y2="538.43" stroke="#222" stroke-width="1.1" />
<line x1="431.5" y1="534.83" x2="431.5" y2="537.71" stroke="#222" stroke-width="1.1" />
<line x1="429.2" y1="534.83" x2="433.8" y2="534.83" stroke="#222" stroke-width="1.1" />
<line x1="429.2" y1="537.71" x2="433.8" y2="537.71" stroke="#222" stroke-width="1.1" />
<path d="M268.2,539.65 L279.09,513.06 L289.97,487.12 L300.86,482.59 L311.75,484.82 L322.63,491.14 L333.52,497.68 L344.41,505.08 L355.29,514.35 L366.18,522.33 L377.07,528.37 L387.95,533.68 L398.84,536.27 L409.73,536.99 L420.61,536.27 L431.5,536.27" fill="none" stroke="#000" stroke-width="1.0"/>
<circle cx="268.2" cy="539.65" r="2.75" fill="#000"/>
<circle cx="279.09" cy="513.06" r="2.75" fill="#000"/>
<circle cx="289.97" cy="487.12" r="2.75" fill="#000"/>
<circle cx="300.86" cy="482.59" r="2.75" fill="#000"/>
<circle cx="311.75" cy="484.82" r="2.75" fill="#000"/>
<circle cx="322.63" cy="491.14" r="2.75" fill="#000"/>
<circle cx="333.52" cy="497.68" r="2.75" fill="#000"/>
<circle cx="344.41" cy="505.08" r="2.75" fill="#000"/>
<circle cx="355.29" cy="514.35" r="2.75" fill="#000"/>
<circle cx="366.18" cy="522.33" r="2.75" fill="#000"/>
<circle cx="377.07" cy="528.37" r="2.75" fill="#000"/>
<circle cx="387.95" cy="533.68" r="2.75" fill="#000"/>
<circle cx="398.84" cy="536.27" r="2.75" fill="#000"/>
<circle cx="409.73" cy="536.99" r="2.75" fill="#000"/>
<circle cx="420.61" cy="536.27" r="2.75" fill="#000"/>
<circle cx="431.5" cy="536.27" r="2.75" fill="#000"/>
<text x="452.5" y="403.7" font-size="21" text-anchor="start" font-weight="bold" font-style="normal" fill="#000" stroke="#000" stroke-width="0.75">f</text>
<rect x="484.04" y="409.04" width="6.72" height="6.72" fill="#000" stroke="#222" stroke-width="0.7"/>
<text x="496.2" y="416.3" font-size="13.5" text-anchor="start" font-weight="normal" font-style="normal" fill="#000"  textLength="20.5" lengthAdjust="spacingAndGlyphs">WT</text>
<rect x="525.96" y="409.36" width="6.08" height="6.08" fill="#ff1a00" stroke="#222" stroke-width="0.7"/>
<text x="535.6" y="416.3" font-size="13.5" text-anchor="start" font-weight="normal" font-style="normal" fill="#000" ><tspan font-style="italic">TNF</tspan> KO</text>
<rect x="593.6" y="409.2" width="6.4" height="6.4" fill="#666" stroke="#222" stroke-width="0.7"/>
<text x="601.8" y="416.3" font-size="13.5" text-anchor="start" font-weight="normal" font-style="normal" fill="#000" ><tspan font-style="italic">TNFR1</tspan> KO</text>
<rect x="484.2" y="428" width="6.4" height="6.4" fill="#dcdcdc" stroke="#222" stroke-width="0.7"/>
<text x="495.5" y="435.6" font-size="13.5" text-anchor="start" font-weight="normal" font-style="normal" fill="#000" ><tspan font-style="italic">TNFR2</tspan> KO</text>
<rect x="573.26" y="428.16" width="6.08" height="6.08" fill="#fff" stroke="#222" stroke-width="0.7"/>
<text x="583.3" y="435.6" font-size="13.5" text-anchor="start" font-weight="normal" font-style="normal" fill="#000" ><tspan font-style="italic">CYBB</tspan> KO</text>
<line x1="491.3" y1="456.8" x2="491.3" y2="565.95" stroke="#000" stroke-width="1.4" />
<line x1="486.9" y1="565.3" x2="491.3" y2="565.3" stroke="#000" stroke-width="1.4" />
<text x="483.7" y="570.7" font-size="14" text-anchor="end" font-weight="normal" font-style="normal" fill="#000" >0</text>
<line x1="486.9" y1="529.13" x2="491.3" y2="529.13" stroke="#000" stroke-width="1.4" />
<text x="483.7" y="534.53" font-size="14" text-anchor="end" font-weight="normal" font-style="normal" fill="#000" >5</text>
<line x1="486.9" y1="492.97" x2="491.3" y2="492.97" stroke="#000" stroke-width="1.4" />
<text x="483.7" y="498.37" font-size="14" text-anchor="end" font-weight="normal" font-style="normal" fill="#000" >10</text>
<line x1="486.9" y1="456.8" x2="491.3" y2="456.8" stroke="#000" stroke-width="1.4" />
<text x="483.7" y="462.2" font-size="14" text-anchor="end" font-weight="normal" font-style="normal" fill="#000" >15</text>
<line x1="490.65" y1="565.3" x2="653.5" y2="565.3" stroke="#000" stroke-width="1.3" />
<line x1="501.8" y1="565.3" x2="501.8" y2="570.3" stroke="#000" stroke-width="1.2" />
<text x="501.8" y="582.7" font-size="13.5" text-anchor="middle" font-weight="normal" font-style="normal" fill="#000" >−</text>
<line x1="517.53" y1="565.3" x2="517.53" y2="570.3" stroke="#000" stroke-width="1.2" />
<text x="517.53" y="582.7" font-size="13.5" text-anchor="middle" font-weight="normal" font-style="normal" fill="#000" >+</text>
<line x1="533.26" y1="565.3" x2="533.26" y2="570.3" stroke="#000" stroke-width="1.2" />
<text x="533.26" y="582.7" font-size="13.5" text-anchor="middle" font-weight="normal" font-style="normal" fill="#000" >−</text>
<line x1="548.99" y1="565.3" x2="548.99" y2="570.3" stroke="#000" stroke-width="1.2" />
<text x="548.99" y="582.7" font-size="13.5" text-anchor="middle" font-weight="normal" font-style="normal" fill="#000" >+</text>
<line x1="564.72" y1="565.3" x2="564.72" y2="570.3" stroke="#000" stroke-width="1.2" />
<text x="564.72" y="582.7" font-size="13.5" text-anchor="middle" font-weight="normal" font-style="normal" fill="#000" >−</text>
<line x1="580.45" y1="565.3" x2="580.45" y2="570.3" stroke="#000" stroke-width="1.2" />
<text x="580.45" y="582.7" font-size="13.5" text-anchor="middle" font-weight="normal" font-style="normal" fill="#000" >+</text>
<line x1="596.18" y1="565.3" x2="596.18" y2="570.3" stroke="#000" stroke-width="1.2" />
<text x="596.18" y="582.7" font-size="13.5" text-anchor="middle" font-weight="normal" font-style="normal" fill="#000" >−</text>
<line x1="611.91" y1="565.3" x2="611.91" y2="570.3" stroke="#000" stroke-width="1.2" />
<text x="611.91" y="582.7" font-size="13.5" text-anchor="middle" font-weight="normal" font-style="normal" fill="#000" >+</text>
<line x1="627.64" y1="565.3" x2="627.64" y2="570.3" stroke="#000" stroke-width="1.2" />
<text x="627.64" y="582.7" font-size="13.5" text-anchor="middle" font-weight="normal" font-style="normal" fill="#000" >−</text>
<line x1="643.37" y1="565.3" x2="643.37" y2="570.3" stroke="#000" stroke-width="1.2" />
<text x="643.37" y="582.7" font-size="13.5" text-anchor="middle" font-weight="normal" font-style="normal" fill="#000" >+</text>
<text x="652.9" y="582.7" font-size="13.5" text-anchor="start" font-weight="normal" font-style="normal" fill="#000" >PMA</text>
<text x="0" y="0" font-size="13.5" text-anchor="middle" transform="translate(465,510) rotate(-90)">AUC (×10<tspan font-size="8.5" dy="-5">4</tspan><tspan dy="5">)</tspan></text>
<rect x="496.7" y="560.31" width="10.2" height="4.99" fill="#000" stroke="#000" stroke-width="0.9"/>
<circle cx="498.8" cy="559.51" r="2.3" fill="#fff" stroke="#000" stroke-width="0.9"/>
<circle cx="501.8" cy="559.15" r="2.3" fill="#fff" stroke="#000" stroke-width="0.9"/>
<circle cx="504.8" cy="559.88" r="2.3" fill="#fff" stroke="#000" stroke-width="0.9"/>
<rect x="512.43" y="489.35" width="10.2" height="75.95" fill="#000" stroke="#000" stroke-width="0.9"/>
<line x1="517.53" y1="483.56" x2="517.53" y2="489.35" stroke="#000" stroke-width="0.9" />
<line x1="515.33" y1="483.56" x2="519.73" y2="483.56" stroke="#000" stroke-width="0.9" />
<circle cx="517.53" cy="481.39" r="2.3" fill="#fff" stroke="#000" stroke-width="0.9"/>
<circle cx="517.53" cy="488.99" r="2.3" fill="#fff" stroke="#000" stroke-width="0.9"/>
<circle cx="517.53" cy="499.04" r="2.3" fill="#fff" stroke="#000" stroke-width="0.9"/>
<rect x="528.16" y="562.33" width="10.2" height="2.97" fill="#ff2600" stroke="#000" stroke-width="0.9"/>
<circle cx="530.26" cy="560.96" r="2.3" fill="#fff" stroke="#000" stroke-width="0.9"/>
<circle cx="533.26" cy="560.24" r="2.3" fill="#fff" stroke="#000" stroke-width="0.9"/>
<circle cx="536.26" cy="560.6" r="2.3" fill="#fff" stroke="#000" stroke-width="0.9"/>
<rect x="543.89" y="539.98" width="10.2" height="25.32" fill="#ff2600" stroke="#000" stroke-width="0.9"/>
<line x1="548.99" y1="538.54" x2="548.99" y2="539.98" stroke="#000" stroke-width="0.9" />
<line x1="546.79" y1="538.54" x2="551.19" y2="538.54" stroke="#000" stroke-width="0.9" />
<circle cx="545.99" cy="539.98" r="2.3" fill="#fff" stroke="#000" stroke-width="0.9"/>
<circle cx="548.99" cy="538.54" r="2.3" fill="#fff" stroke="#000" stroke-width="0.9"/>
<circle cx="551.99" cy="539.98" r="2.3" fill="#fff" stroke="#000" stroke-width="0.9"/>
<rect x="559.62" y="562.41" width="10.2" height="2.89" fill="#555" stroke="#000" stroke-width="0.9"/>
<circle cx="561.72" cy="560.96" r="2.3" fill="#fff" stroke="#000" stroke-width="0.9"/>
<circle cx="564.72" cy="560.96" r="2.3" fill="#fff" stroke="#000" stroke-width="0.9"/>
<circle cx="567.72" cy="560.96" r="2.3" fill="#fff" stroke="#000" stroke-width="0.9"/>
<rect x="575.35" y="529.86" width="10.2" height="35.44" fill="#666" stroke="#000" stroke-width="0.9"/>
<circle cx="576.45" cy="530.22" r="2.3" fill="#fff" stroke="#000" stroke-width="0.9"/>
<circle cx="580.45" cy="534.2" r="2.3" fill="#fff" stroke="#000" stroke-width="0.9"/>
<circle cx="584.45" cy="530.22" r="2.3" fill="#fff" stroke="#000" stroke-width="0.9"/>
<rect x="591.08" y="551.56" width="10.2" height="13.74" fill="#d8d8d8" stroke="#000" stroke-width="0.9"/>
<circle cx="593.18" cy="550.83" r="2.3" fill="#fff" stroke="#000" stroke-width="0.9"/>
<circle cx="596.18" cy="549.75" r="2.3" fill="#fff" stroke="#000" stroke-width="0.9"/>
<circle cx="599.18" cy="550.47" r="2.3" fill="#fff" stroke="#000" stroke-width="0.9"/>
<rect x="606.81" y="492.97" width="10.2" height="72.33" fill="#d8d8d8" stroke="#000" stroke-width="0.9"/>
<line x1="611.91" y1="488.63" x2="611.91" y2="492.97" stroke="#000" stroke-width="0.9" />
<line x1="609.71" y1="488.63" x2="614.11" y2="488.63" stroke="#000" stroke-width="0.9" />
<circle cx="611.91" cy="487.18" r="2.3" fill="#fff" stroke="#000" stroke-width="0.9"/>
<circle cx="611.91" cy="492.97" r="2.3" fill="#fff" stroke="#000" stroke-width="0.9"/>
<circle cx="611.91" cy="499.84" r="2.3" fill="#fff" stroke="#000" stroke-width="0.9"/>
<rect x="622.54" y="564.43" width="10.2" height="0.87" fill="#fff" stroke="#000" stroke-width="0.9"/>
<circle cx="624.64" cy="564.43" r="2.3" fill="#fff" stroke="#000" stroke-width="0.9"/>
<circle cx="627.64" cy="564.43" r="2.3" fill="#fff" stroke="#000" stroke-width="0.9"/>
<circle cx="630.64" cy="564.43" r="2.3" fill="#fff" stroke="#000" stroke-width="0.9"/>
<rect x="638.27" y="564.43" width="10.2" height="0.87" fill="#fff" stroke="#000" stroke-width="0.9"/>
<circle cx="640.37" cy="564.43" r="2.3" fill="#fff" stroke="#000" stroke-width="0.9"/>
<circle cx="643.37" cy="564.21" r="2.3" fill="#fff" stroke="#000" stroke-width="0.9"/>
<circle cx="646.37" cy="564.43" r="2.3" fill="#fff" stroke="#000" stroke-width="0.9"/>
<text x="3" y="628.4" font-size="21" text-anchor="start" font-weight="bold" font-style="normal" fill="#000" stroke="#000" stroke-width="0.75">g</text>
<circle cx="31" cy="637.4" r="3.22" fill="#000"/>
<text x="38.9" y="641.8" font-size="13.5" text-anchor="start" font-weight="normal" font-style="normal" fill="#000"  textLength="19.4" lengthAdjust="spacingAndGlyphs">WT</text>
<polygon points="67.5,634.76 73.5,634.76 70.5,640.04" fill="#ff0000" stroke="#000" stroke-width="1.0" stroke-linejoin="round"/>
<text x="78.8" y="641.8" font-size="13.5" text-anchor="start" font-weight="normal" font-style="normal" fill="#000" ><tspan font-style="italic">TNF</tspan> KO</text>
<polygon points="136,634.41 138.99,637.4 136,640.39 133.01,637.4" fill="#555" stroke="#111" stroke-width="0.9"/>
<text x="142.7" y="641.8" font-size="13.5" text-anchor="start" font-weight="normal" font-style="normal" fill="#000" ><tspan font-style="italic">TNFR1</tspan> KO</text>
<circle cx="30.7" cy="652.7" r="3" fill="#fff" stroke="#000" stroke-width="0.9"/>
<text x="38.9" y="657.6" font-size="13.5" text-anchor="start" font-weight="normal" font-style="normal" fill="#000" ><tspan font-style="italic">TNFR2</tspan> KO</text>
<rect x="114.56" y="649.76" width="5.89" height="5.89" fill="#fff" stroke="#222" stroke-width="0.7"/>
<text x="124.2" y="657.6" font-size="13.5" text-anchor="start" font-weight="normal" font-style="normal" fill="#000" ><tspan font-style="italic">CYBB</tspan> KO</text>
<line x1="47.4" y1="676.6" x2="47.4" y2="784.45" stroke="#000" stroke-width="1.4" />
<line x1="43" y1="783.8" x2="47.4" y2="783.8" stroke="#000" stroke-width="1.4" />
<text x="40.6" y="789.2" font-size="14" text-anchor="end" font-weight="normal" font-style="normal" fill="#000" >0</text>
<line x1="43" y1="748.07" x2="47.4" y2="748.07" stroke="#000" stroke-width="1.4" />
<text x="40.6" y="753.47" font-size="14" text-anchor="end" font-weight="normal" font-style="normal" fill="#000" >5</text>
<line x1="43" y1="712.33" x2="47.4" y2="712.33" stroke="#000" stroke-width="1.4" />
<text x="40.6" y="717.73" font-size="14" text-anchor="end" font-weight="normal" font-style="normal" fill="#000" >10</text>
<line x1="43" y1="676.6" x2="47.4" y2="676.6" stroke="#000" stroke-width="1.4" />
<text x="40.6" y="682" font-size="14" text-anchor="end" font-weight="normal" font-style="normal" fill="#000" >15</text>
<line x1="46.75" y1="783.8" x2="213" y2="783.8" stroke="#000" stroke-width="1.4" />
<line x1="47.4" y1="783.8" x2="47.4" y2="788.4" stroke="#000" stroke-width="1.4" />
<text x="47.4" y="801.5" font-size="13.5" text-anchor="middle" font-weight="normal" font-style="normal" fill="#000" >0</text>
<line x1="102.3" y1="783.8" x2="102.3" y2="788.4" stroke="#000" stroke-width="1.4" />
<text x="102.3" y="801.5" font-size="13.5" text-anchor="middle" font-weight="normal" font-style="normal" fill="#000" >5</text>
<line x1="157.2" y1="783.8" x2="157.2" y2="788.4" stroke="#000" stroke-width="1.4" />
<text x="157.2" y="801.5" font-size="13.5" text-anchor="middle" font-weight="normal" font-style="normal" fill="#000" >10</text>
<line x1="212.1" y1="783.8" x2="212.1" y2="788.4" stroke="#000" stroke-width="1.4" />
<text x="212.1" y="801.5" font-size="13.5" text-anchor="middle" font-weight="normal" font-style="normal" fill="#000" >15</text>
<text x="50.8" y="686" font-size="14" text-anchor="start" font-weight="normal" font-style="normal" fill="#000" >Hk<tspan font-style="italic">Mt</tspan></text>
<text x="0" y="0" font-size="13.5" text-anchor="middle" transform="translate(16.6,724.3) rotate(-90)">RLU (×10<tspan font-size="8.5" dy="-5">3</tspan><tspan dy="5">)</tspan></text>
<text x="129.8" y="817" font-size="13.5" text-anchor="middle" font-weight="normal" font-style="normal" fill="#000" >Time (min)</text>
<path d="M47.4,782.94 L58.38,782.94 L69.36,782.94 L80.34,782.94 L91.32,782.94 L102.3,782.94 L113.28,782.94 L124.26,782.94 L135.24,782.94 L146.22,782.94 L157.2,782.94 L168.18,782.94 L179.16,782.94 L190.14,782.94 L201.12,782.94 L212.1,782.94" fill="none" stroke="#000" stroke-width="1.0"/>
<rect x="45.25" y="780.79" width="4.3" height="4.3" fill="#eee" stroke="#111" stroke-width="1.25"/>
<rect x="56.23" y="780.79" width="4.3" height="4.3" fill="#eee" stroke="#111" stroke-width="1.25"/>
<rect x="67.21" y="780.79" width="4.3" height="4.3" fill="#eee" stroke="#111" stroke-width="1.25"/>
<rect x="78.19" y="780.79" width="4.3" height="4.3" fill="#eee" stroke="#111" stroke-width="1.25"/>
<rect x="89.17" y="780.79" width="4.3" height="4.3" fill="#eee" stroke="#111" stroke-width="1.25"/>
<rect x="100.15" y="780.79" width="4.3" height="4.3" fill="#eee" stroke="#111" stroke-width="1.25"/>
<rect x="111.13" y="780.79" width="4.3" height="4.3" fill="#eee" stroke="#111" stroke-width="1.25"/>
<rect x="122.11" y="780.79" width="4.3" height="4.3" fill="#eee" stroke="#111" stroke-width="1.25"/>
<rect x="133.09" y="780.79" width="4.3" height="4.3" fill="#eee" stroke="#111" stroke-width="1.25"/>
<rect x="144.07" y="780.79" width="4.3" height="4.3" fill="#eee" stroke="#111" stroke-width="1.25"/>
<rect x="155.05" y="780.79" width="4.3" height="4.3" fill="#eee" stroke="#111" stroke-width="1.25"/>
<rect x="166.03" y="780.79" width="4.3" height="4.3" fill="#eee" stroke="#111" stroke-width="1.25"/>
<rect x="177.01" y="780.79" width="4.3" height="4.3" fill="#eee" stroke="#111" stroke-width="1.25"/>
<rect x="187.99" y="780.79" width="4.3" height="4.3" fill="#eee" stroke="#111" stroke-width="1.25"/>
<rect x="198.97" y="780.79" width="4.3" height="4.3" fill="#eee" stroke="#111" stroke-width="1.25"/>
<line x1="58.38" y1="766.36" x2="58.38" y2="770.65" stroke="#222" stroke-width="1.1" />
<line x1="56.08" y1="766.36" x2="60.68" y2="766.36" stroke="#222" stroke-width="1.1" />
<line x1="56.08" y1="770.65" x2="60.68" y2="770.65" stroke="#222" stroke-width="1.1" />
<line x1="69.36" y1="756.5" x2="69.36" y2="763.65" stroke="#222" stroke-width="1.1" />
<line x1="67.06" y1="756.5" x2="71.66" y2="756.5" stroke="#222" stroke-width="1.1" />
<line x1="67.06" y1="763.65" x2="71.66" y2="763.65" stroke="#222" stroke-width="1.1" />
<line x1="80.34" y1="747.78" x2="80.34" y2="754.93" stroke="#222" stroke-width="1.1" />
<line x1="78.04" y1="747.78" x2="82.64" y2="747.78" stroke="#222" stroke-width="1.1" />
<line x1="78.04" y1="754.93" x2="82.64" y2="754.93" stroke="#222" stroke-width="1.1" />
<line x1="91.32" y1="745.92" x2="91.32" y2="751.64" stroke="#222" stroke-width="1.1" />
<line x1="89.02" y1="745.92" x2="93.62" y2="745.92" stroke="#222" stroke-width="1.1" />
<line x1="89.02" y1="751.64" x2="93.62" y2="751.64" stroke="#222" stroke-width="1.1" />
<line x1="102.3" y1="747.14" x2="102.3" y2="751.43" stroke="#222" stroke-width="1.1" />
<line x1="100" y1="747.14" x2="104.6" y2="747.14" stroke="#222" stroke-width="1.1" />
<line x1="100" y1="751.43" x2="104.6" y2="751.43" stroke="#222" stroke-width="1.1" />
<line x1="113.28" y1="750.5" x2="113.28" y2="753.36" stroke="#222" stroke-width="1.1" />
<line x1="110.98" y1="750.5" x2="115.58" y2="750.5" stroke="#222" stroke-width="1.1" />
<line x1="110.98" y1="753.36" x2="115.58" y2="753.36" stroke="#222" stroke-width="1.1" />
<line x1="124.26" y1="753.07" x2="124.26" y2="755.93" stroke="#222" stroke-width="1.1" />
<line x1="121.96" y1="753.07" x2="126.56" y2="753.07" stroke="#222" stroke-width="1.1" />
<line x1="121.96" y1="755.93" x2="126.56" y2="755.93" stroke="#222" stroke-width="1.1" />
<line x1="135.24" y1="756" x2="135.24" y2="758.86" stroke="#222" stroke-width="1.1" />
<line x1="132.94" y1="756" x2="137.54" y2="756" stroke="#222" stroke-width="1.1" />
<line x1="132.94" y1="758.86" x2="137.54" y2="758.86" stroke="#222" stroke-width="1.1" />
<line x1="146.22" y1="757.86" x2="146.22" y2="760.72" stroke="#222" stroke-width="1.1" />
<line x1="143.92" y1="757.86" x2="148.52" y2="757.86" stroke="#222" stroke-width="1.1" />
<line x1="143.92" y1="760.72" x2="148.52" y2="760.72" stroke="#222" stroke-width="1.1" />
<line x1="157.2" y1="759.72" x2="157.2" y2="762.57" stroke="#222" stroke-width="1.1" />
<line x1="154.9" y1="759.72" x2="159.5" y2="759.72" stroke="#222" stroke-width="1.1" />
<line x1="154.9" y1="762.57" x2="159.5" y2="762.57" stroke="#222" stroke-width="1.1" />
<line x1="168.18" y1="761.29" x2="168.18" y2="764.15" stroke="#222" stroke-width="1.1" />
<line x1="165.88" y1="761.29" x2="170.48" y2="761.29" stroke="#222" stroke-width="1.1" />
<line x1="165.88" y1="764.15" x2="170.48" y2="764.15" stroke="#222" stroke-width="1.1" />
<line x1="179.16" y1="762.57" x2="179.16" y2="765.43" stroke="#222" stroke-width="1.1" />
<line x1="176.86" y1="762.57" x2="181.46" y2="762.57" stroke="#222" stroke-width="1.1" />
<line x1="176.86" y1="765.43" x2="181.46" y2="765.43" stroke="#222" stroke-width="1.1" />
<line x1="190.14" y1="763.15" x2="190.14" y2="766" stroke="#222" stroke-width="1.1" />
<line x1="187.84" y1="763.15" x2="192.44" y2="763.15" stroke="#222" stroke-width="1.1" />
<line x1="187.84" y1="766" x2="192.44" y2="766" stroke="#222" stroke-width="1.1" />
<line x1="201.12" y1="763.93" x2="201.12" y2="766.79" stroke="#222" stroke-width="1.1" />
<line x1="198.82" y1="763.93" x2="203.42" y2="763.93" stroke="#222" stroke-width="1.1" />
<line x1="198.82" y1="766.79" x2="203.42" y2="766.79" stroke="#222" stroke-width="1.1" />
<path d="M47.4,774.29 L58.38,768.51 L69.36,760.07 L80.34,751.35 L91.32,748.78 L102.3,749.28 L113.28,751.93 L124.26,754.5 L135.24,757.43 L146.22,759.29 L157.2,761.15 L168.18,762.72 L179.16,764 L190.14,764.58 L201.12,765.36 L212.1,766.36" fill="none" stroke="#000" stroke-width="1.0"/>
<polygon points="44.9,772.09 49.9,772.09 47.4,776.49" fill="#ff0000" stroke="#000" stroke-width="1.0" stroke-linejoin="round"/>
<polygon points="55.88,766.31 60.88,766.31 58.38,770.71" fill="#ff0000" stroke="#000" stroke-width="1.0" stroke-linejoin="round"/>
<polygon points="66.86,757.87 71.86,757.87 69.36,762.27" fill="#ff0000" stroke="#000" stroke-width="1.0" stroke-linejoin="round"/>
<polygon points="77.84,749.15 82.84,749.15 80.34,753.55" fill="#ff0000" stroke="#000" stroke-width="1.0" stroke-linejoin="round"/>
<polygon points="88.82,746.58 93.82,746.58 91.32,750.98" fill="#ff0000" stroke="#000" stroke-width="1.0" stroke-linejoin="round"/>
<polygon points="99.8,747.08 104.8,747.08 102.3,751.48" fill="#ff0000" stroke="#000" stroke-width="1.0" stroke-linejoin="round"/>
<polygon points="110.78,749.73 115.78,749.73 113.28,754.13" fill="#ff0000" stroke="#000" stroke-width="1.0" stroke-linejoin="round"/>
<polygon points="121.76,752.3 126.76,752.3 124.26,756.7" fill="#ff0000" stroke="#000" stroke-width="1.0" stroke-linejoin="round"/>
<polygon points="132.74,755.23 137.74,755.23 135.24,759.63" fill="#ff0000" stroke="#000" stroke-width="1.0" stroke-linejoin="round"/>
<polygon points="143.72,757.09 148.72,757.09 146.22,761.49" fill="#ff0000" stroke="#000" stroke-width="1.0" stroke-linejoin="round"/>
<polygon points="154.7,758.95 159.7,758.95 157.2,763.35" fill="#ff0000" stroke="#000" stroke-width="1.0" stroke-linejoin="round"/>
<polygon points="165.68,760.52 170.68,760.52 168.18,764.92" fill="#ff0000" stroke="#000" stroke-width="1.0" stroke-linejoin="round"/>
<polygon points="176.66,761.8 181.66,761.8 179.16,766.2" fill="#ff0000" stroke="#000" stroke-width="1.0" stroke-linejoin="round"/>
<polygon points="187.64,762.38 192.64,762.38 190.14,766.78" fill="#ff0000" stroke="#000" stroke-width="1.0" stroke-linejoin="round"/>
<polygon points="198.62,763.16 203.62,763.16 201.12,767.56" fill="#ff0000" stroke="#000" stroke-width="1.0" stroke-linejoin="round"/>
<line x1="58.38" y1="760.93" x2="58.38" y2="763.79" stroke="#222" stroke-width="1.1" />
<line x1="56.08" y1="760.93" x2="60.68" y2="760.93" stroke="#222" stroke-width="1.1" />
<line x1="56.08" y1="763.79" x2="60.68" y2="763.79" stroke="#222" stroke-width="1.1" />
<line x1="69.36" y1="751.35" x2="69.36" y2="755.64" stroke="#222" stroke-width="1.1" />
<line x1="67.06" y1="751.35" x2="71.66" y2="751.35" stroke="#222" stroke-width="1.1" />
<line x1="67.06" y1="755.64" x2="71.66" y2="755.64" stroke="#222" stroke-width="1.1" />
<line x1="80.34" y1="745.21" x2="80.34" y2="750.93" stroke="#222" stroke-width="1.1" />
<line x1="78.04" y1="745.21" x2="82.64" y2="745.21" stroke="#222" stroke-width="1.1" />
<line x1="78.04" y1="750.93" x2="82.64" y2="750.93" stroke="#222" stroke-width="1.1" />
<line x1="91.32" y1="743.99" x2="91.32" y2="749.71" stroke="#222" stroke-width="1.1" />
<line x1="89.02" y1="743.99" x2="93.62" y2="743.99" stroke="#222" stroke-width="1.1" />
<line x1="89.02" y1="749.71" x2="93.62" y2="749.71" stroke="#222" stroke-width="1.1" />
<line x1="102.3" y1="747.35" x2="102.3" y2="750.21" stroke="#222" stroke-width="1.1" />
<line x1="100" y1="747.35" x2="104.6" y2="747.35" stroke="#222" stroke-width="1.1" />
<line x1="100" y1="750.21" x2="104.6" y2="750.21" stroke="#222" stroke-width="1.1" />
<line x1="113.28" y1="749.92" x2="113.28" y2="752.78" stroke="#222" stroke-width="1.1" />
<line x1="110.98" y1="749.92" x2="115.58" y2="749.92" stroke="#222" stroke-width="1.1" />
<line x1="110.98" y1="752.78" x2="115.58" y2="752.78" stroke="#222" stroke-width="1.1" />
<line x1="124.26" y1="752.57" x2="124.26" y2="755.43" stroke="#222" stroke-width="1.1" />
<line x1="121.96" y1="752.57" x2="126.56" y2="752.57" stroke="#222" stroke-width="1.1" />
<line x1="121.96" y1="755.43" x2="126.56" y2="755.43" stroke="#222" stroke-width="1.1" />
<line x1="135.24" y1="754.71" x2="135.24" y2="757.57" stroke="#222" stroke-width="1.1" />
<line x1="132.94" y1="754.71" x2="137.54" y2="754.71" stroke="#222" stroke-width="1.1" />
<line x1="132.94" y1="757.57" x2="137.54" y2="757.57" stroke="#222" stroke-width="1.1" />
<line x1="146.22" y1="756" x2="146.22" y2="758.86" stroke="#222" stroke-width="1.1" />
<line x1="143.92" y1="756" x2="148.52" y2="756" stroke="#222" stroke-width="1.1" />
<line x1="143.92" y1="758.86" x2="148.52" y2="758.86" stroke="#222" stroke-width="1.1" />
<line x1="157.2" y1="757.36" x2="157.2" y2="760.22" stroke="#222" stroke-width="1.1" />
<line x1="154.9" y1="757.36" x2="159.5" y2="757.36" stroke="#222" stroke-width="1.1" />
<line x1="154.9" y1="760.22" x2="159.5" y2="760.22" stroke="#222" stroke-width="1.1" />
<line x1="168.18" y1="758.36" x2="168.18" y2="761.22" stroke="#222" stroke-width="1.1" />
<line x1="165.88" y1="758.36" x2="170.48" y2="758.36" stroke="#222" stroke-width="1.1" />
<line x1="165.88" y1="761.22" x2="170.48" y2="761.22" stroke="#222" stroke-width="1.1" />
<line x1="179.16" y1="759.14" x2="179.16" y2="762" stroke="#222" stroke-width="1.1" />
<line x1="176.86" y1="759.14" x2="181.46" y2="759.14" stroke="#222" stroke-width="1.1" />
<line x1="176.86" y1="762" x2="181.46" y2="762" stroke="#222" stroke-width="1.1" />
<line x1="190.14" y1="759.93" x2="190.14" y2="762.79" stroke="#222" stroke-width="1.1" />
<line x1="187.84" y1="759.93" x2="192.44" y2="759.93" stroke="#222" stroke-width="1.1" />
<line x1="187.84" y1="762.79" x2="192.44" y2="762.79" stroke="#222" stroke-width="1.1" />
<line x1="201.12" y1="760.5" x2="201.12" y2="763.36" stroke="#222" stroke-width="1.1" />
<line x1="198.82" y1="760.5" x2="203.42" y2="760.5" stroke="#222" stroke-width="1.1" />
<line x1="198.82" y1="763.36" x2="203.42" y2="763.36" stroke="#222" stroke-width="1.1" />
<path d="M47.4,769.51 L58.38,762.36 L69.36,753.5 L80.34,748.07 L91.32,746.85 L102.3,748.78 L113.28,751.35 L124.26,754 L135.24,756.14 L146.22,757.43 L157.2,758.79 L168.18,759.79 L179.16,760.57 L190.14,761.36 L201.12,761.93 L212.1,762.36" fill="none" stroke="#000" stroke-width="1.0"/>
<polygon points="47.4,766.91 50,769.51 47.4,772.11 44.8,769.51" fill="#777" stroke="#222" stroke-width="0.8"/>
<polygon points="58.38,759.76 60.98,762.36 58.38,764.96 55.78,762.36" fill="#777" stroke="#222" stroke-width="0.8"/>
<polygon points="69.36,750.9 71.96,753.5 69.36,756.1 66.76,753.5" fill="#777" stroke="#222" stroke-width="0.8"/>
<polygon points="80.34,745.47 82.94,748.07 80.34,750.67 77.74,748.07" fill="#777" stroke="#222" stroke-width="0.8"/>
<polygon points="91.32,744.25 93.92,746.85 91.32,749.45 88.72,746.85" fill="#777" stroke="#222" stroke-width="0.8"/>
<polygon points="102.3,746.18 104.9,748.78 102.3,751.38 99.7,748.78" fill="#777" stroke="#222" stroke-width="0.8"/>
<polygon points="113.28,748.75 115.88,751.35 113.28,753.95 110.68,751.35" fill="#777" stroke="#222" stroke-width="0.8"/>
<polygon points="124.26,751.4 126.86,754 124.26,756.6 121.66,754" fill="#777" stroke="#222" stroke-width="0.8"/>
<polygon points="135.24,753.54 137.84,756.14 135.24,758.74 132.64,756.14" fill="#777" stroke="#222" stroke-width="0.8"/>
<polygon points="146.22,754.83 148.82,757.43 146.22,760.03 143.62,757.43" fill="#777" stroke="#222" stroke-width="0.8"/>
<polygon points="157.2,756.19 159.8,758.79 157.2,761.39 154.6,758.79" fill="#777" stroke="#222" stroke-width="0.8"/>
<polygon points="168.18,757.19 170.78,759.79 168.18,762.39 165.58,759.79" fill="#777" stroke="#222" stroke-width="0.8"/>
<polygon points="179.16,757.97 181.76,760.57 179.16,763.17 176.56,760.57" fill="#777" stroke="#222" stroke-width="0.8"/>
<polygon points="190.14,758.76 192.74,761.36 190.14,763.96 187.54,761.36" fill="#777" stroke="#222" stroke-width="0.8"/>
<polygon points="201.12,759.33 203.72,761.93 201.12,764.53 198.52,761.93" fill="#777" stroke="#222" stroke-width="0.8"/>
<line x1="47.4" y1="764.93" x2="47.4" y2="772.08" stroke="#222" stroke-width="1.1" />
<line x1="45.1" y1="764.93" x2="49.7" y2="764.93" stroke="#222" stroke-width="1.1" />
<line x1="45.1" y1="772.08" x2="49.7" y2="772.08" stroke="#222" stroke-width="1.1" />
<line x1="58.38" y1="738.49" x2="58.38" y2="749.92" stroke="#222" stroke-width="1.1" />
<line x1="56.08" y1="738.49" x2="60.68" y2="738.49" stroke="#222" stroke-width="1.1" />
<line x1="56.08" y1="749.92" x2="60.68" y2="749.92" stroke="#222" stroke-width="1.1" />
<line x1="69.36" y1="708.9" x2="69.36" y2="728.91" stroke="#222" stroke-width="1.1" />
<line x1="67.06" y1="708.9" x2="71.66" y2="708.9" stroke="#222" stroke-width="1.1" />
<line x1="67.06" y1="728.91" x2="71.66" y2="728.91" stroke="#222" stroke-width="1.1" />
<line x1="80.34" y1="702.97" x2="80.34" y2="710.12" stroke="#222" stroke-width="1.1" />
<line x1="78.04" y1="702.97" x2="82.64" y2="702.97" stroke="#222" stroke-width="1.1" />
<line x1="78.04" y1="710.12" x2="82.64" y2="710.12" stroke="#222" stroke-width="1.1" />
<line x1="91.32" y1="702.61" x2="91.32" y2="710.48" stroke="#222" stroke-width="1.1" />
<line x1="89.02" y1="702.61" x2="93.62" y2="702.61" stroke="#222" stroke-width="1.1" />
<line x1="89.02" y1="710.48" x2="93.62" y2="710.48" stroke="#222" stroke-width="1.1" />
<line x1="102.3" y1="709.62" x2="102.3" y2="712.48" stroke="#222" stroke-width="1.1" />
<line x1="100" y1="709.62" x2="104.6" y2="709.62" stroke="#222" stroke-width="1.1" />
<line x1="100" y1="712.48" x2="104.6" y2="712.48" stroke="#222" stroke-width="1.1" />
<line x1="113.28" y1="719.62" x2="113.28" y2="722.48" stroke="#222" stroke-width="1.1" />
<line x1="110.98" y1="719.62" x2="115.58" y2="719.62" stroke="#222" stroke-width="1.1" />
<line x1="110.98" y1="722.48" x2="115.58" y2="722.48" stroke="#222" stroke-width="1.1" />
<line x1="124.26" y1="727.48" x2="124.26" y2="730.34" stroke="#222" stroke-width="1.1" />
<line x1="121.96" y1="727.48" x2="126.56" y2="727.48" stroke="#222" stroke-width="1.1" />
<line x1="121.96" y1="730.34" x2="126.56" y2="730.34" stroke="#222" stroke-width="1.1" />
<line x1="135.24" y1="736.2" x2="135.24" y2="739.06" stroke="#222" stroke-width="1.1" />
<line x1="132.94" y1="736.2" x2="137.54" y2="736.2" stroke="#222" stroke-width="1.1" />
<line x1="132.94" y1="739.06" x2="137.54" y2="739.06" stroke="#222" stroke-width="1.1" />
<line x1="146.22" y1="741.49" x2="146.22" y2="744.35" stroke="#222" stroke-width="1.1" />
<line x1="143.92" y1="741.49" x2="148.52" y2="741.49" stroke="#222" stroke-width="1.1" />
<line x1="143.92" y1="744.35" x2="148.52" y2="744.35" stroke="#222" stroke-width="1.1" />
<line x1="157.2" y1="745.99" x2="157.2" y2="748.85" stroke="#222" stroke-width="1.1" />
<line x1="154.9" y1="745.99" x2="159.5" y2="745.99" stroke="#222" stroke-width="1.1" />
<line x1="154.9" y1="748.85" x2="159.5" y2="748.85" stroke="#222" stroke-width="1.1" />
<line x1="168.18" y1="748.64" x2="168.18" y2="751.5" stroke="#222" stroke-width="1.1" />
<line x1="165.88" y1="748.64" x2="170.48" y2="748.64" stroke="#222" stroke-width="1.1" />
<line x1="165.88" y1="751.5" x2="170.48" y2="751.5" stroke="#222" stroke-width="1.1" />
<line x1="179.16" y1="751.28" x2="179.16" y2="754.14" stroke="#222" stroke-width="1.1" />
<line x1="176.86" y1="751.28" x2="181.46" y2="751.28" stroke="#222" stroke-width="1.1" />
<line x1="176.86" y1="754.14" x2="181.46" y2="754.14" stroke="#222" stroke-width="1.1" />
<line x1="190.14" y1="753.07" x2="190.14" y2="755.93" stroke="#222" stroke-width="1.1" />
<line x1="187.84" y1="753.07" x2="192.44" y2="753.07" stroke="#222" stroke-width="1.1" />
<line x1="187.84" y1="755.93" x2="192.44" y2="755.93" stroke="#222" stroke-width="1.1" />
<line x1="201.12" y1="753.86" x2="201.12" y2="756.71" stroke="#222" stroke-width="1.1" />
<line x1="198.82" y1="753.86" x2="203.42" y2="753.86" stroke="#222" stroke-width="1.1" />
<line x1="198.82" y1="756.71" x2="203.42" y2="756.71" stroke="#222" stroke-width="1.1" />
<path d="M47.4,768.51 L58.38,744.21 L69.36,718.91 L80.34,706.54 L91.32,706.54 L102.3,711.05 L113.28,721.05 L124.26,728.91 L135.24,737.63 L146.22,742.92 L157.2,747.42 L168.18,750.07 L179.16,752.71 L190.14,754.5 L201.12,755.28 L212.1,756.64" fill="none" stroke="#000" stroke-width="1.0"/>
<circle cx="47.4" cy="768.51" r="2.75" fill="#000"/>
<circle cx="58.38" cy="744.21" r="2.75" fill="#000"/>
<circle cx="69.36" cy="718.91" r="2.75" fill="#000"/>
<circle cx="80.34" cy="706.54" r="2.75" fill="#000"/>
<circle cx="91.32" cy="706.54" r="2.75" fill="#000"/>
<circle cx="102.3" cy="711.05" r="2.75" fill="#000"/>
<circle cx="113.28" cy="721.05" r="2.75" fill="#000"/>
<circle cx="124.26" cy="728.91" r="2.75" fill="#000"/>
<circle cx="135.24" cy="737.63" r="2.75" fill="#000"/>
<circle cx="146.22" cy="742.92" r="2.75" fill="#000"/>
<circle cx="157.2" cy="747.42" r="2.75" fill="#000"/>
<circle cx="168.18" cy="750.07" r="2.75" fill="#000"/>
<circle cx="179.16" cy="752.71" r="2.75" fill="#000"/>
<circle cx="190.14" cy="754.5" r="2.75" fill="#000"/>
<circle cx="201.12" cy="755.28" r="2.75" fill="#000"/>
<line x1="58.38" y1="732.34" x2="58.38" y2="746.64" stroke="#222" stroke-width="1.1" />
<line x1="56.08" y1="732.34" x2="60.68" y2="732.34" stroke="#222" stroke-width="1.1" />
<line x1="56.08" y1="746.64" x2="60.68" y2="746.64" stroke="#222" stroke-width="1.1" />
<line x1="69.36" y1="709.12" x2="69.36" y2="727.7" stroke="#222" stroke-width="1.1" />
<line x1="67.06" y1="709.12" x2="71.66" y2="709.12" stroke="#222" stroke-width="1.1" />
<line x1="67.06" y1="727.7" x2="71.66" y2="727.7" stroke="#222" stroke-width="1.1" />
<line x1="80.34" y1="692.68" x2="80.34" y2="709.83" stroke="#222" stroke-width="1.1" />
<line x1="78.04" y1="692.68" x2="82.64" y2="692.68" stroke="#222" stroke-width="1.1" />
<line x1="78.04" y1="709.83" x2="82.64" y2="709.83" stroke="#222" stroke-width="1.1" />
<line x1="91.32" y1="688.39" x2="91.32" y2="699.83" stroke="#222" stroke-width="1.1" />
<line x1="89.02" y1="688.39" x2="93.62" y2="688.39" stroke="#222" stroke-width="1.1" />
<line x1="89.02" y1="699.83" x2="93.62" y2="699.83" stroke="#222" stroke-width="1.1" />
<line x1="102.3" y1="688.39" x2="102.3" y2="699.83" stroke="#222" stroke-width="1.1" />
<line x1="100" y1="688.39" x2="104.6" y2="688.39" stroke="#222" stroke-width="1.1" />
<line x1="100" y1="699.83" x2="104.6" y2="699.83" stroke="#222" stroke-width="1.1" />
<line x1="113.28" y1="693.75" x2="113.28" y2="702.33" stroke="#222" stroke-width="1.1" />
<line x1="110.98" y1="693.75" x2="115.58" y2="693.75" stroke="#222" stroke-width="1.1" />
<line x1="110.98" y1="702.33" x2="115.58" y2="702.33" stroke="#222" stroke-width="1.1" />
<line x1="124.26" y1="701.61" x2="124.26" y2="708.76" stroke="#222" stroke-width="1.1" />
<line x1="121.96" y1="701.61" x2="126.56" y2="701.61" stroke="#222" stroke-width="1.1" />
<line x1="121.96" y1="708.76" x2="126.56" y2="708.76" stroke="#222" stroke-width="1.1" />
<line x1="135.24" y1="708.76" x2="135.24" y2="715.91" stroke="#222" stroke-width="1.1" />
<line x1="132.94" y1="708.76" x2="137.54" y2="708.76" stroke="#222" stroke-width="1.1" />
<line x1="132.94" y1="715.91" x2="137.54" y2="715.91" stroke="#222" stroke-width="1.1" />
<line x1="146.22" y1="716.12" x2="146.22" y2="723.27" stroke="#222" stroke-width="1.1" />
<line x1="143.92" y1="716.12" x2="148.52" y2="716.12" stroke="#222" stroke-width="1.1" />
<line x1="143.92" y1="723.27" x2="148.52" y2="723.27" stroke="#222" stroke-width="1.1" />
<line x1="157.2" y1="722.77" x2="157.2" y2="729.91" stroke="#222" stroke-width="1.1" />
<line x1="154.9" y1="722.77" x2="159.5" y2="722.77" stroke="#222" stroke-width="1.1" />
<line x1="154.9" y1="729.91" x2="159.5" y2="729.91" stroke="#222" stroke-width="1.1" />
<line x1="168.18" y1="726.48" x2="168.18" y2="735.06" stroke="#222" stroke-width="1.1" />
<line x1="165.88" y1="726.48" x2="170.48" y2="726.48" stroke="#222" stroke-width="1.1" />
<line x1="165.88" y1="735.06" x2="170.48" y2="735.06" stroke="#222" stroke-width="1.1" />
<line x1="179.16" y1="730.7" x2="179.16" y2="739.28" stroke="#222" stroke-width="1.1" />
<line x1="176.86" y1="730.7" x2="181.46" y2="730.7" stroke="#222" stroke-width="1.1" />
<line x1="176.86" y1="739.28" x2="181.46" y2="739.28" stroke="#222" stroke-width="1.1" />
<line x1="190.14" y1="733.34" x2="190.14" y2="741.92" stroke="#222" stroke-width="1.1" />
<line x1="187.84" y1="733.34" x2="192.44" y2="733.34" stroke="#222" stroke-width="1.1" />
<line x1="187.84" y1="741.92" x2="192.44" y2="741.92" stroke="#222" stroke-width="1.1" />
<line x1="201.12" y1="736.56" x2="201.12" y2="745.14" stroke="#222" stroke-width="1.1" />
<line x1="198.82" y1="736.56" x2="203.42" y2="736.56" stroke="#222" stroke-width="1.1" />
<line x1="198.82" y1="745.14" x2="203.42" y2="745.14" stroke="#222" stroke-width="1.1" />
<path d="M47.4,754.5 L58.38,739.49 L69.36,718.41 L80.34,701.26 L91.32,694.11 L102.3,694.11 L113.28,698.04 L124.26,705.19 L135.24,712.33 L146.22,719.69 L157.2,726.34 L168.18,730.77 L179.16,734.99 L190.14,737.63 L201.12,740.85 L212.1,742.92" fill="none" stroke="#000" stroke-width="1.0"/>
<circle cx="47.4" cy="754.5" r="2.5" fill="#fff" stroke="#000" stroke-width="0.9"/>
<circle cx="58.38" cy="739.49" r="2.5" fill="#fff" stroke="#000" stroke-width="0.9"/>
<circle cx="69.36" cy="718.41" r="2.5" fill="#fff" stroke="#000" stroke-width="0.9"/>
<circle cx="80.34" cy="701.26" r="2.5" fill="#fff" stroke="#000" stroke-width="0.9"/>
<circle cx="91.32" cy="694.11" r="2.5" fill="#fff" stroke="#000" stroke-width="0.9"/>
<circle cx="102.3" cy="694.11" r="2.5" fill="#fff" stroke="#000" stroke-width="0.9"/>
<circle cx="113.28" cy="698.04" r="2.5" fill="#fff" stroke="#000" stroke-width="0.9"/>
<circle cx="124.26" cy="705.19" r="2.5" fill="#fff" stroke="#000" stroke-width="0.9"/>
<circle cx="135.24" cy="712.33" r="2.5" fill="#fff" stroke="#000" stroke-width="0.9"/>
<circle cx="146.22" cy="719.69" r="2.5" fill="#fff" stroke="#000" stroke-width="0.9"/>
<circle cx="157.2" cy="726.34" r="2.5" fill="#fff" stroke="#000" stroke-width="0.9"/>
<circle cx="168.18" cy="730.77" r="2.5" fill="#fff" stroke="#000" stroke-width="0.9"/>
<circle cx="179.16" cy="734.99" r="2.5" fill="#fff" stroke="#000" stroke-width="0.9"/>
<circle cx="190.14" cy="737.63" r="2.5" fill="#fff" stroke="#000" stroke-width="0.9"/>
<circle cx="201.12" cy="740.85" r="2.5" fill="#fff" stroke="#000" stroke-width="0.9"/>
<text x="225.9" y="630.2" font-size="21" text-anchor="start" font-weight="bold" font-style="normal" fill="#000" stroke="#000" stroke-width="0.75">h</text>
<rect x="243.14" y="634.54" width="6.72" height="6.72" fill="#000" stroke="#222" stroke-width="0.7"/>
<text x="255.7" y="641.8" font-size="13.5" text-anchor="start" font-weight="normal" font-style="normal" fill="#000"  textLength="20.2" lengthAdjust="spacingAndGlyphs">WT</text>
<rect x="285.46" y="634.86" width="6.08" height="6.08" fill="#ff1a00" stroke="#222" stroke-width="0.7"/>
<text x="297.7" y="641.8" font-size="13.5" text-anchor="start" font-weight="normal" font-style="normal" fill="#000" ><tspan font-style="italic">TNF</tspan> KO</text>
<rect x="356.1" y="634.7" width="6.4" height="6.4" fill="#666" stroke="#222" stroke-width="0.7"/>
<text x="367.7" y="641.8" font-size="13.5" text-anchor="start" font-weight="normal" font-style="normal" fill="#000" ><tspan font-style="italic">TNFR1</tspan> KO</text>
<rect x="243.3" y="650.5" width="6.4" height="6.4" fill="#dcdcdc" stroke="#222" stroke-width="0.7"/>
<text x="256.5" y="657.6" font-size="13.5" text-anchor="start" font-weight="normal" font-style="normal" fill="#000" ><tspan font-style="italic">TNFR2</tspan> KO</text>
<rect x="329.56" y="650.66" width="6.08" height="6.08" fill="#fff" stroke="#222" stroke-width="0.7"/>
<text x="340.6" y="657.6" font-size="13.5" text-anchor="start" font-weight="normal" font-style="normal" fill="#000" ><tspan font-style="italic">CYBB</tspan> KO</text>
<line x1="261.8" y1="676.4" x2="261.8" y2="784.15" stroke="#000" stroke-width="1.4" />
<line x1="257.4" y1="783.5" x2="261.8" y2="783.5" stroke="#000" stroke-width="1.4" />
<text x="255.1" y="788.9" font-size="14" text-anchor="end" font-weight="normal" font-style="normal" fill="#000" >0</text>
<line x1="257.4" y1="747.8" x2="261.8" y2="747.8" stroke="#000" stroke-width="1.4" />
<text x="255.1" y="753.2" font-size="14" text-anchor="end" font-weight="normal" font-style="normal" fill="#000" >5</text>
<line x1="257.4" y1="712.1" x2="261.8" y2="712.1" stroke="#000" stroke-width="1.4" />
<text x="255.1" y="717.5" font-size="14" text-anchor="end" font-weight="normal" font-style="normal" fill="#000" >10</text>
<line x1="257.4" y1="676.4" x2="261.8" y2="676.4" stroke="#000" stroke-width="1.4" />
<text x="255.1" y="681.8" font-size="14" text-anchor="end" font-weight="normal" font-style="normal" fill="#000" >15</text>
<line x1="260.95" y1="783.5" x2="428" y2="783.5" stroke="#000" stroke-width="1.3" />
<line x1="273.8" y1="783.5" x2="273.8" y2="788.7" stroke="#000" stroke-width="1.2" />
<text x="273.8" y="800.6" font-size="13.5" text-anchor="middle" font-weight="normal" font-style="normal" fill="#000" >−</text>
<line x1="289.75" y1="783.5" x2="289.75" y2="788.7" stroke="#000" stroke-width="1.2" />
<text x="289.75" y="800.6" font-size="13.5" text-anchor="middle" font-weight="normal" font-style="normal" fill="#000" >+</text>
<line x1="305.7" y1="783.5" x2="305.7" y2="788.7" stroke="#000" stroke-width="1.2" />
<text x="305.7" y="800.6" font-size="13.5" text-anchor="middle" font-weight="normal" font-style="normal" fill="#000" >−</text>
<line x1="321.65" y1="783.5" x2="321.65" y2="788.7" stroke="#000" stroke-width="1.2" />
<text x="321.65" y="800.6" font-size="13.5" text-anchor="middle" font-weight="normal" font-style="normal" fill="#000" >+</text>
<line x1="337.6" y1="783.5" x2="337.6" y2="788.7" stroke="#000" stroke-width="1.2" />
<text x="337.6" y="800.6" font-size="13.5" text-anchor="middle" font-weight="normal" font-style="normal" fill="#000" >−</text>
<line x1="353.55" y1="783.5" x2="353.55" y2="788.7" stroke="#000" stroke-width="1.2" />
<text x="353.55" y="800.6" font-size="13.5" text-anchor="middle" font-weight="normal" font-style="normal" fill="#000" >+</text>
<line x1="369.5" y1="783.5" x2="369.5" y2="788.7" stroke="#000" stroke-width="1.2" />
<text x="369.5" y="800.6" font-size="13.5" text-anchor="middle" font-weight="normal" font-style="normal" fill="#000" >−</text>
<line x1="385.45" y1="783.5" x2="385.45" y2="788.7" stroke="#000" stroke-width="1.2" />
<text x="385.45" y="800.6" font-size="13.5" text-anchor="middle" font-weight="normal" font-style="normal" fill="#000" >+</text>
<line x1="401.4" y1="783.5" x2="401.4" y2="788.7" stroke="#000" stroke-width="1.2" />
<text x="401.4" y="800.6" font-size="13.5" text-anchor="middle" font-weight="normal" font-style="normal" fill="#000" >−</text>
<line x1="417.35" y1="783.5" x2="417.35" y2="788.7" stroke="#000" stroke-width="1.2" />
<text x="417.35" y="800.6" font-size="13.5" text-anchor="middle" font-weight="normal" font-style="normal" fill="#000" >+</text>
<text x="426.2" y="800.6" font-size="13.5" text-anchor="start" font-weight="normal" font-style="normal" fill="#000" >Hk<tspan font-style="italic">Mt</tspan></text>
<text x="0" y="0" font-size="13.5" text-anchor="middle" transform="translate(238.2,725.4) rotate(-90)">AUC (×10<tspan font-size="8.5" dy="-5">4</tspan><tspan dy="5">)</tspan></text>
<rect x="268.85" y="778.5" width="9.9" height="5" fill="#000" stroke="#000" stroke-width="0.9"/>
<circle cx="270.8" cy="777.07" r="2.3" fill="#fff" stroke="#000" stroke-width="0.9"/>
<circle cx="273.8" cy="776.72" r="2.3" fill="#fff" stroke="#000" stroke-width="0.9"/>
<circle cx="276.8" cy="777.07" r="2.3" fill="#fff" stroke="#000" stroke-width="0.9"/>
<rect x="284.8" y="712.1" width="9.9" height="71.4" fill="#000" stroke="#000" stroke-width="0.9"/>
<circle cx="286.75" cy="712.81" r="2.3" fill="#fff" stroke="#000" stroke-width="0.9"/>
<circle cx="289.75" cy="711.74" r="2.3" fill="#fff" stroke="#000" stroke-width="0.9"/>
<circle cx="292.75" cy="711.39" r="2.3" fill="#fff" stroke="#000" stroke-width="0.9"/>
<rect x="300.75" y="775.65" width="9.9" height="7.85" fill="#ff2600" stroke="#000" stroke-width="0.9"/>
<circle cx="302.7" cy="774.22" r="2.3" fill="#fff" stroke="#000" stroke-width="0.9"/>
<circle cx="305.7" cy="773.5" r="2.3" fill="#fff" stroke="#000" stroke-width="0.9"/>
<circle cx="308.7" cy="774.22" r="2.3" fill="#fff" stroke="#000" stroke-width="0.9"/>
<rect x="316.7" y="747.09" width="9.9" height="36.41" fill="#ff2600" stroke="#000" stroke-width="0.9"/>
<circle cx="318.65" cy="747.09" r="2.3" fill="#fff" stroke="#000" stroke-width="0.9"/>
<circle cx="321.65" cy="746.73" r="2.3" fill="#fff" stroke="#000" stroke-width="0.9"/>
<circle cx="324.65" cy="747.09" r="2.3" fill="#fff" stroke="#000" stroke-width="0.9"/>
<rect x="332.65" y="770.65" width="9.9" height="12.85" fill="#555" stroke="#000" stroke-width="0.9"/>
<circle cx="334.6" cy="770.65" r="2.3" fill="#fff" stroke="#000" stroke-width="0.9"/>
<circle cx="337.6" cy="773.86" r="2.3" fill="#fff" stroke="#000" stroke-width="0.9"/>
<circle cx="340.6" cy="772.08" r="2.3" fill="#fff" stroke="#000" stroke-width="0.9"/>
<rect x="348.6" y="742.09" width="9.9" height="41.41" fill="#666" stroke="#000" stroke-width="0.9"/>
<circle cx="350.55" cy="742.8" r="2.3" fill="#fff" stroke="#000" stroke-width="0.9"/>
<circle cx="353.55" cy="740.66" r="2.3" fill="#fff" stroke="#000" stroke-width="0.9"/>
<circle cx="356.55" cy="741.73" r="2.3" fill="#fff" stroke="#000" stroke-width="0.9"/>
<rect x="364.55" y="752.44" width="9.9" height="31.06" fill="#d8d8d8" stroke="#000" stroke-width="0.9"/>
<line x1="369.5" y1="741.37" x2="369.5" y2="752.44" stroke="#000" stroke-width="0.9" />
<line x1="367.3" y1="741.37" x2="371.7" y2="741.37" stroke="#000" stroke-width="0.9" />
<circle cx="369.5" cy="741.37" r="2.3" fill="#fff" stroke="#000" stroke-width="0.9"/>
<circle cx="369.5" cy="753.51" r="2.3" fill="#fff" stroke="#000" stroke-width="0.9"/>
<circle cx="369.5" cy="759.94" r="2.3" fill="#fff" stroke="#000" stroke-width="0.9"/>
<rect x="380.5" y="688.89" width="9.9" height="94.61" fill="#d8d8d8" stroke="#000" stroke-width="0.9"/>
<line x1="385.45" y1="683.54" x2="385.45" y2="688.89" stroke="#000" stroke-width="0.9" />
<line x1="383.25" y1="683.54" x2="387.65" y2="683.54" stroke="#000" stroke-width="0.9" />
<circle cx="385.45" cy="682.11" r="2.3" fill="#fff" stroke="#000" stroke-width="0.9"/>
<circle cx="385.45" cy="687.82" r="2.3" fill="#fff" stroke="#000" stroke-width="0.9"/>
<circle cx="385.45" cy="694.25" r="2.3" fill="#fff" stroke="#000" stroke-width="0.9"/>
<rect x="396.45" y="783.14" width="9.9" height="0.36" fill="#fff" stroke="#000" stroke-width="0.9"/>
<circle cx="398.4" cy="783.14" r="2.3" fill="#fff" stroke="#000" stroke-width="0.9"/>
<circle cx="401.4" cy="783.14" r="2.3" fill="#fff" stroke="#000" stroke-width="0.9"/>
<circle cx="404.4" cy="783.14" r="2.3" fill="#fff" stroke="#000" stroke-width="0.9"/>
<rect x="412.4" y="783.14" width="9.9" height="0.36" fill="#fff" stroke="#000" stroke-width="0.9"/>
<circle cx="414.35" cy="783.14" r="2.3" fill="#fff" stroke="#000" stroke-width="0.9"/>
<circle cx="417.35" cy="783.14" r="2.3" fill="#fff" stroke="#000" stroke-width="0.9"/>
<circle cx="420.35" cy="783.14" r="2.3" fill="#fff" stroke="#000" stroke-width="0.9"/>
<text x="453.5" y="630.2" font-size="21" text-anchor="start" font-weight="bold" font-style="normal" fill="#000" stroke="#000" stroke-width="0.75">i</text>
<rect x="488.16" y="633.96" width="6.08" height="6.08" fill="#000" stroke="#222" stroke-width="0.7"/>
<text x="500.3" y="641.5" font-size="13.5" text-anchor="start" font-weight="normal" font-style="normal" fill="#000"  textLength="19.7" lengthAdjust="spacingAndGlyphs">WT</text>
<rect x="529.86" y="633.96" width="6.08" height="6.08" fill="#ff1a00" stroke="#222" stroke-width="0.7"/>
<text x="541.6" y="641.5" font-size="13.5" text-anchor="start" font-weight="normal" font-style="normal" fill="#000" ><tspan font-style="italic">TNF</tspan> KO</text>
<rect x="488.26" y="649.96" width="6.08" height="6.08" fill="#666" stroke="#222" stroke-width="0.7"/>
<text x="500.3" y="657.5" font-size="13.5" text-anchor="start" font-weight="normal" font-style="normal" fill="#000" ><tspan font-style="italic">TNFR1</tspan> KO</text>
<rect x="576.96" y="649.96" width="6.08" height="6.08" fill="#fff" stroke="#222" stroke-width="0.7"/>
<text x="587.6" y="657.5" font-size="13.5" text-anchor="start" font-weight="normal" font-style="normal" fill="#000" ><tspan font-style="italic">CYBB</tspan> KO</text>
<line x1="491.1" y1="675.6" x2="491.1" y2="784.25" stroke="#000" stroke-width="1.4" />
<line x1="486.1" y1="783.6" x2="491.1" y2="783.6" stroke="#000" stroke-width="1.4" />
<text x="484.5" y="789" font-size="14" text-anchor="end" font-weight="normal" font-style="normal" fill="#000" >0</text>
<line x1="486.1" y1="756.6" x2="491.1" y2="756.6" stroke="#000" stroke-width="1.4" />
<text x="484.5" y="762" font-size="14" text-anchor="end" font-weight="normal" font-style="normal" fill="#000" >1</text>
<line x1="486.1" y1="729.6" x2="491.1" y2="729.6" stroke="#000" stroke-width="1.4" />
<text x="484.5" y="735" font-size="14" text-anchor="end" font-weight="normal" font-style="normal" fill="#000" >2</text>
<line x1="486.1" y1="702.6" x2="491.1" y2="702.6" stroke="#000" stroke-width="1.4" />
<text x="484.5" y="708" font-size="14" text-anchor="end" font-weight="normal" font-style="normal" fill="#000" >3</text>
<line x1="486.1" y1="675.6" x2="491.1" y2="675.6" stroke="#000" stroke-width="1.4" />
<text x="484.5" y="681" font-size="14" text-anchor="end" font-weight="normal" font-style="normal" fill="#000" >4</text>
<line x1="490.45" y1="783.6" x2="653.6" y2="783.6" stroke="#000" stroke-width="1.3" />
<line x1="498.6" y1="783.6" x2="498.6" y2="788.6" stroke="#000" stroke-width="1.2" />
<text x="499.2" y="798.7" font-size="13.5" text-anchor="middle" font-weight="normal" font-style="normal" fill="#000" >−</text>
<text x="499.2" y="813.6" font-size="13.5" text-anchor="middle" font-weight="normal" font-style="normal" fill="#000" >−</text>
<line x1="509.9" y1="783.6" x2="509.9" y2="788.6" stroke="#000" stroke-width="1.2" />
<text x="510.5" y="798.7" font-size="13.5" text-anchor="middle" font-weight="normal" font-style="normal" fill="#000" >+</text>
<text x="510.5" y="813.6" font-size="13.5" text-anchor="middle" font-weight="normal" font-style="normal" fill="#000" >−</text>
<line x1="521.1" y1="783.6" x2="521.1" y2="788.6" stroke="#000" stroke-width="1.2" />
<text x="521.7" y="798.7" font-size="13.5" text-anchor="middle" font-weight="normal" font-style="normal" fill="#000" >+</text>
<text x="521.7" y="813.6" font-size="13.5" text-anchor="middle" font-weight="normal" font-style="normal" fill="#000" >+</text>
<line x1="539.9" y1="783.6" x2="539.9" y2="788.6" stroke="#000" stroke-width="1.2" />
<text x="540.5" y="798.7" font-size="13.5" text-anchor="middle" font-weight="normal" font-style="normal" fill="#000" >−</text>
<text x="540.5" y="813.6" font-size="13.5" text-anchor="middle" font-weight="normal" font-style="normal" fill="#000" >−</text>
<line x1="551.4" y1="783.6" x2="551.4" y2="788.6" stroke="#000" stroke-width="1.2" />
<text x="552" y="798.7" font-size="13.5" text-anchor="middle" font-weight="normal" font-style="normal" fill="#000" >+</text>
<text x="552" y="813.6" font-size="13.5" text-anchor="middle" font-weight="normal" font-style="normal" fill="#000" >−</text>
<line x1="562.6" y1="783.6" x2="562.6" y2="788.6" stroke="#000" stroke-width="1.2" />
<text x="563.2" y="798.7" font-size="13.5" text-anchor="middle" font-weight="normal" font-style="normal" fill="#000" >+</text>
<text x="563.2" y="813.6" font-size="13.5" text-anchor="middle" font-weight="normal" font-style="normal" fill="#000" >+</text>
<line x1="581.8" y1="783.6" x2="581.8" y2="788.6" stroke="#000" stroke-width="1.2" />
<text x="582.4" y="798.7" font-size="13.5" text-anchor="middle" font-weight="normal" font-style="normal" fill="#000" >−</text>
<text x="582.4" y="813.6" font-size="13.5" text-anchor="middle" font-weight="normal" font-style="normal" fill="#000" >−</text>
<line x1="593" y1="783.6" x2="593" y2="788.6" stroke="#000" stroke-width="1.2" />
<text x="593.6" y="798.7" font-size="13.5" text-anchor="middle" font-weight="normal" font-style="normal" fill="#000" >+</text>
<text x="593.6" y="813.6" font-size="13.5" text-anchor="middle" font-weight="normal" font-style="normal" fill="#000" >−</text>
<line x1="604.5" y1="783.6" x2="604.5" y2="788.6" stroke="#000" stroke-width="1.2" />
<text x="605.1" y="798.7" font-size="13.5" text-anchor="middle" font-weight="normal" font-style="normal" fill="#000" >+</text>
<text x="605.1" y="813.6" font-size="13.5" text-anchor="middle" font-weight="normal" font-style="normal" fill="#000" >+</text>
<line x1="623" y1="783.6" x2="623" y2="788.6" stroke="#000" stroke-width="1.2" />
<text x="623.6" y="798.7" font-size="13.5" text-anchor="middle" font-weight="normal" font-style="normal" fill="#000" >−</text>
<text x="623.6" y="813.6" font-size="13.5" text-anchor="middle" font-weight="normal" font-style="normal" fill="#000" >−</text>
<line x1="634.1" y1="783.6" x2="634.1" y2="788.6" stroke="#000" stroke-width="1.2" />
<text x="634.7" y="798.7" font-size="13.5" text-anchor="middle" font-weight="normal" font-style="normal" fill="#000" >+</text>
<text x="634.7" y="813.6" font-size="13.5" text-anchor="middle" font-weight="normal" font-style="normal" fill="#000" >−</text>
<line x1="645.2" y1="783.6" x2="645.2" y2="788.6" stroke="#000" stroke-width="1.2" />
<text x="645.8" y="798.7" font-size="13.5" text-anchor="middle" font-weight="normal" font-style="normal" fill="#000" >+</text>
<text x="645.8" y="813.6" font-size="13.5" text-anchor="middle" font-weight="normal" font-style="normal" fill="#000" >+</text>
<text x="655.1" y="798.7" font-size="13.5" text-anchor="start" font-weight="normal" font-style="normal" fill="#000" >PMA</text>
<text x="653.8" y="813.6" font-size="13.5" text-anchor="start" font-weight="normal" font-style="normal" fill="#000" >TNF</text>
<text x="0" y="0" font-size="13.5" text-anchor="middle" transform="translate(458.2,726) rotate(-90)">H<tspan font-size="9" dy="4">2</tspan><tspan dy="-4">O</tspan><tspan font-size="9" dy="4">2</tspan><tspan dy="-4"> (µM)</tspan></text>
<circle cx="497" cy="783.6" r="2.3" fill="#fff" stroke="#000" stroke-width="0.9"/>
<circle cx="500.2" cy="782.25" r="2.3" fill="#fff" stroke="#000" stroke-width="0.9"/>
<rect x="506.5" y="738.51" width="6.8" height="45.09" fill="#000" stroke="#000" stroke-width="0.9"/>
<circle cx="509.9" cy="730.95" r="2.3" fill="#fff" stroke="#000" stroke-width="0.9"/>
<circle cx="509.9" cy="745.8" r="2.3" fill="#fff" stroke="#000" stroke-width="0.9"/>
<rect x="517.7" y="699.9" width="6.8" height="83.7" fill="#000" stroke="#000" stroke-width="0.9"/>
<circle cx="521.1" cy="693.15" r="2.3" fill="#fff" stroke="#000" stroke-width="0.9"/>
<circle cx="521.1" cy="706.65" r="2.3" fill="#fff" stroke="#000" stroke-width="0.9"/>
<circle cx="538.3" cy="783.6" r="2.3" fill="#fff" stroke="#000" stroke-width="0.9"/>
<circle cx="541.5" cy="783.6" r="2.3" fill="#fff" stroke="#000" stroke-width="0.9"/>
<rect x="548" y="769.83" width="6.8" height="13.77" fill="#ff0a00" stroke="#000" stroke-width="0.9"/>
<circle cx="551.4" cy="766.05" r="2.3" fill="#fff" stroke="#000" stroke-width="0.9"/>
<circle cx="551.4" cy="772.8" r="2.3" fill="#fff" stroke="#000" stroke-width="0.9"/>
<rect x="559.2" y="730.41" width="6.8" height="53.19" fill="#ff0a00" stroke="#000" stroke-width="0.9"/>
<circle cx="560.8" cy="730.14" r="2.3" fill="#fff" stroke="#000" stroke-width="0.9"/>
<circle cx="564.4" cy="729.6" r="2.3" fill="#fff" stroke="#000" stroke-width="0.9"/>
<circle cx="581.8" cy="783.6" r="2.3" fill="#fff" stroke="#000" stroke-width="0.9"/>
<rect x="589.6" y="767.67" width="6.8" height="15.93" fill="#7a7a7a" stroke="#000" stroke-width="0.9"/>
<circle cx="593" cy="762" r="2.3" fill="#fff" stroke="#000" stroke-width="0.9"/>
<circle cx="593" cy="768.75" r="2.3" fill="#fff" stroke="#000" stroke-width="0.9"/>
<rect x="601.1" y="764.7" width="6.8" height="18.9" fill="#7a7a7a" stroke="#000" stroke-width="0.9"/>
<circle cx="604.5" cy="761.46" r="2.3" fill="#fff" stroke="#000" stroke-width="0.9"/>
<circle cx="604.5" cy="766.86" r="2.3" fill="#fff" stroke="#000" stroke-width="0.9"/>
<circle cx="632.5" cy="783.6" r="2.3" fill="#fff" stroke="#000" stroke-width="0.9"/>
<circle cx="635.7" cy="783.6" r="2.3" fill="#fff" stroke="#000" stroke-width="0.9"/>
<circle cx="643.6" cy="783.6" r="2.3" fill="#fff" stroke="#000" stroke-width="0.9"/>
<circle cx="646.8" cy="783.6" r="2.3" fill="#fff" stroke="#000" stroke-width="0.9"/>
</svg></body></html>
